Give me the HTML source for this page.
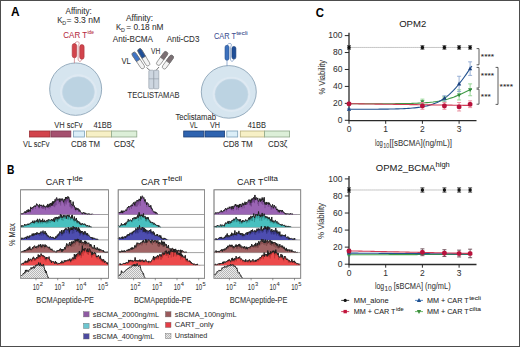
<!DOCTYPE html>
<html><head><meta charset="utf-8"><style>
html,body{margin:0;padding:0;background:#fff;}
svg{display:block;font-family:"Liberation Sans", sans-serif;}
text{stroke:currentColor;stroke-width:0.05px;}
</style></head><body>
<svg width="520" height="347" viewBox="0 0 520 347">
<rect x="0.5" y="0.5" width="519" height="346" fill="#fff" stroke="#4d4d4d" stroke-width="1"/>
<text x="11.0" y="16.3" font-size="11.87" fill="#000" color="#000" textLength="8.6" lengthAdjust="spacingAndGlyphs" font-weight="bold" >A</text>
<text x="7.1" y="173.5" font-size="11.87" fill="#000" color="#000" textLength="7.4" lengthAdjust="spacingAndGlyphs" font-weight="bold" >B</text>
<text x="315.8" y="16.7" font-size="11.87" fill="#000" color="#000" textLength="8.2" lengthAdjust="spacingAndGlyphs" font-weight="bold" >C</text>
<ellipse cx="75.65" cy="89.15" rx="26.0" ry="26.2" fill="#d6e5ef" stroke="#8da5b8" stroke-width="0.9"/>
<ellipse cx="78.4" cy="91.9" rx="18.4" ry="17.599999999999998" fill="#dee9f2"/>
<ellipse cx="78.4" cy="91.9" rx="16.0" ry="15.2" fill="#bcd3e2" stroke="#c6d9e6" stroke-width="0.6"/>
<ellipse cx="228.8" cy="91.9" rx="27.5" ry="26.3" fill="#d6e5ef" stroke="#8da5b8" stroke-width="0.9"/>
<ellipse cx="231.5" cy="94.3" rx="18.9" ry="17.599999999999998" fill="#dee9f2"/>
<ellipse cx="231.5" cy="94.3" rx="16.5" ry="15.2" fill="#bcd3e2" stroke="#c6d9e6" stroke-width="0.6"/>
<path d="M74.4,44.6 C74.4,40.6 81.9,40.6 78.15,45.6 L78.15,59.2 C78.15,62.2 81.9,62.2 81.9,58.2" fill="none" stroke="#c9767c" stroke-width="0.7"/>
<line x1="74.4" y1="56.8" x2="74.4" y2="63.2" stroke="#c9767c" stroke-width="0.7"/>
<rect x="72.2" y="43.6" width="4.4" height="14.199999999999996" rx="2.2" fill="#d2444c" stroke="#a8323a" stroke-width="0.6"/>
<rect x="79.7" y="44.6" width="4.4" height="14.600000000000001" rx="2.2" fill="#d2444c" stroke="#a8323a" stroke-width="0.6"/>
<path d="M227.0,46.3 C227.0,42.3 233.9,42.3 230.45,47.3 L230.45,59.1 C230.45,62.1 233.9,62.1 233.9,58.1" fill="none" stroke="#6f8fbf" stroke-width="0.7"/>
<line x1="227.0" y1="59.3" x2="227.0" y2="66" stroke="#6f8fbf" stroke-width="0.7"/>
<rect x="225.0" y="45.3" width="4.0" height="15.0" rx="2.0" fill="#3d71bd" stroke="#2a538f" stroke-width="0.6"/>
<rect x="231.9" y="46.4" width="4.0" height="12.700000000000003" rx="2.0" fill="#1f4e97" stroke="#173a73" stroke-width="0.6"/>
<text x="65.6" y="13.6" font-size="8.48" fill="#2e2e2e" color="#2e2e2e" textLength="26.2" lengthAdjust="spacingAndGlyphs" >Affinity:</text>
<text x="57.2" y="23.1" font-size="8.48" fill="#2e2e2e" color="#2e2e2e" textLength="5.2" lengthAdjust="spacingAndGlyphs" >K</text>
<text x="62.3" y="25.4" font-size="5.3" fill="#2e2e2e" color="#2e2e2e" >D</text>
<text x="66.5" y="23.1" font-size="8.48" fill="#2e2e2e" color="#2e2e2e" textLength="33.7" lengthAdjust="spacingAndGlyphs" >= 3.3 nM</text>
<text x="63.3" y="37.6" font-size="8.37" fill="#b52a40" color="#b52a40" textLength="23.8" lengthAdjust="spacingAndGlyphs" >CAR T</text>
<text x="87.4" y="34.4" font-size="5.3" fill="#b52a40" color="#b52a40" textLength="6.5" lengthAdjust="spacingAndGlyphs" >ide</text>
<text x="126" y="20.6" font-size="8.48" fill="#2e2e2e" color="#2e2e2e" textLength="27" lengthAdjust="spacingAndGlyphs" >Affinity:</text>
<text x="116" y="30.1" font-size="8.48" fill="#2e2e2e" color="#2e2e2e" textLength="5.2" lengthAdjust="spacingAndGlyphs" >K</text>
<text x="121.1" y="32.4" font-size="5.3" fill="#2e2e2e" color="#2e2e2e" >D</text>
<text x="126.3" y="30.1" font-size="8.48" fill="#2e2e2e" color="#2e2e2e" textLength="37.2" lengthAdjust="spacingAndGlyphs" >= 0.18 nM</text>
<text x="112.8" y="41.6" font-size="8.48" fill="#2e2e2e" color="#2e2e2e" textLength="40.2" lengthAdjust="spacingAndGlyphs" >Anti-BCMA</text>
<text x="166.7" y="41.8" font-size="8.48" fill="#2e2e2e" color="#2e2e2e" textLength="32.7" lengthAdjust="spacingAndGlyphs" >Anti-CD3</text>
<text x="214" y="38.6" font-size="8.37" fill="#3a4d8f" color="#3a4d8f" textLength="22" lengthAdjust="spacingAndGlyphs" >CAR T</text>
<text x="236.3" y="35.3" font-size="5.3" fill="#3a4d8f" color="#3a4d8f" textLength="11.5" lengthAdjust="spacingAndGlyphs" >tecli</text>
<path d="M146.5,67.5 L150.5,71 M159,67 L155.5,71" stroke="#555" stroke-width="0.8" fill="none"/>
<g transform="translate(133.0,52.6) rotate(56.14)">
<rect x="0" y="-2.1" width="19.02629759044045" height="4.2" rx="2.1" fill="#f4f4f4" stroke="#6a6a6a" stroke-width="0.6"/>
<path d="M9.513148795220225,-2.1 L2.1,-2.1 A2.1,2.1 0 0 0 2.1,2.1 L9.513148795220225,2.1 Z" fill="#3f74c6" stroke="#6a6a6a" stroke-width="0.6"/>
</g>
<g transform="translate(138.8,49.0) rotate(58.93)">
<rect x="0" y="-2.1" width="19.379370474811605" height="4.2" rx="2.1" fill="#f4f4f4" stroke="#6a6a6a" stroke-width="0.6"/>
<path d="M9.689685237405802,-2.1 L2.1,-2.1 A2.1,2.1 0 0 0 2.1,2.1 L9.689685237405802,2.1 Z" fill="#1f4f98" stroke="#6a6a6a" stroke-width="0.6"/>
</g>
<g transform="translate(172.6,55.6) rotate(125.87)">
<rect x="0" y="-2.1" width="16.04244370412438" height="4.2" rx="2.1" fill="#f4f4f4" stroke="#6a6a6a" stroke-width="0.6"/>
<path d="M8.02122185206219,-2.1 L2.1,-2.1 A2.1,2.1 0 0 0 2.1,2.1 L8.02122185206219,2.1 Z" fill="#7b7074" stroke="#6a6a6a" stroke-width="0.6"/>
</g>
<g transform="translate(166.8,52.0) rotate(125.87)">
<rect x="0" y="-2.1" width="16.042443704124384" height="4.2" rx="2.1" fill="#f4f4f4" stroke="#6a6a6a" stroke-width="0.6"/>
<path d="M8.021221852062192,-2.1 L2.1,-2.1 A2.1,2.1 0 0 0 2.1,2.1 L8.021221852062192,2.1 Z" fill="#7b7074" stroke="#6a6a6a" stroke-width="0.6"/>
</g>
<rect x="148.8" y="70.2" width="5" height="18.6" rx="1" fill="#cdd6e0" stroke="#8d97a3" stroke-width="0.6"/>
<rect x="153.8" y="70.2" width="5" height="18.6" rx="1" fill="#cdd6e0" stroke="#8d97a3" stroke-width="0.6"/>
<line x1="148.8" y1="78.8" x2="158.8" y2="78.8" stroke="#8d97a3" stroke-width="0.6"/>
<text x="121.5" y="64.2" font-size="8.48" fill="#2e2e2e" color="#2e2e2e" textLength="9.3" lengthAdjust="spacingAndGlyphs" >VL</text>
<text x="151" y="54.3" font-size="8.48" fill="#2e2e2e" color="#2e2e2e" textLength="9.3" lengthAdjust="spacingAndGlyphs" >VH</text>
<text x="127.6" y="98" font-size="8.48" fill="#2e2e2e" color="#2e2e2e" textLength="51.9" lengthAdjust="spacingAndGlyphs" >TECLISTAMAB</text>
<rect x="29.5" y="131.0" width="20.5" height="6.0" fill="#d2434b" stroke="#9c2f36" stroke-width="0.8"/>
<rect x="51.0" y="131.0" width="19.799999999999997" height="6.0" fill="#a5506f" stroke="#7d3b53" stroke-width="0.8"/>
<rect x="73.4" y="131.0" width="11.0" height="6.0" fill="#dbeef8" stroke="#7b9fb8" stroke-width="0.8"/>
<rect x="86.4" y="131.0" width="25.0" height="6.0" fill="#f7f0c6" stroke="#b7ae7d" stroke-width="0.8"/>
<rect x="111.4" y="131.0" width="25.400000000000006" height="6.0" fill="#dcefd8" stroke="#8ea889" stroke-width="0.8"/>
<text x="54.3" y="128.4" font-size="8.48" fill="#2e2e2e" color="#2e2e2e" textLength="28.3" lengthAdjust="spacingAndGlyphs" >VH scFv</text>
<text x="93.4" y="128.4" font-size="8.48" fill="#2e2e2e" color="#2e2e2e" textLength="18.5" lengthAdjust="spacingAndGlyphs" >41BB</text>
<text x="23.0" y="146.9" font-size="8.48" fill="#2e2e2e" color="#2e2e2e" textLength="26.5" lengthAdjust="spacingAndGlyphs" >VL scFv</text>
<text x="71.0" y="146.9" font-size="8.48" fill="#2e2e2e" color="#2e2e2e" textLength="29" lengthAdjust="spacingAndGlyphs" >CD8 TM</text>
<text x="113.8" y="146.9" font-size="8.48" fill="#2e2e2e" color="#2e2e2e" textLength="20.8" lengthAdjust="spacingAndGlyphs" >CD3ζ</text>
<rect x="183.7" y="131.0" width="20.100000000000023" height="6.0" fill="#2e63b0" stroke="#1d3f75" stroke-width="0.8"/>
<rect x="205.0" y="131.0" width="19.599999999999994" height="6.0" fill="#2e63b0" stroke="#1d3f75" stroke-width="0.8"/>
<rect x="226.8" y="131.0" width="10.899999999999977" height="6.0" fill="#dbeef8" stroke="#7b9fb8" stroke-width="0.8"/>
<rect x="240.3" y="131.0" width="24.30000000000001" height="6.0" fill="#f7f0c6" stroke="#b7ae7d" stroke-width="0.8"/>
<rect x="264.6" y="131.0" width="25.0" height="6.0" fill="#dcefd8" stroke="#8ea889" stroke-width="0.8"/>
<text x="175.4" y="120.2" font-size="8.48" fill="#2e2e2e" color="#2e2e2e" textLength="40.6" lengthAdjust="spacingAndGlyphs" >Teclistamab</text>
<text x="189.7" y="128.3" font-size="8.48" fill="#2e2e2e" color="#2e2e2e" textLength="8" lengthAdjust="spacingAndGlyphs" >VL</text>
<text x="210" y="128.3" font-size="8.48" fill="#2e2e2e" color="#2e2e2e" textLength="10" lengthAdjust="spacingAndGlyphs" >VH</text>
<text x="247.7" y="128.4" font-size="8.48" fill="#2e2e2e" color="#2e2e2e" textLength="18.3" lengthAdjust="spacingAndGlyphs" >41BB</text>
<text x="223.0" y="146.9" font-size="8.48" fill="#2e2e2e" color="#2e2e2e" textLength="29.8" lengthAdjust="spacingAndGlyphs" >CD8 TM</text>
<text x="268.0" y="146.9" font-size="8.48" fill="#2e2e2e" color="#2e2e2e" textLength="19.3" lengthAdjust="spacingAndGlyphs" >CD3ζ</text>
<defs><pattern id="hatch" width="2" height="2" patternUnits="userSpaceOnUse"><rect width="2" height="2" fill="#ececec"/><rect width="1" height="1" fill="#b6b6b6"/><rect x="1" y="1" width="1" height="1" fill="#b6b6b6"/></pattern></defs>
<rect x="20.6" y="189.8" width="87.80000000000001" height="88.5" fill="#fff" stroke="#8a8a8a" stroke-width="0.8"/>
<line x1="20.6" y1="214.5" x2="108.4" y2="214.5" stroke="#8a8a8a" stroke-width="0.8"/>
<path d="M20.6,214.5 L20.60,214.17 L21.00,213.53 L21.40,214.14 L21.80,213.55 L22.20,213.77 L22.60,213.52 L23.01,213.16 L23.41,213.08 L23.81,213.16 L24.21,212.71 L24.61,212.12 L25.01,211.38 L25.41,213.14 L25.81,211.65 L26.21,212.79 L26.61,211.91 L27.01,210.02 L27.42,211.84 L27.82,211.81 L28.22,209.38 L28.62,212.06 L29.02,209.96 L29.42,210.29 L29.82,209.91 L30.22,211.48 L30.62,207.05 L31.02,207.42 L31.42,208.93 L31.83,208.00 L32.23,207.51 L32.63,207.49 L33.03,208.10 L33.43,207.07 L33.83,206.20 L34.23,206.66 L34.63,206.53 L35.03,205.37 L35.43,206.95 L35.83,206.19 L36.24,205.27 L36.64,203.67 L37.04,204.01 L37.44,205.32 L37.84,205.34 L38.24,205.73 L38.64,205.38 L39.04,207.30 L39.44,204.32 L39.84,204.67 L40.24,205.59 L40.65,204.94 L41.05,206.00 L41.45,204.90 L41.85,205.84 L42.25,205.86 L42.65,206.48 L43.05,205.95 L43.45,204.79 L43.85,206.93 L44.25,206.86 L44.65,205.96 L45.06,206.35 L45.46,207.21 L45.86,207.17 L46.26,205.99 L46.66,205.63 L47.06,207.21 L47.46,205.33 L47.86,203.94 L48.26,207.26 L48.66,205.10 L49.06,205.21 L49.47,203.74 L49.87,206.68 L50.27,204.09 L50.67,203.13 L51.07,203.70 L51.47,205.55 L51.87,202.70 L52.27,205.45 L52.67,201.41 L53.07,204.05 L53.47,201.56 L53.88,203.08 L54.28,201.22 L54.68,201.80 L55.08,199.25 L55.48,201.36 L55.88,200.77 L56.28,198.16 L56.68,197.56 L57.08,198.71 L57.48,199.45 L57.88,200.36 L58.29,199.13 L58.69,199.05 L59.09,199.12 L59.49,198.76 L59.89,201.82 L60.29,198.78 L60.69,199.34 L61.09,198.62 L61.49,198.98 L61.89,200.56 L62.29,198.87 L62.70,198.68 L63.10,200.30 L63.50,202.28 L63.90,200.32 L64.30,199.05 L64.70,200.18 L65.10,200.08 L65.50,197.06 L65.90,199.03 L66.30,197.00 L66.71,198.22 L67.11,198.56 L67.51,198.79 L67.91,196.31 L68.31,198.15 L68.71,197.03 L69.11,198.62 L69.51,201.00 L69.91,202.41 L70.31,201.31 L70.71,200.12 L71.12,203.52 L71.52,204.52 L71.92,204.49 L72.32,205.32 L72.72,205.80 L73.12,201.68 L73.52,205.39 L73.92,206.32 L74.32,205.70 L74.72,207.48 L75.12,207.04 L75.53,210.01 L75.93,208.28 L76.33,207.82 L76.73,209.33 L77.13,209.80 L77.53,208.46 L77.93,209.67 L78.33,208.61 L78.73,209.66 L79.13,211.58 L79.53,209.67 L79.94,210.27 L80.34,211.27 L80.74,211.97 L81.14,212.64 L81.54,212.76 L81.94,213.68 L82.34,213.87 L82.74,212.76 L83.14,213.05 L83.54,212.17 L83.94,212.67 L84.35,213.58 L84.75,212.66 L85.15,214.09 L85.55,212.94 L85.95,213.66 L86.35,214.12 L86.75,213.57 L87.15,214.26 L87.55,214.03 L87.95,214.50 L88.35,214.12 L88.76,213.54 L89.16,214.38 L89.56,213.98 L89.96,213.98 L90.36,214.46 L90.76,214.17 L91.16,214.07 L91.56,214.23 L91.96,214.15 L92.36,213.79 L92.76,214.33 L93.17,214.32 L93.57,214.45 L93.97,214.26 L94.37,214.25 L94.77,214.26 L95.17,214.27 L95.57,214.28 L95.97,214.29 L96.37,214.29 L96.77,214.30 L97.17,214.31 L97.58,214.32 L97.98,214.33 L98.38,214.34 L98.78,214.35 L99.18,214.36 L99.58,214.37 L99.98,214.38 L100.38,214.39 L100.78,214.40 L101.18,214.40 L101.58,214.41 L101.99,214.42 L102.39,214.43 L102.79,214.44 L103.19,214.45 L103.59,214.45 L103.99,214.46 L104.39,214.47 L104.79,214.47 L105.19,214.48 L105.59,214.48 L105.99,214.49 L106.40,214.49 L106.80,214.49 L107.20,214.50 L107.60,214.50 L108.00,214.50 L108.40,214.50 L108.4,214.5 Z" fill="#9a64b4"/>
<path d="M24.2,212.7V213.4M24.6,212.1V213.0M25.0,211.4V212.1M28.2,209.4V211.2M29.4,210.3V211.3M30.2,211.5V212.8M31.0,207.4V208.6M31.8,208.0V208.8M32.6,207.5V210.1M33.0,208.1V209.6M33.8,206.2V207.4M35.4,207.0V209.0M37.0,204.0V204.9M37.4,205.3V206.1M39.0,207.3V208.4M39.4,204.3V208.3M40.6,204.9V205.8M41.4,204.9V208.3M41.8,205.8V208.0M42.7,206.5V208.9M43.1,205.9V208.8M43.9,206.9V208.8M44.7,206.0V207.2M45.1,206.4V208.5M45.5,207.2V210.2M47.5,205.3V208.0M49.1,205.2V209.1M50.7,203.1V207.8M52.7,201.4V205.8M53.1,204.1V206.1M53.5,201.6V202.2M53.9,203.1V206.6M54.7,201.8V207.2M55.5,201.4V205.5M56.7,197.6V205.2M58.7,199.0V203.6M59.5,198.8V202.0M59.9,201.8V203.4M60.3,198.8V200.0M60.7,199.3V205.6M63.9,200.3V204.4M64.7,200.2V206.2M65.1,200.1V203.5M65.5,197.1V201.3M66.3,197.0V204.5M66.7,198.2V202.4M67.5,198.8V201.2M68.7,197.0V202.8M69.1,198.6V199.3M69.5,201.0V201.8M69.9,202.4V206.7M70.3,201.3V206.7M71.1,203.5V208.4M71.9,204.5V208.6M72.3,205.3V207.6M73.1,201.7V205.0M74.3,205.7V209.6M75.5,210.0V211.5M75.9,208.3V209.3M76.3,207.8V209.7M76.7,209.3V210.7M77.5,208.5V209.6M78.3,208.6V210.8M80.3,211.3V212.0M82.7,212.8V213.4" stroke="#3a1a4a" stroke-width="0.6" opacity="0.55" fill="none"/>
<path d="M20.60,214.20 L21.00,213.53 L21.40,214.14 L21.80,213.55 L22.20,213.77 L22.60,213.52 L23.01,213.16 L23.41,213.08 L23.81,213.16 L24.21,212.71 L24.61,212.12 L25.01,211.38 L25.41,213.14 L25.81,211.65 L26.21,212.79 L26.61,211.91 L27.01,210.02 L27.42,211.84 L27.82,211.81 L28.22,209.38 L28.62,212.06 L29.02,209.96 L29.42,210.29 L29.82,209.91 L30.22,211.48 L30.62,207.05 L31.02,207.42 L31.42,208.93 L31.83,208.00 L32.23,207.51 L32.63,207.49 L33.03,208.10 L33.43,207.07 L33.83,206.20 L34.23,206.66 L34.63,206.53 L35.03,205.37 L35.43,206.95 L35.83,206.19 L36.24,205.27 L36.64,203.67 L37.04,204.01 L37.44,205.32 L37.84,205.34 L38.24,205.73 L38.64,205.38 L39.04,207.30 L39.44,204.32 L39.84,204.67 L40.24,205.59 L40.65,204.94 L41.05,206.00 L41.45,204.90 L41.85,205.84 L42.25,205.86 L42.65,206.48 L43.05,205.95 L43.45,204.79 L43.85,206.93 L44.25,206.86 L44.65,205.96 L45.06,206.35 L45.46,207.21 L45.86,207.17 L46.26,205.99 L46.66,205.63 L47.06,207.21 L47.46,205.33 L47.86,203.94 L48.26,207.26 L48.66,205.10 L49.06,205.21 L49.47,203.74 L49.87,206.68 L50.27,204.09 L50.67,203.13 L51.07,203.70 L51.47,205.55 L51.87,202.70 L52.27,205.45 L52.67,201.41 L53.07,204.05 L53.47,201.56 L53.88,203.08 L54.28,201.22 L54.68,201.80 L55.08,199.25 L55.48,201.36 L55.88,200.77 L56.28,198.16 L56.68,197.56 L57.08,198.71 L57.48,199.45 L57.88,200.36 L58.29,199.13 L58.69,199.05 L59.09,199.12 L59.49,198.76 L59.89,201.82 L60.29,198.78 L60.69,199.34 L61.09,198.62 L61.49,198.98 L61.89,200.56 L62.29,198.87 L62.70,198.68 L63.10,200.30 L63.50,202.28 L63.90,200.32 L64.30,199.05 L64.70,200.18 L65.10,200.08 L65.50,197.06 L65.90,199.03 L66.30,197.00 L66.71,198.22 L67.11,198.56 L67.51,198.79 L67.91,196.31 L68.31,198.15 L68.71,197.03 L69.11,198.62 L69.51,201.00 L69.91,202.41 L70.31,201.31 L70.71,200.12 L71.12,203.52 L71.52,204.52 L71.92,204.49 L72.32,205.32 L72.72,205.80 L73.12,201.68 L73.52,205.39 L73.92,206.32 L74.32,205.70 L74.72,207.48 L75.12,207.04 L75.53,210.01 L75.93,208.28 L76.33,207.82 L76.73,209.33 L77.13,209.80 L77.53,208.46 L77.93,209.67 L78.33,208.61 L78.73,209.66 L79.13,211.58 L79.53,209.67 L79.94,210.27 L80.34,211.27 L80.74,211.97 L81.14,212.64 L81.54,212.76 L81.94,213.68 L82.34,213.87 L82.74,212.76 L83.14,213.05 L83.54,212.17 L83.94,212.67 L84.35,213.58 L84.75,212.66 L85.15,214.09 L85.55,212.94 L85.95,213.66 L86.35,214.12 L86.75,213.57 L87.15,214.20 M87.15,214.20 L87.55,214.03 L87.95,214.20 M87.95,214.20 L88.35,214.12 L88.76,213.54 L89.16,214.20 M89.16,214.20 L89.56,213.98 L89.96,213.98 L90.36,214.20 M90.76,214.20 L91.16,214.07 L91.56,214.20 M91.96,214.20 L92.36,213.79 L92.76,214.20" fill="none" stroke="#1c1c1c" stroke-width="0.95" stroke-linejoin="round"/>
<line x1="20.6" y1="227.3" x2="108.4" y2="227.3" stroke="#8a8a8a" stroke-width="0.8"/>
<path d="M20.6,227.3 L20.60,226.49 L21.00,226.73 L21.40,225.45 L21.80,226.75 L22.20,226.53 L22.60,225.51 L23.01,226.17 L23.41,226.28 L23.81,225.91 L24.21,225.36 L24.61,224.11 L25.01,225.27 L25.41,224.91 L25.81,225.23 L26.21,224.56 L26.61,225.22 L27.01,225.03 L27.42,224.02 L27.82,223.96 L28.22,223.64 L28.62,224.93 L29.02,224.39 L29.42,223.87 L29.82,223.95 L30.22,222.98 L30.62,222.96 L31.02,223.10 L31.42,222.43 L31.83,222.85 L32.23,222.18 L32.63,220.79 L33.03,223.05 L33.43,221.91 L33.83,222.70 L34.23,220.62 L34.63,222.62 L35.03,222.34 L35.43,221.16 L35.83,221.18 L36.24,220.38 L36.64,220.61 L37.04,221.83 L37.44,218.86 L37.84,221.07 L38.24,222.46 L38.64,221.31 L39.04,219.44 L39.44,219.26 L39.84,218.95 L40.24,222.21 L40.65,220.49 L41.05,221.68 L41.45,220.42 L41.85,221.54 L42.25,221.71 L42.65,218.77 L43.05,221.92 L43.45,220.98 L43.85,222.00 L44.25,219.92 L44.65,220.23 L45.06,222.23 L45.46,221.42 L45.86,221.56 L46.26,221.55 L46.66,220.39 L47.06,219.99 L47.46,220.80 L47.86,221.33 L48.26,219.30 L48.66,219.78 L49.06,219.85 L49.47,219.76 L49.87,220.22 L50.27,220.14 L50.67,220.41 L51.07,220.35 L51.47,219.13 L51.87,220.16 L52.27,219.79 L52.67,220.80 L53.07,219.41 L53.47,220.39 L53.88,218.29 L54.28,221.84 L54.68,220.08 L55.08,217.00 L55.48,218.04 L55.88,219.48 L56.28,218.30 L56.68,216.93 L57.08,218.39 L57.48,217.34 L57.88,219.13 L58.29,217.06 L58.69,216.62 L59.09,218.49 L59.49,217.01 L59.89,217.19 L60.29,214.64 L60.69,214.16 L61.09,217.70 L61.49,215.14 L61.89,215.43 L62.29,217.82 L62.70,217.14 L63.10,216.15 L63.50,214.97 L63.90,217.30 L64.30,216.44 L64.70,215.34 L65.10,215.28 L65.50,216.31 L65.90,215.81 L66.30,218.69 L66.71,215.47 L67.11,215.11 L67.51,216.02 L67.91,214.95 L68.31,216.54 L68.71,215.74 L69.11,214.84 L69.51,217.15 L69.91,216.72 L70.31,217.11 L70.71,217.63 L71.12,218.36 L71.52,215.48 L71.92,217.86 L72.32,214.89 L72.72,218.54 L73.12,219.21 L73.52,219.22 L73.92,219.32 L74.32,216.57 L74.72,218.78 L75.12,220.75 L75.53,219.60 L75.93,220.16 L76.33,217.97 L76.73,220.68 L77.13,222.46 L77.53,220.62 L77.93,220.94 L78.33,221.43 L78.73,221.88 L79.13,221.63 L79.53,223.67 L79.94,222.55 L80.34,224.51 L80.74,223.69 L81.14,223.57 L81.54,224.76 L81.94,223.97 L82.34,223.07 L82.74,223.47 L83.14,224.86 L83.54,224.56 L83.94,224.70 L84.35,223.95 L84.75,223.83 L85.15,223.96 L85.55,225.48 L85.95,225.46 L86.35,225.26 L86.75,226.34 L87.15,226.18 L87.55,225.23 L87.95,226.15 L88.35,226.50 L88.76,225.98 L89.16,225.48 L89.56,226.72 L89.96,226.09 L90.36,227.23 L90.76,227.17 L91.16,226.81 L91.56,227.12 L91.96,227.23 L92.36,227.29 L92.76,227.30 L93.17,227.30 L93.57,227.30 L93.97,227.30 L94.37,227.30 L94.77,227.30 L95.17,227.30 L95.57,227.30 L95.97,227.30 L96.37,227.30 L96.77,227.30 L97.17,227.30 L97.58,227.30 L97.98,227.30 L98.38,227.30 L98.78,227.30 L99.18,227.30 L99.58,227.30 L99.98,227.30 L100.38,227.30 L100.78,227.30 L101.18,227.30 L101.58,227.30 L101.99,227.30 L102.39,227.30 L102.79,227.30 L103.19,227.30 L103.59,227.30 L103.99,227.30 L104.39,227.30 L104.79,227.30 L105.19,227.30 L105.59,227.30 L105.99,227.30 L106.40,227.30 L106.80,227.30 L107.20,227.30 L107.60,227.30 L108.00,227.30 L108.40,227.30 L108.4,227.3 Z" fill="#48c0bf"/>
<path d="M21.4,225.4V226.2M22.6,225.5V226.2M24.2,225.4V226.1M24.6,224.1V225.3M25.0,225.3V226.2M25.8,225.2V226.0M27.8,224.0V225.5M29.0,224.4V225.3M31.0,223.1V224.9M31.4,222.4V223.1M33.8,222.7V224.2M34.2,220.6V221.5M34.6,222.6V224.0M35.0,222.3V223.0M36.2,220.4V221.7M36.6,220.6V221.8M37.0,221.8V224.1M38.6,221.3V223.6M39.0,219.4V222.2M40.2,222.2V224.1M40.6,220.5V222.4M41.4,220.4V221.6M41.8,221.5V222.8M42.2,221.7V224.0M43.1,221.9V223.2M43.9,222.0V222.7M44.7,220.2V222.1M45.9,221.6V222.6M46.3,221.5V224.0M47.1,220.0V222.8M47.5,220.8V222.5M47.9,221.3V223.8M48.7,219.8V222.1M49.1,219.8V222.9M49.5,219.8V220.7M50.3,220.1V223.1M51.5,219.1V221.9M52.3,219.8V220.6M52.7,220.8V222.1M53.5,220.4V221.4M53.9,218.3V221.2M54.7,220.1V222.4M55.9,219.5V221.0M57.1,218.4V221.2M57.5,217.3V221.8M57.9,219.1V221.4M58.7,216.6V219.7M59.1,218.5V219.9M59.9,217.2V218.9M60.7,214.2V216.2M61.5,215.1V220.1M62.3,217.8V220.1M63.1,216.1V220.9M63.5,215.0V216.5M64.7,215.3V219.1M67.9,215.0V219.4M68.3,216.5V219.7M68.7,215.7V218.4M70.3,217.1V219.7M70.7,217.6V220.4M71.1,218.4V219.1M73.1,219.2V220.3M73.5,219.2V221.3M73.9,219.3V221.2M74.3,216.6V220.5M74.7,218.8V222.3M76.3,218.0V219.1M76.7,220.7V221.4M77.1,222.5V224.0M77.9,220.9V222.9M78.3,221.4V223.7M78.7,221.9V223.0M79.1,221.6V223.6M80.3,224.5V225.4M80.7,223.7V224.5M81.5,224.8V225.6M82.7,223.5V224.6M83.5,224.6V225.3M84.3,223.9V224.9M84.7,223.8V224.8M85.1,224.0V224.6M87.6,225.2V225.9" stroke="#0e4a48" stroke-width="0.6" opacity="0.55" fill="none"/>
<path d="M20.60,226.49 L21.00,226.73 L21.40,225.45 L21.80,226.75 L22.20,226.53 L22.60,225.51 L23.01,226.17 L23.41,226.28 L23.81,225.91 L24.21,225.36 L24.61,224.11 L25.01,225.27 L25.41,224.91 L25.81,225.23 L26.21,224.56 L26.61,225.22 L27.01,225.03 L27.42,224.02 L27.82,223.96 L28.22,223.64 L28.62,224.93 L29.02,224.39 L29.42,223.87 L29.82,223.95 L30.22,222.98 L30.62,222.96 L31.02,223.10 L31.42,222.43 L31.83,222.85 L32.23,222.18 L32.63,220.79 L33.03,223.05 L33.43,221.91 L33.83,222.70 L34.23,220.62 L34.63,222.62 L35.03,222.34 L35.43,221.16 L35.83,221.18 L36.24,220.38 L36.64,220.61 L37.04,221.83 L37.44,218.86 L37.84,221.07 L38.24,222.46 L38.64,221.31 L39.04,219.44 L39.44,219.26 L39.84,218.95 L40.24,222.21 L40.65,220.49 L41.05,221.68 L41.45,220.42 L41.85,221.54 L42.25,221.71 L42.65,218.77 L43.05,221.92 L43.45,220.98 L43.85,222.00 L44.25,219.92 L44.65,220.23 L45.06,222.23 L45.46,221.42 L45.86,221.56 L46.26,221.55 L46.66,220.39 L47.06,219.99 L47.46,220.80 L47.86,221.33 L48.26,219.30 L48.66,219.78 L49.06,219.85 L49.47,219.76 L49.87,220.22 L50.27,220.14 L50.67,220.41 L51.07,220.35 L51.47,219.13 L51.87,220.16 L52.27,219.79 L52.67,220.80 L53.07,219.41 L53.47,220.39 L53.88,218.29 L54.28,221.84 L54.68,220.08 L55.08,217.00 L55.48,218.04 L55.88,219.48 L56.28,218.30 L56.68,216.93 L57.08,218.39 L57.48,217.34 L57.88,219.13 L58.29,217.06 L58.69,216.62 L59.09,218.49 L59.49,217.01 L59.89,217.19 L60.29,214.64 L60.69,214.16 L61.09,217.70 L61.49,215.14 L61.89,215.43 L62.29,217.82 L62.70,217.14 L63.10,216.15 L63.50,214.97 L63.90,217.30 L64.30,216.44 L64.70,215.34 L65.10,215.28 L65.50,216.31 L65.90,215.81 L66.30,218.69 L66.71,215.47 L67.11,215.11 L67.51,216.02 L67.91,214.95 L68.31,216.54 L68.71,215.74 L69.11,214.84 L69.51,217.15 L69.91,216.72 L70.31,217.11 L70.71,217.63 L71.12,218.36 L71.52,215.48 L71.92,217.86 L72.32,214.89 L72.72,218.54 L73.12,219.21 L73.52,219.22 L73.92,219.32 L74.32,216.57 L74.72,218.78 L75.12,220.75 L75.53,219.60 L75.93,220.16 L76.33,217.97 L76.73,220.68 L77.13,222.46 L77.53,220.62 L77.93,220.94 L78.33,221.43 L78.73,221.88 L79.13,221.63 L79.53,223.67 L79.94,222.55 L80.34,224.51 L80.74,223.69 L81.14,223.57 L81.54,224.76 L81.94,223.97 L82.34,223.07 L82.74,223.47 L83.14,224.86 L83.54,224.56 L83.94,224.70 L84.35,223.95 L84.75,223.83 L85.15,223.96 L85.55,225.48 L85.95,225.46 L86.35,225.26 L86.75,226.34 L87.15,226.18 L87.55,225.23 L87.95,226.15 L88.35,226.50 L88.76,225.98 L89.16,225.48 L89.56,226.72 L89.96,226.09 L90.36,227.00 M90.76,227.00 L91.16,226.81 L91.56,227.00" fill="none" stroke="#1c1c1c" stroke-width="0.95" stroke-linejoin="round"/>
<line x1="20.6" y1="239.9" x2="108.4" y2="239.9" stroke="#8a8a8a" stroke-width="0.8"/>
<path d="M20.6,239.9 L20.60,238.69 L21.00,239.88 L21.40,238.70 L21.80,237.76 L22.20,238.80 L22.60,238.21 L23.01,238.29 L23.41,239.13 L23.81,238.68 L24.21,237.69 L24.61,238.24 L25.01,237.86 L25.41,237.25 L25.81,237.32 L26.21,236.98 L26.61,239.01 L27.01,236.71 L27.42,235.91 L27.82,236.63 L28.22,237.07 L28.62,236.78 L29.02,237.80 L29.42,235.62 L29.82,236.54 L30.22,235.78 L30.62,235.74 L31.02,235.83 L31.42,235.63 L31.83,235.02 L32.23,233.70 L32.63,235.78 L33.03,234.38 L33.43,233.51 L33.83,235.53 L34.23,234.23 L34.63,234.65 L35.03,233.21 L35.43,234.07 L35.83,233.42 L36.24,234.99 L36.64,232.48 L37.04,232.96 L37.44,232.55 L37.84,234.19 L38.24,233.20 L38.64,233.31 L39.04,233.95 L39.44,233.23 L39.84,233.99 L40.24,232.37 L40.65,232.45 L41.05,231.46 L41.45,232.05 L41.85,232.58 L42.25,232.12 L42.65,232.11 L43.05,230.62 L43.45,233.35 L43.85,232.76 L44.25,233.00 L44.65,233.49 L45.06,231.07 L45.46,233.15 L45.86,234.47 L46.26,232.85 L46.66,233.78 L47.06,235.54 L47.46,235.06 L47.86,235.09 L48.26,236.74 L48.66,235.91 L49.06,237.43 L49.47,237.67 L49.87,237.41 L50.27,236.24 L50.67,237.18 L51.07,237.43 L51.47,237.58 L51.87,236.96 L52.27,237.38 L52.67,237.22 L53.07,236.98 L53.47,237.71 L53.88,238.53 L54.28,237.76 L54.68,238.72 L55.08,238.09 L55.48,238.18 L55.88,236.27 L56.28,237.21 L56.68,237.41 L57.08,235.57 L57.48,234.79 L57.88,235.53 L58.29,234.21 L58.69,234.18 L59.09,233.23 L59.49,233.20 L59.89,231.54 L60.29,232.37 L60.69,232.41 L61.09,232.07 L61.49,230.32 L61.89,234.04 L62.29,232.26 L62.70,231.83 L63.10,229.97 L63.50,230.89 L63.90,232.41 L64.30,231.55 L64.70,229.19 L65.10,229.52 L65.50,230.02 L65.90,227.89 L66.30,228.87 L66.71,228.96 L67.11,229.55 L67.51,230.10 L67.91,230.12 L68.31,227.18 L68.71,228.83 L69.11,229.63 L69.51,232.36 L69.91,227.91 L70.31,228.88 L70.71,229.69 L71.12,227.29 L71.52,230.01 L71.92,227.98 L72.32,230.02 L72.72,227.77 L73.12,226.25 L73.52,228.19 L73.92,229.17 L74.32,227.09 L74.72,227.72 L75.12,227.48 L75.53,229.57 L75.93,227.84 L76.33,227.17 L76.73,229.43 L77.13,228.39 L77.53,229.29 L77.93,231.06 L78.33,227.40 L78.73,230.81 L79.13,231.48 L79.53,228.68 L79.94,233.22 L80.34,230.50 L80.74,231.41 L81.14,232.80 L81.54,230.99 L81.94,231.77 L82.34,231.09 L82.74,232.19 L83.14,234.26 L83.54,232.45 L83.94,234.48 L84.35,231.38 L84.75,231.91 L85.15,231.73 L85.55,231.65 L85.95,234.24 L86.35,233.43 L86.75,234.93 L87.15,233.72 L87.55,233.19 L87.95,235.56 L88.35,235.28 L88.76,234.83 L89.16,236.12 L89.56,236.32 L89.96,236.97 L90.36,237.16 L90.76,237.75 L91.16,237.08 L91.56,237.53 L91.96,237.43 L92.36,239.24 L92.76,237.56 L93.17,238.21 L93.57,238.47 L93.97,237.86 L94.37,238.50 L94.77,238.23 L95.17,238.64 L95.57,238.96 L95.97,239.15 L96.37,238.75 L96.77,239.64 L97.17,238.91 L97.58,239.14 L97.98,239.80 L98.38,239.75 L98.78,239.83 L99.18,239.88 L99.58,239.90 L99.98,239.90 L100.38,239.90 L100.78,239.90 L101.18,239.90 L101.58,239.90 L101.99,239.90 L102.39,239.90 L102.79,239.90 L103.19,239.90 L103.59,239.90 L103.99,239.90 L104.39,239.90 L104.79,239.90 L105.19,239.90 L105.59,239.90 L105.99,239.90 L106.40,239.90 L106.80,239.90 L107.20,239.90 L107.60,239.90 L108.00,239.90 L108.40,239.90 L108.4,239.9 Z" fill="#4d4db0"/>
<path d="M21.8,237.8V238.6M24.2,237.7V238.5M24.6,238.2V238.9M25.8,237.3V238.2M27.4,235.9V237.4M28.2,237.1V238.3M28.6,236.8V238.2M29.0,237.8V238.5M32.2,233.7V236.2M33.0,234.4V236.5M33.4,233.5V235.3M34.2,234.2V235.4M35.0,233.2V235.1M35.8,233.4V234.6M38.6,233.3V234.8M39.0,234.0V234.6M39.4,233.2V235.9M40.2,232.4V233.5M40.6,232.5V235.4M41.8,232.6V235.8M42.2,232.1V234.5M43.5,233.4V235.5M43.9,232.8V233.4M44.3,233.0V234.4M45.1,231.1V233.7M45.9,234.5V235.3M46.7,233.8V234.7M47.1,235.5V237.4M47.9,235.1V236.0M49.5,237.7V238.4M49.9,237.4V238.1M50.7,237.2V238.3M51.1,237.4V238.3M52.3,237.4V238.4M52.7,237.2V238.2M53.1,237.0V238.2M53.5,237.7V238.6M55.1,238.1V238.9M55.5,238.2V238.9M56.3,237.2V237.9M56.7,237.4V238.2M57.1,235.6V237.5M57.5,234.8V236.6M58.3,234.2V235.6M58.7,234.2V236.5M59.1,233.2V234.8M59.5,233.2V235.8M61.1,232.1V235.3M61.5,230.3V232.3M61.9,234.0V236.1M62.7,231.8V235.2M63.5,230.9V233.7M63.9,232.4V234.0M64.3,231.5V233.1M66.7,229.0V233.1M68.3,227.2V230.1M68.7,228.8V232.3M69.1,229.6V234.2M69.5,232.4V234.0M69.9,227.9V230.4M70.7,229.7V231.0M72.3,230.0V233.7M73.5,228.2V231.0M73.9,229.2V233.4M75.1,227.5V229.8M76.3,227.2V231.8M76.7,229.4V232.1M77.1,228.4V231.6M77.5,229.3V230.3M78.3,227.4V231.9M78.7,230.8V232.9M79.1,231.5V232.8M79.5,228.7V231.8M79.9,233.2V235.9M80.3,230.5V234.2M80.7,231.4V235.1M81.5,231.0V233.7M82.7,232.2V232.8M83.1,234.3V236.4M84.3,231.4V233.7M84.7,231.9V232.8M85.1,231.7V235.3M86.3,233.4V235.0M86.8,234.9V236.0M87.2,233.7V236.3M87.6,233.2V235.0M90.4,237.2V237.9M91.2,237.1V237.9M91.6,237.5V238.3M92.0,237.4V238.3M92.8,237.6V238.2M94.0,237.9V238.6" stroke="#141440" stroke-width="0.6" opacity="0.55" fill="none"/>
<path d="M20.60,238.69 L21.00,239.60 M21.00,239.60 L21.40,238.70 L21.80,237.76 L22.20,238.80 L22.60,238.21 L23.01,238.29 L23.41,239.13 L23.81,238.68 L24.21,237.69 L24.61,238.24 L25.01,237.86 L25.41,237.25 L25.81,237.32 L26.21,236.98 L26.61,239.01 L27.01,236.71 L27.42,235.91 L27.82,236.63 L28.22,237.07 L28.62,236.78 L29.02,237.80 L29.42,235.62 L29.82,236.54 L30.22,235.78 L30.62,235.74 L31.02,235.83 L31.42,235.63 L31.83,235.02 L32.23,233.70 L32.63,235.78 L33.03,234.38 L33.43,233.51 L33.83,235.53 L34.23,234.23 L34.63,234.65 L35.03,233.21 L35.43,234.07 L35.83,233.42 L36.24,234.99 L36.64,232.48 L37.04,232.96 L37.44,232.55 L37.84,234.19 L38.24,233.20 L38.64,233.31 L39.04,233.95 L39.44,233.23 L39.84,233.99 L40.24,232.37 L40.65,232.45 L41.05,231.46 L41.45,232.05 L41.85,232.58 L42.25,232.12 L42.65,232.11 L43.05,230.62 L43.45,233.35 L43.85,232.76 L44.25,233.00 L44.65,233.49 L45.06,231.07 L45.46,233.15 L45.86,234.47 L46.26,232.85 L46.66,233.78 L47.06,235.54 L47.46,235.06 L47.86,235.09 L48.26,236.74 L48.66,235.91 L49.06,237.43 L49.47,237.67 L49.87,237.41 L50.27,236.24 L50.67,237.18 L51.07,237.43 L51.47,237.58 L51.87,236.96 L52.27,237.38 L52.67,237.22 L53.07,236.98 L53.47,237.71 L53.88,238.53 L54.28,237.76 L54.68,238.72 L55.08,238.09 L55.48,238.18 L55.88,236.27 L56.28,237.21 L56.68,237.41 L57.08,235.57 L57.48,234.79 L57.88,235.53 L58.29,234.21 L58.69,234.18 L59.09,233.23 L59.49,233.20 L59.89,231.54 L60.29,232.37 L60.69,232.41 L61.09,232.07 L61.49,230.32 L61.89,234.04 L62.29,232.26 L62.70,231.83 L63.10,229.97 L63.50,230.89 L63.90,232.41 L64.30,231.55 L64.70,229.19 L65.10,229.52 L65.50,230.02 L65.90,227.89 L66.30,228.87 L66.71,228.96 L67.11,229.55 L67.51,230.10 L67.91,230.12 L68.31,227.18 L68.71,228.83 L69.11,229.63 L69.51,232.36 L69.91,227.91 L70.31,228.88 L70.71,229.69 L71.12,227.29 L71.52,230.01 L71.92,227.98 L72.32,230.02 L72.72,227.77 L73.12,226.25 L73.52,228.19 L73.92,229.17 L74.32,227.09 L74.72,227.72 L75.12,227.48 L75.53,229.57 L75.93,227.84 L76.33,227.17 L76.73,229.43 L77.13,228.39 L77.53,229.29 L77.93,231.06 L78.33,227.40 L78.73,230.81 L79.13,231.48 L79.53,228.68 L79.94,233.22 L80.34,230.50 L80.74,231.41 L81.14,232.80 L81.54,230.99 L81.94,231.77 L82.34,231.09 L82.74,232.19 L83.14,234.26 L83.54,232.45 L83.94,234.48 L84.35,231.38 L84.75,231.91 L85.15,231.73 L85.55,231.65 L85.95,234.24 L86.35,233.43 L86.75,234.93 L87.15,233.72 L87.55,233.19 L87.95,235.56 L88.35,235.28 L88.76,234.83 L89.16,236.12 L89.56,236.32 L89.96,236.97 L90.36,237.16 L90.76,237.75 L91.16,237.08 L91.56,237.53 L91.96,237.43 L92.36,239.24 L92.76,237.56 L93.17,238.21 L93.57,238.47 L93.97,237.86 L94.37,238.50 L94.77,238.23 L95.17,238.64 L95.57,238.96 L95.97,239.15 L96.37,238.75 L96.77,239.60 M96.77,239.60 L97.17,238.91 L97.58,239.14 L97.98,239.60" fill="none" stroke="#1c1c1c" stroke-width="0.95" stroke-linejoin="round"/>
<line x1="20.6" y1="252.6" x2="108.4" y2="252.6" stroke="#8a8a8a" stroke-width="0.8"/>
<path d="M20.6,252.6 L20.60,252.23 L21.00,251.86 L21.40,251.67 L21.80,252.05 L22.20,251.65 L22.60,251.14 L23.01,250.95 L23.41,250.88 L23.81,251.25 L24.21,251.19 L24.61,250.17 L25.01,251.27 L25.41,250.09 L25.81,250.34 L26.21,249.76 L26.61,249.70 L27.01,250.39 L27.42,248.41 L27.82,248.91 L28.22,250.17 L28.62,248.70 L29.02,247.19 L29.42,249.24 L29.82,246.61 L30.22,249.66 L30.62,249.10 L31.02,248.81 L31.42,249.32 L31.83,248.80 L32.23,249.00 L32.63,247.14 L33.03,247.64 L33.43,246.87 L33.83,246.43 L34.23,246.39 L34.63,245.66 L35.03,246.38 L35.43,247.90 L35.83,246.87 L36.24,247.67 L36.64,246.46 L37.04,246.23 L37.44,245.90 L37.84,246.69 L38.24,247.41 L38.64,244.91 L39.04,244.52 L39.44,245.84 L39.84,245.54 L40.24,245.83 L40.65,244.15 L41.05,246.51 L41.45,245.75 L41.85,247.42 L42.25,244.77 L42.65,245.10 L43.05,244.64 L43.45,245.48 L43.85,245.34 L44.25,246.03 L44.65,246.90 L45.06,244.51 L45.46,246.72 L45.86,245.40 L46.26,245.51 L46.66,245.78 L47.06,246.78 L47.46,247.31 L47.86,246.73 L48.26,247.06 L48.66,247.65 L49.06,247.25 L49.47,246.96 L49.87,248.02 L50.27,249.34 L50.67,249.04 L51.07,249.73 L51.47,249.85 L51.87,248.81 L52.27,250.26 L52.67,250.48 L53.07,250.96 L53.47,250.75 L53.88,251.32 L54.28,251.02 L54.68,251.22 L55.08,251.57 L55.48,251.79 L55.88,251.68 L56.28,251.82 L56.68,252.09 L57.08,250.14 L57.48,250.73 L57.88,250.97 L58.29,250.43 L58.69,250.35 L59.09,251.03 L59.49,249.59 L59.89,249.48 L60.29,248.57 L60.69,248.81 L61.09,250.32 L61.49,249.14 L61.89,251.89 L62.29,251.04 L62.70,249.02 L63.10,250.47 L63.50,249.93 L63.90,249.00 L64.30,248.60 L64.70,247.21 L65.10,249.22 L65.50,247.56 L65.90,246.54 L66.30,245.14 L66.71,243.38 L67.11,245.38 L67.51,244.62 L67.91,244.66 L68.31,244.98 L68.71,245.62 L69.11,243.51 L69.51,243.00 L69.91,242.03 L70.31,245.74 L70.71,244.31 L71.12,244.73 L71.52,241.59 L71.92,243.28 L72.32,242.52 L72.72,243.62 L73.12,240.86 L73.52,242.13 L73.92,242.95 L74.32,241.99 L74.72,241.44 L75.12,239.37 L75.53,241.33 L75.93,240.00 L76.33,240.97 L76.73,239.51 L77.13,241.07 L77.53,238.90 L77.93,241.34 L78.33,240.23 L78.73,239.03 L79.13,242.49 L79.53,241.14 L79.94,240.43 L80.34,242.96 L80.74,239.95 L81.14,240.65 L81.54,240.62 L81.94,241.82 L82.34,243.13 L82.74,242.37 L83.14,242.13 L83.54,242.78 L83.94,242.36 L84.35,242.13 L84.75,240.83 L85.15,244.00 L85.55,240.93 L85.95,242.22 L86.35,243.08 L86.75,241.83 L87.15,244.15 L87.55,243.63 L87.95,243.18 L88.35,243.24 L88.76,242.70 L89.16,244.16 L89.56,244.25 L89.96,246.33 L90.36,245.93 L90.76,244.07 L91.16,245.74 L91.56,245.53 L91.96,247.13 L92.36,247.61 L92.76,247.60 L93.17,248.60 L93.57,247.66 L93.97,247.54 L94.37,245.00 L94.77,248.71 L95.17,248.54 L95.57,247.89 L95.97,249.25 L96.37,249.76 L96.77,248.85 L97.17,247.36 L97.58,248.99 L97.98,249.66 L98.38,248.81 L98.78,250.28 L99.18,248.72 L99.58,250.51 L99.98,250.26 L100.38,250.18 L100.78,249.31 L101.18,250.42 L101.58,250.45 L101.99,250.78 L102.39,250.69 L102.79,250.91 L103.19,250.03 L103.59,252.02 L103.99,251.43 L104.39,252.11 L104.79,251.93 L105.19,252.37 L105.59,252.03 L105.99,252.50 L106.40,252.01 L106.80,252.26 L107.20,252.15 L107.60,251.99 L108.00,252.60 L108.40,252.60 L108.4,252.6 Z" fill="#a26465"/>
<path d="M23.4,250.9V251.6M24.6,250.2V251.2M25.8,250.3V251.0M26.2,249.8V250.9M29.8,246.6V248.9M30.2,249.7V250.4M31.0,248.8V250.0M31.4,249.3V250.6M33.4,246.9V248.8M33.8,246.4V249.2M34.6,245.7V246.7M36.6,246.5V248.6M37.0,246.2V248.8M39.8,245.5V247.1M40.2,245.8V246.5M40.6,244.1V247.3M41.0,246.5V248.5M42.7,245.1V246.5M43.1,244.6V247.2M44.3,246.0V248.8M45.1,244.5V248.0M46.7,245.8V247.1M47.5,247.3V248.0M48.7,247.6V249.5M49.1,247.3V248.2M49.9,248.0V249.1M50.3,249.3V250.0M50.7,249.0V250.2M51.9,248.8V249.9M52.3,250.3V251.1M53.1,251.0V251.6M58.7,250.3V251.2M59.9,249.5V250.7M60.3,248.6V249.4M61.1,250.3V251.2M62.3,251.0V251.7M63.5,249.9V250.8M63.9,249.0V250.1M65.1,249.2V249.9M65.5,247.6V249.3M65.9,246.5V247.4M66.3,245.1V247.3M67.1,245.4V247.7M68.3,245.0V247.6M68.7,245.6V246.4M69.1,243.5V244.2M69.5,243.0V245.1M69.9,242.0V243.1M71.1,244.7V247.1M71.5,241.6V246.5M71.9,243.3V245.0M72.3,242.5V246.5M73.1,240.9V243.3M73.9,242.9V246.5M74.7,241.4V243.7M75.1,239.4V242.4M75.5,241.3V244.7M75.9,240.0V242.1M76.7,239.5V242.6M77.5,238.9V241.6M79.1,242.5V245.7M79.9,240.4V244.6M81.5,240.6V244.3M81.9,241.8V245.7M83.1,242.1V245.7M83.5,242.8V245.0M84.3,242.1V245.3M84.7,240.8V243.3M85.5,240.9V245.8M85.9,242.2V245.2M87.2,244.1V246.6M89.2,244.2V247.0M90.8,244.1V247.2M91.2,245.7V248.1M92.0,247.1V248.8M92.8,247.6V248.5M94.4,245.0V247.9M94.8,248.7V249.5M95.6,247.9V249.3M97.2,247.4V249.3M97.6,249.0V249.9M99.2,248.7V249.6M99.6,250.5V251.3M100.0,250.3V251.0M100.8,249.3V250.2M102.0,250.8V251.4M102.4,250.7V251.3" stroke="#3a1a1a" stroke-width="0.6" opacity="0.55" fill="none"/>
<path d="M20.60,252.23 L21.00,251.86 L21.40,251.67 L21.80,252.05 L22.20,251.65 L22.60,251.14 L23.01,250.95 L23.41,250.88 L23.81,251.25 L24.21,251.19 L24.61,250.17 L25.01,251.27 L25.41,250.09 L25.81,250.34 L26.21,249.76 L26.61,249.70 L27.01,250.39 L27.42,248.41 L27.82,248.91 L28.22,250.17 L28.62,248.70 L29.02,247.19 L29.42,249.24 L29.82,246.61 L30.22,249.66 L30.62,249.10 L31.02,248.81 L31.42,249.32 L31.83,248.80 L32.23,249.00 L32.63,247.14 L33.03,247.64 L33.43,246.87 L33.83,246.43 L34.23,246.39 L34.63,245.66 L35.03,246.38 L35.43,247.90 L35.83,246.87 L36.24,247.67 L36.64,246.46 L37.04,246.23 L37.44,245.90 L37.84,246.69 L38.24,247.41 L38.64,244.91 L39.04,244.52 L39.44,245.84 L39.84,245.54 L40.24,245.83 L40.65,244.15 L41.05,246.51 L41.45,245.75 L41.85,247.42 L42.25,244.77 L42.65,245.10 L43.05,244.64 L43.45,245.48 L43.85,245.34 L44.25,246.03 L44.65,246.90 L45.06,244.51 L45.46,246.72 L45.86,245.40 L46.26,245.51 L46.66,245.78 L47.06,246.78 L47.46,247.31 L47.86,246.73 L48.26,247.06 L48.66,247.65 L49.06,247.25 L49.47,246.96 L49.87,248.02 L50.27,249.34 L50.67,249.04 L51.07,249.73 L51.47,249.85 L51.87,248.81 L52.27,250.26 L52.67,250.48 L53.07,250.96 L53.47,250.75 L53.88,251.32 L54.28,251.02 L54.68,251.22 L55.08,251.57 L55.48,251.79 L55.88,251.68 L56.28,251.82 L56.68,252.09 L57.08,250.14 L57.48,250.73 L57.88,250.97 L58.29,250.43 L58.69,250.35 L59.09,251.03 L59.49,249.59 L59.89,249.48 L60.29,248.57 L60.69,248.81 L61.09,250.32 L61.49,249.14 L61.89,251.89 L62.29,251.04 L62.70,249.02 L63.10,250.47 L63.50,249.93 L63.90,249.00 L64.30,248.60 L64.70,247.21 L65.10,249.22 L65.50,247.56 L65.90,246.54 L66.30,245.14 L66.71,243.38 L67.11,245.38 L67.51,244.62 L67.91,244.66 L68.31,244.98 L68.71,245.62 L69.11,243.51 L69.51,243.00 L69.91,242.03 L70.31,245.74 L70.71,244.31 L71.12,244.73 L71.52,241.59 L71.92,243.28 L72.32,242.52 L72.72,243.62 L73.12,240.86 L73.52,242.13 L73.92,242.95 L74.32,241.99 L74.72,241.44 L75.12,239.37 L75.53,241.33 L75.93,240.00 L76.33,240.97 L76.73,239.51 L77.13,241.07 L77.53,238.90 L77.93,241.34 L78.33,240.23 L78.73,239.03 L79.13,242.49 L79.53,241.14 L79.94,240.43 L80.34,242.96 L80.74,239.95 L81.14,240.65 L81.54,240.62 L81.94,241.82 L82.34,243.13 L82.74,242.37 L83.14,242.13 L83.54,242.78 L83.94,242.36 L84.35,242.13 L84.75,240.83 L85.15,244.00 L85.55,240.93 L85.95,242.22 L86.35,243.08 L86.75,241.83 L87.15,244.15 L87.55,243.63 L87.95,243.18 L88.35,243.24 L88.76,242.70 L89.16,244.16 L89.56,244.25 L89.96,246.33 L90.36,245.93 L90.76,244.07 L91.16,245.74 L91.56,245.53 L91.96,247.13 L92.36,247.61 L92.76,247.60 L93.17,248.60 L93.57,247.66 L93.97,247.54 L94.37,245.00 L94.77,248.71 L95.17,248.54 L95.57,247.89 L95.97,249.25 L96.37,249.76 L96.77,248.85 L97.17,247.36 L97.58,248.99 L97.98,249.66 L98.38,248.81 L98.78,250.28 L99.18,248.72 L99.58,250.51 L99.98,250.26 L100.38,250.18 L100.78,249.31 L101.18,250.42 L101.58,250.45 L101.99,250.78 L102.39,250.69 L102.79,250.91 L103.19,250.03 L103.59,252.02 L103.99,251.43 L104.39,252.11 L104.79,251.93 L105.19,252.30 M105.19,252.30 L105.59,252.03 L105.99,252.30 M105.99,252.30 L106.40,252.01 L106.80,252.30 M106.80,252.30 L107.20,252.15 L107.60,251.99 L108.00,252.30" fill="none" stroke="#1c1c1c" stroke-width="0.95" stroke-linejoin="round"/>
<line x1="20.6" y1="265.2" x2="108.4" y2="265.2" stroke="#8a8a8a" stroke-width="0.8"/>
<path d="M20.6,265.2 L20.60,264.31 L21.00,264.74 L21.40,264.14 L21.80,263.89 L22.20,263.20 L22.60,263.44 L23.01,263.69 L23.41,264.09 L23.81,262.61 L24.21,262.32 L24.61,262.51 L25.01,261.36 L25.41,260.79 L25.81,262.96 L26.21,261.29 L26.61,261.43 L27.01,261.17 L27.42,260.69 L27.82,262.43 L28.22,259.58 L28.62,258.22 L29.02,261.31 L29.42,261.01 L29.82,259.54 L30.22,259.57 L30.62,258.83 L31.02,259.55 L31.42,260.04 L31.83,260.27 L32.23,259.26 L32.63,257.83 L33.03,258.70 L33.43,256.85 L33.83,257.19 L34.23,258.92 L34.63,259.20 L35.03,258.41 L35.43,259.08 L35.83,258.87 L36.24,258.52 L36.64,257.11 L37.04,258.38 L37.44,257.26 L37.84,256.79 L38.24,254.51 L38.64,256.91 L39.04,256.68 L39.44,255.25 L39.84,257.08 L40.24,256.67 L40.65,255.43 L41.05,253.59 L41.45,254.89 L41.85,254.72 L42.25,256.24 L42.65,255.47 L43.05,255.04 L43.45,256.06 L43.85,256.73 L44.25,256.07 L44.65,256.39 L45.06,257.16 L45.46,258.52 L45.86,259.23 L46.26,257.00 L46.66,258.54 L47.06,257.32 L47.46,258.01 L47.86,258.29 L48.26,258.41 L48.66,258.52 L49.06,256.60 L49.47,259.82 L49.87,259.47 L50.27,260.74 L50.67,260.53 L51.07,260.48 L51.47,262.88 L51.87,261.17 L52.27,261.41 L52.67,262.05 L53.07,261.53 L53.47,261.83 L53.88,261.63 L54.28,262.40 L54.68,263.73 L55.08,262.27 L55.48,260.99 L55.88,263.13 L56.28,263.17 L56.68,262.11 L57.08,263.62 L57.48,264.02 L57.88,263.69 L58.29,263.58 L58.69,262.96 L59.09,263.57 L59.49,263.56 L59.89,263.01 L60.29,262.82 L60.69,262.32 L61.09,263.13 L61.49,262.81 L61.89,260.78 L62.29,262.04 L62.70,262.08 L63.10,263.12 L63.50,262.37 L63.90,262.39 L64.30,260.33 L64.70,261.73 L65.10,261.53 L65.50,261.41 L65.90,260.11 L66.30,261.24 L66.71,260.61 L67.11,260.49 L67.51,260.21 L67.91,259.73 L68.31,261.16 L68.71,260.65 L69.11,259.25 L69.51,259.95 L69.91,258.63 L70.31,259.94 L70.71,261.53 L71.12,259.99 L71.52,259.38 L71.92,259.58 L72.32,257.81 L72.72,257.94 L73.12,257.52 L73.52,258.87 L73.92,258.73 L74.32,254.06 L74.72,257.35 L75.12,258.82 L75.53,254.83 L75.93,256.78 L76.33,253.96 L76.73,255.26 L77.13,254.09 L77.53,253.39 L77.93,253.67 L78.33,253.74 L78.73,253.75 L79.13,251.71 L79.53,251.01 L79.94,255.27 L80.34,252.83 L80.74,252.96 L81.14,252.30 L81.54,250.83 L81.94,251.79 L82.34,245.70 L82.74,250.45 L83.14,249.03 L83.54,249.06 L83.94,250.58 L84.35,250.84 L84.75,248.37 L85.15,249.00 L85.55,248.57 L85.95,249.53 L86.35,250.80 L86.75,250.59 L87.15,251.95 L87.55,248.69 L87.95,250.37 L88.35,251.17 L88.76,251.92 L89.16,248.44 L89.56,248.87 L89.96,249.73 L90.36,250.76 L90.76,251.16 L91.16,252.87 L91.56,252.63 L91.96,254.87 L92.36,251.93 L92.76,254.42 L93.17,253.18 L93.57,253.59 L93.97,253.65 L94.37,252.28 L94.77,253.41 L95.17,254.05 L95.57,252.85 L95.97,255.12 L96.37,257.17 L96.77,255.89 L97.17,257.12 L97.58,256.39 L97.98,256.41 L98.38,255.11 L98.78,256.54 L99.18,256.60 L99.58,257.22 L99.98,258.62 L100.38,255.67 L100.78,258.97 L101.18,258.81 L101.58,259.26 L101.99,258.96 L102.39,259.90 L102.79,260.76 L103.19,260.83 L103.59,259.32 L103.99,259.95 L104.39,262.57 L104.79,261.22 L105.19,261.06 L105.59,262.06 L105.99,262.38 L106.40,262.30 L106.80,262.81 L107.20,263.95 L107.60,262.61 L108.00,264.44 L108.40,265.16 L108.4,265.2 Z" fill="#ec4a4b"/>
<path d="M22.2,263.2V264.0M22.6,263.4V264.1M24.2,262.3V263.2M25.4,260.8V261.6M25.8,263.0V263.6M26.6,261.4V262.7M27.0,261.2V262.2M27.4,260.7V262.7M28.2,259.6V261.5M31.0,259.5V261.4M31.4,260.0V261.3M31.8,260.3V261.9M32.2,259.3V260.6M34.2,258.9V261.0M34.6,259.2V260.5M35.0,258.4V261.0M35.8,258.9V260.3M36.2,258.5V259.5M37.4,257.3V258.6M38.2,254.5V258.8M38.6,256.9V259.0M39.0,256.7V258.2M39.4,255.3V256.9M40.2,256.7V259.3M41.0,253.6V255.1M41.4,254.9V255.8M42.7,255.5V257.8M43.5,256.1V256.8M43.9,256.7V258.5M44.7,256.4V260.1M45.9,259.2V261.5M46.3,257.0V259.3M46.7,258.5V259.4M47.1,257.3V258.4M49.9,259.5V261.6M50.7,260.5V261.9M51.1,260.5V261.9M53.5,261.8V262.6M53.9,261.6V262.4M55.1,262.3V263.2M55.5,261.0V262.3M55.9,263.1V264.0M56.3,263.2V264.0M57.1,263.6V264.3M57.9,263.7V264.4M58.3,263.6V264.2M59.9,263.0V263.8M60.3,262.8V263.6M60.7,262.3V263.4M61.1,263.1V263.8M61.5,262.8V263.7M62.3,262.0V263.5M63.1,263.1V263.8M64.3,260.3V262.1M65.5,261.4V262.1M65.9,260.1V261.1M67.1,260.5V261.3M67.5,260.2V261.2M69.1,259.3V260.8M69.5,260.0V261.2M69.9,258.6V260.8M70.7,261.5V262.7M71.1,260.0V260.7M71.5,259.4V260.7M71.9,259.6V260.3M72.3,257.8V261.0M73.1,257.5V259.0M73.5,258.9V260.2M73.9,258.7V260.7M74.7,257.3V258.5M75.1,258.8V259.5M75.9,256.8V259.7M76.7,255.3V256.6M77.1,254.1V258.1M77.9,253.7V256.3M78.3,253.7V256.5M79.1,251.7V256.7M81.1,252.3V258.1M81.5,250.8V256.2M81.9,251.8V254.0M82.3,245.7V253.2M83.1,249.0V255.6M84.3,250.8V253.1M84.7,248.4V251.9M86.3,250.8V252.8M87.2,251.9V253.8M87.6,248.7V249.6M88.0,250.4V254.3M88.4,251.2V255.0M88.8,251.9V252.6M89.6,248.9V252.8M90.0,249.7V252.0M90.4,250.8V253.1M90.8,251.2V252.4M91.2,252.9V255.8M91.6,252.6V257.7M92.0,254.9V257.3M92.8,254.4V255.5M94.0,253.6V255.8M97.2,257.1V259.3M99.2,256.6V259.7M100.8,259.0V260.6M101.2,258.8V261.6M101.6,259.3V261.0M102.0,259.0V261.2M102.4,259.9V261.8M102.8,260.8V262.6M103.2,260.8V261.7M104.8,261.2V261.9M106.0,262.4V263.6M106.8,262.8V263.6M107.6,262.6V263.3" stroke="#6a1010" stroke-width="0.6" opacity="0.55" fill="none"/>
<path d="M20.60,264.31 L21.00,264.74 L21.40,264.14 L21.80,263.89 L22.20,263.20 L22.60,263.44 L23.01,263.69 L23.41,264.09 L23.81,262.61 L24.21,262.32 L24.61,262.51 L25.01,261.36 L25.41,260.79 L25.81,262.96 L26.21,261.29 L26.61,261.43 L27.01,261.17 L27.42,260.69 L27.82,262.43 L28.22,259.58 L28.62,258.22 L29.02,261.31 L29.42,261.01 L29.82,259.54 L30.22,259.57 L30.62,258.83 L31.02,259.55 L31.42,260.04 L31.83,260.27 L32.23,259.26 L32.63,257.83 L33.03,258.70 L33.43,256.85 L33.83,257.19 L34.23,258.92 L34.63,259.20 L35.03,258.41 L35.43,259.08 L35.83,258.87 L36.24,258.52 L36.64,257.11 L37.04,258.38 L37.44,257.26 L37.84,256.79 L38.24,254.51 L38.64,256.91 L39.04,256.68 L39.44,255.25 L39.84,257.08 L40.24,256.67 L40.65,255.43 L41.05,253.59 L41.45,254.89 L41.85,254.72 L42.25,256.24 L42.65,255.47 L43.05,255.04 L43.45,256.06 L43.85,256.73 L44.25,256.07 L44.65,256.39 L45.06,257.16 L45.46,258.52 L45.86,259.23 L46.26,257.00 L46.66,258.54 L47.06,257.32 L47.46,258.01 L47.86,258.29 L48.26,258.41 L48.66,258.52 L49.06,256.60 L49.47,259.82 L49.87,259.47 L50.27,260.74 L50.67,260.53 L51.07,260.48 L51.47,262.88 L51.87,261.17 L52.27,261.41 L52.67,262.05 L53.07,261.53 L53.47,261.83 L53.88,261.63 L54.28,262.40 L54.68,263.73 L55.08,262.27 L55.48,260.99 L55.88,263.13 L56.28,263.17 L56.68,262.11 L57.08,263.62 L57.48,264.02 L57.88,263.69 L58.29,263.58 L58.69,262.96 L59.09,263.57 L59.49,263.56 L59.89,263.01 L60.29,262.82 L60.69,262.32 L61.09,263.13 L61.49,262.81 L61.89,260.78 L62.29,262.04 L62.70,262.08 L63.10,263.12 L63.50,262.37 L63.90,262.39 L64.30,260.33 L64.70,261.73 L65.10,261.53 L65.50,261.41 L65.90,260.11 L66.30,261.24 L66.71,260.61 L67.11,260.49 L67.51,260.21 L67.91,259.73 L68.31,261.16 L68.71,260.65 L69.11,259.25 L69.51,259.95 L69.91,258.63 L70.31,259.94 L70.71,261.53 L71.12,259.99 L71.52,259.38 L71.92,259.58 L72.32,257.81 L72.72,257.94 L73.12,257.52 L73.52,258.87 L73.92,258.73 L74.32,254.06 L74.72,257.35 L75.12,258.82 L75.53,254.83 L75.93,256.78 L76.33,253.96 L76.73,255.26 L77.13,254.09 L77.53,253.39 L77.93,253.67 L78.33,253.74 L78.73,253.75 L79.13,251.71 L79.53,251.01 L79.94,255.27 L80.34,252.83 L80.74,252.96 L81.14,252.30 L81.54,250.83 L81.94,251.79 L82.34,245.70 L82.74,250.45 L83.14,249.03 L83.54,249.06 L83.94,250.58 L84.35,250.84 L84.75,248.37 L85.15,249.00 L85.55,248.57 L85.95,249.53 L86.35,250.80 L86.75,250.59 L87.15,251.95 L87.55,248.69 L87.95,250.37 L88.35,251.17 L88.76,251.92 L89.16,248.44 L89.56,248.87 L89.96,249.73 L90.36,250.76 L90.76,251.16 L91.16,252.87 L91.56,252.63 L91.96,254.87 L92.36,251.93 L92.76,254.42 L93.17,253.18 L93.57,253.59 L93.97,253.65 L94.37,252.28 L94.77,253.41 L95.17,254.05 L95.57,252.85 L95.97,255.12 L96.37,257.17 L96.77,255.89 L97.17,257.12 L97.58,256.39 L97.98,256.41 L98.38,255.11 L98.78,256.54 L99.18,256.60 L99.58,257.22 L99.98,258.62 L100.38,255.67 L100.78,258.97 L101.18,258.81 L101.58,259.26 L101.99,258.96 L102.39,259.90 L102.79,260.76 L103.19,260.83 L103.59,259.32 L103.99,259.95 L104.39,262.57 L104.79,261.22 L105.19,261.06 L105.59,262.06 L105.99,262.38 L106.40,262.30 L106.80,262.81 L107.20,263.95 L107.60,262.61 L108.00,264.44 L108.40,264.90" fill="none" stroke="#1c1c1c" stroke-width="0.95" stroke-linejoin="round"/>
<path d="M20.6,278.3 L20.60,275.92 L21.00,275.50 L21.40,275.57 L21.80,275.36 L22.20,275.15 L22.60,275.04 L23.01,274.23 L23.41,273.14 L23.81,273.85 L24.21,273.07 L24.61,272.23 L25.01,273.11 L25.41,270.15 L25.81,271.56 L26.21,269.85 L26.61,271.39 L27.01,270.59 L27.42,270.37 L27.82,270.46 L28.22,271.75 L28.62,270.59 L29.02,270.51 L29.42,269.51 L29.82,269.94 L30.22,269.64 L30.62,268.89 L31.02,267.45 L31.42,267.92 L31.83,269.11 L32.23,267.27 L32.63,267.54 L33.03,267.71 L33.43,267.78 L33.83,266.33 L34.23,268.43 L34.63,267.50 L35.03,267.46 L35.43,265.22 L35.83,265.48 L36.24,266.09 L36.64,265.37 L37.04,264.37 L37.44,265.39 L37.84,265.24 L38.24,264.88 L38.64,262.54 L39.04,265.77 L39.44,265.39 L39.84,266.12 L40.24,262.81 L40.65,264.92 L41.05,265.70 L41.45,266.01 L41.85,264.60 L42.25,265.39 L42.65,266.07 L43.05,266.21 L43.45,264.18 L43.85,265.82 L44.25,267.96 L44.65,269.14 L45.06,271.15 L45.46,270.07 L45.86,272.95 L46.26,271.29 L46.66,273.26 L47.06,274.60 L47.46,275.53 L47.86,276.83 L48.26,278.11 L48.66,277.65 L49.06,278.16 L49.47,278.29 L49.87,278.30 L50.27,278.30 L50.67,278.30 L51.07,278.30 L51.47,278.30 L51.87,278.30 L52.27,278.30 L52.67,278.30 L53.07,278.30 L53.47,278.30 L53.88,278.30 L54.28,278.30 L54.68,278.30 L55.08,278.30 L55.48,278.30 L55.88,278.30 L56.28,278.30 L56.68,278.30 L57.08,278.30 L57.48,278.30 L57.88,278.30 L58.29,278.30 L58.69,278.30 L59.09,278.30 L59.49,278.30 L59.89,278.30 L60.29,278.30 L60.69,278.30 L61.09,278.30 L61.49,278.30 L61.89,278.30 L62.29,278.30 L62.70,278.30 L63.10,278.30 L63.50,278.30 L63.90,278.30 L64.30,278.30 L64.70,278.30 L65.10,278.30 L65.50,278.30 L65.90,278.30 L66.30,278.30 L66.71,278.30 L67.11,278.30 L67.51,278.30 L67.91,278.30 L68.31,278.30 L68.71,278.30 L69.11,278.30 L69.51,278.30 L69.91,278.30 L70.31,278.30 L70.71,278.30 L71.12,278.30 L71.52,278.30 L71.92,278.30 L72.32,278.30 L72.72,278.30 L73.12,278.30 L73.52,278.30 L73.92,278.30 L74.32,278.30 L74.72,278.30 L75.12,278.30 L75.53,278.30 L75.93,278.30 L76.33,278.30 L76.73,278.30 L77.13,278.30 L77.53,278.30 L77.93,278.30 L78.33,278.30 L78.73,278.30 L79.13,278.30 L79.53,278.30 L79.94,278.30 L80.34,278.30 L80.74,278.30 L81.14,278.30 L81.54,278.30 L81.94,278.30 L82.34,278.30 L82.74,278.30 L83.14,278.30 L83.54,278.30 L83.94,278.30 L84.35,278.30 L84.75,278.30 L85.15,278.30 L85.55,278.30 L85.95,278.30 L86.35,278.30 L86.75,278.30 L87.15,278.30 L87.55,278.30 L87.95,278.30 L88.35,278.30 L88.76,278.30 L89.16,278.30 L89.56,278.30 L89.96,278.30 L90.36,278.30 L90.76,278.30 L91.16,278.30 L91.56,278.30 L91.96,278.30 L92.36,278.30 L92.76,278.30 L93.17,278.30 L93.57,278.30 L93.97,278.30 L94.37,278.30 L94.77,278.30 L95.17,278.30 L95.57,278.30 L95.97,278.30 L96.37,278.30 L96.77,278.30 L97.17,278.30 L97.58,278.30 L97.98,278.30 L98.38,278.30 L98.78,278.30 L99.18,278.30 L99.58,278.30 L99.98,278.30 L100.38,278.30 L100.78,278.30 L101.18,278.30 L101.58,278.30 L101.99,278.30 L102.39,278.30 L102.79,278.30 L103.19,278.30 L103.59,278.30 L103.99,278.30 L104.39,278.30 L104.79,278.30 L105.19,278.30 L105.59,278.30 L105.99,278.30 L106.40,278.30 L106.80,278.30 L107.20,278.30 L107.60,278.30 L108.00,278.30 L108.40,278.30 L108.4,278.3 Z" fill="url(#hatch)"/>
<path d="M20.60,275.92 L21.00,275.50 L21.40,275.57 L21.80,275.36 L22.20,275.15 L22.60,275.04 L23.01,274.23 L23.41,273.14 L23.81,273.85 L24.21,273.07 L24.61,272.23 L25.01,273.11 L25.41,270.15 L25.81,271.56 L26.21,269.85 L26.61,271.39 L27.01,270.59 L27.42,270.37 L27.82,270.46 L28.22,271.75 L28.62,270.59 L29.02,270.51 L29.42,269.51 L29.82,269.94 L30.22,269.64 L30.62,268.89 L31.02,267.45 L31.42,267.92 L31.83,269.11 L32.23,267.27 L32.63,267.54 L33.03,267.71 L33.43,267.78 L33.83,266.33 L34.23,268.43 L34.63,267.50 L35.03,267.46 L35.43,265.22 L35.83,265.48 L36.24,266.09 L36.64,265.37 L37.04,264.37 L37.44,265.39 L37.84,265.24 L38.24,264.88 L38.64,262.54 L39.04,265.77 L39.44,265.39 L39.84,266.12 L40.24,262.81 L40.65,264.92 L41.05,265.70 L41.45,266.01 L41.85,264.60 L42.25,265.39 L42.65,266.07 L43.05,266.21 L43.45,264.18 L43.85,265.82 L44.25,267.96 L44.65,269.14 L45.06,271.15 L45.46,270.07 L45.86,272.95 L46.26,271.29 L46.66,273.26 L47.06,274.60 L47.46,275.53 L47.86,276.83 L48.26,278.00 M48.26,278.00 L48.66,277.65 L49.06,278.00" fill="none" stroke="#1c1c1c" stroke-width="0.95" stroke-linejoin="round"/>
<rect x="20.6" y="189.8" width="87.80000000000001" height="88.5" fill="none" stroke="#8a8a8a" stroke-width="0.8"/>
<line x1="36.0" y1="278.3" x2="36.0" y2="280.3" stroke="#555" stroke-width="0.6"/>
<text x="32.7" y="290.0" font-size="8.9" fill="#333" color="#333" textLength="6.7" lengthAdjust="spacingAndGlyphs" >10</text>
<text x="39.8" y="286.0" font-size="5.72" fill="#333" color="#333" >2</text>
<line x1="57.7" y1="278.3" x2="57.7" y2="280.3" stroke="#555" stroke-width="0.6"/>
<text x="54.400000000000006" y="290.0" font-size="8.9" fill="#333" color="#333" textLength="6.7" lengthAdjust="spacingAndGlyphs" >10</text>
<text x="61.5" y="286.0" font-size="5.72" fill="#333" color="#333" >3</text>
<line x1="79.4" y1="278.3" x2="79.4" y2="280.3" stroke="#555" stroke-width="0.6"/>
<text x="76.10000000000001" y="290.0" font-size="8.9" fill="#333" color="#333" textLength="6.7" lengthAdjust="spacingAndGlyphs" >10</text>
<text x="83.2" y="286.0" font-size="5.72" fill="#333" color="#333" >4</text>
<line x1="101.1" y1="278.3" x2="101.1" y2="280.3" stroke="#555" stroke-width="0.6"/>
<text x="97.8" y="290.0" font-size="8.9" fill="#333" color="#333" textLength="6.7" lengthAdjust="spacingAndGlyphs" >10</text>
<text x="104.89999999999999" y="286.0" font-size="5.72" fill="#333" color="#333" >5</text>
<text x="36.3" y="302.7" font-size="8.48" fill="#333" color="#333" textLength="57.7" lengthAdjust="spacingAndGlyphs" >BCMApeptide-PE</text>
<rect x="118.2" y="189.8" width="86.39999999999999" height="88.5" fill="#fff" stroke="#8a8a8a" stroke-width="0.8"/>
<line x1="118.2" y1="214.5" x2="204.6" y2="214.5" stroke="#8a8a8a" stroke-width="0.8"/>
<path d="M118.2,214.5 L118.20,212.79 L118.60,212.70 L119.00,212.87 L119.41,212.07 L119.81,212.71 L120.21,212.44 L120.61,211.89 L121.01,212.98 L121.41,210.71 L121.82,212.53 L122.22,210.75 L122.62,213.09 L123.02,212.26 L123.42,211.77 L123.83,210.69 L124.23,211.50 L124.63,211.37 L125.03,210.78 L125.43,210.49 L125.84,209.64 L126.24,210.58 L126.64,210.73 L127.04,208.40 L127.44,207.27 L127.84,207.83 L128.25,207.70 L128.65,206.02 L129.05,206.58 L129.45,207.13 L129.85,206.53 L130.26,206.04 L130.66,206.41 L131.06,205.16 L131.46,204.76 L131.86,205.08 L132.27,206.01 L132.67,204.44 L133.07,203.10 L133.47,203.47 L133.87,202.20 L134.27,203.27 L134.68,205.28 L135.08,201.73 L135.48,202.39 L135.88,202.72 L136.28,201.41 L136.69,200.55 L137.09,201.21 L137.49,200.22 L137.89,201.18 L138.29,200.52 L138.69,200.53 L139.10,198.90 L139.50,199.73 L139.90,198.97 L140.30,201.07 L140.70,196.46 L141.11,199.15 L141.51,197.21 L141.91,196.68 L142.31,195.75 L142.71,196.58 L143.12,198.47 L143.52,198.19 L143.92,197.51 L144.32,199.77 L144.72,201.21 L145.12,199.36 L145.53,201.48 L145.93,201.73 L146.33,202.56 L146.73,204.99 L147.13,202.75 L147.54,202.72 L147.94,203.26 L148.34,203.63 L148.74,204.17 L149.14,206.98 L149.55,206.07 L149.95,206.75 L150.35,206.84 L150.75,205.27 L151.15,206.88 L151.55,208.97 L151.96,208.46 L152.36,209.15 L152.76,210.37 L153.16,211.44 L153.56,211.73 L153.97,211.85 L154.37,211.67 L154.77,212.62 L155.17,211.74 L155.57,213.31 L155.97,212.01 L156.38,212.85 L156.78,213.56 L157.18,213.38 L157.58,213.99 L157.98,214.50 L158.39,214.30 L158.79,214.32 L159.19,214.37 L159.59,214.44 L159.99,214.49 L160.40,214.50 L160.80,214.50 L161.20,214.50 L161.60,214.50 L162.00,214.50 L162.40,214.50 L162.81,214.50 L163.21,214.50 L163.61,214.50 L164.01,214.50 L164.41,214.50 L164.82,214.50 L165.22,214.50 L165.62,214.50 L166.02,214.50 L166.42,214.50 L166.83,214.50 L167.23,214.50 L167.63,214.50 L168.03,214.50 L168.43,214.50 L168.83,214.50 L169.24,214.50 L169.64,214.50 L170.04,214.50 L170.44,214.50 L170.84,214.50 L171.25,214.50 L171.65,214.50 L172.05,214.50 L172.45,214.50 L172.85,214.50 L173.25,214.50 L173.66,214.50 L174.06,214.50 L174.46,214.50 L174.86,214.50 L175.26,214.50 L175.67,214.50 L176.07,214.50 L176.47,214.50 L176.87,214.50 L177.27,214.50 L177.68,214.50 L178.08,214.50 L178.48,214.50 L178.88,214.50 L179.28,214.50 L179.68,214.50 L180.09,214.50 L180.49,214.50 L180.89,214.50 L181.29,214.50 L181.69,214.50 L182.10,214.50 L182.50,214.50 L182.90,214.50 L183.30,214.50 L183.70,214.50 L184.11,214.50 L184.51,214.50 L184.91,214.50 L185.31,214.50 L185.71,214.50 L186.11,214.50 L186.52,214.50 L186.92,214.50 L187.32,214.50 L187.72,214.50 L188.12,214.50 L188.53,214.50 L188.93,214.50 L189.33,214.50 L189.73,214.50 L190.13,214.50 L190.53,214.50 L190.94,214.50 L191.34,214.50 L191.74,214.50 L192.14,214.50 L192.54,214.50 L192.95,214.50 L193.35,214.50 L193.75,214.50 L194.15,214.50 L194.55,214.50 L194.96,214.50 L195.36,214.50 L195.76,214.50 L196.16,214.50 L196.56,214.50 L196.96,214.50 L197.37,214.50 L197.77,214.50 L198.17,214.50 L198.57,214.50 L198.97,214.50 L199.38,214.50 L199.78,214.50 L200.18,214.50 L200.58,214.50 L200.98,214.50 L201.39,214.50 L201.79,214.50 L202.19,214.50 L202.59,214.50 L202.99,214.50 L203.39,214.50 L203.80,214.50 L204.20,214.50 L204.60,214.50 L204.6,214.5 Z" fill="#9a64b4"/>
<path d="M118.6,212.7V213.4M119.8,212.7V213.4M120.2,212.4V213.2M120.6,211.9V212.7M122.2,210.7V211.8M123.0,212.3V213.2M123.8,210.7V211.5M124.2,211.5V212.1M124.6,211.4V212.0M125.0,210.8V211.5M127.0,208.4V209.6M129.1,206.6V207.8M129.5,207.1V210.0M130.7,206.4V207.2M131.5,204.8V208.9M131.9,205.1V206.4M132.3,206.0V206.7M133.5,203.5V204.1M134.3,203.3V206.6M135.5,202.4V205.9M135.9,202.7V206.9M136.3,201.4V206.6M137.5,200.2V206.4M138.3,200.5V204.8M138.7,200.5V201.8M139.1,198.9V203.4M139.5,199.7V200.9M140.3,201.1V205.8M140.7,196.5V199.8M144.3,199.8V202.7M145.1,199.4V203.9M146.3,202.6V203.3M146.7,205.0V207.2M150.3,206.8V207.8M150.8,205.3V209.0M151.6,209.0V210.7M152.4,209.1V210.1M153.2,211.4V212.2M153.6,211.7V212.5M154.0,211.8V212.5M154.8,212.6V213.4M156.4,212.9V213.5" stroke="#3a1a4a" stroke-width="0.6" opacity="0.55" fill="none"/>
<path d="M118.20,212.79 L118.60,212.70 L119.00,212.87 L119.41,212.07 L119.81,212.71 L120.21,212.44 L120.61,211.89 L121.01,212.98 L121.41,210.71 L121.82,212.53 L122.22,210.75 L122.62,213.09 L123.02,212.26 L123.42,211.77 L123.83,210.69 L124.23,211.50 L124.63,211.37 L125.03,210.78 L125.43,210.49 L125.84,209.64 L126.24,210.58 L126.64,210.73 L127.04,208.40 L127.44,207.27 L127.84,207.83 L128.25,207.70 L128.65,206.02 L129.05,206.58 L129.45,207.13 L129.85,206.53 L130.26,206.04 L130.66,206.41 L131.06,205.16 L131.46,204.76 L131.86,205.08 L132.27,206.01 L132.67,204.44 L133.07,203.10 L133.47,203.47 L133.87,202.20 L134.27,203.27 L134.68,205.28 L135.08,201.73 L135.48,202.39 L135.88,202.72 L136.28,201.41 L136.69,200.55 L137.09,201.21 L137.49,200.22 L137.89,201.18 L138.29,200.52 L138.69,200.53 L139.10,198.90 L139.50,199.73 L139.90,198.97 L140.30,201.07 L140.70,196.46 L141.11,199.15 L141.51,197.21 L141.91,196.68 L142.31,195.75 L142.71,196.58 L143.12,198.47 L143.52,198.19 L143.92,197.51 L144.32,199.77 L144.72,201.21 L145.12,199.36 L145.53,201.48 L145.93,201.73 L146.33,202.56 L146.73,204.99 L147.13,202.75 L147.54,202.72 L147.94,203.26 L148.34,203.63 L148.74,204.17 L149.14,206.98 L149.55,206.07 L149.95,206.75 L150.35,206.84 L150.75,205.27 L151.15,206.88 L151.55,208.97 L151.96,208.46 L152.36,209.15 L152.76,210.37 L153.16,211.44 L153.56,211.73 L153.97,211.85 L154.37,211.67 L154.77,212.62 L155.17,211.74 L155.57,213.31 L155.97,212.01 L156.38,212.85 L156.78,213.56 L157.18,213.38 L157.58,213.99 L157.98,214.20" fill="none" stroke="#1c1c1c" stroke-width="0.95" stroke-linejoin="round"/>
<line x1="118.2" y1="227.3" x2="204.6" y2="227.3" stroke="#8a8a8a" stroke-width="0.8"/>
<path d="M118.2,227.3 L118.20,226.04 L118.60,225.38 L119.00,225.87 L119.41,226.34 L119.81,226.37 L120.21,225.68 L120.61,226.02 L121.01,224.71 L121.41,223.38 L121.82,225.17 L122.22,224.60 L122.62,224.82 L123.02,224.47 L123.42,225.05 L123.83,224.24 L124.23,225.00 L124.63,223.26 L125.03,224.58 L125.43,225.19 L125.84,222.60 L126.24,223.70 L126.64,222.76 L127.04,221.86 L127.44,220.97 L127.84,221.37 L128.25,219.24 L128.65,220.41 L129.05,221.41 L129.45,220.39 L129.85,220.05 L130.26,219.91 L130.66,219.91 L131.06,220.12 L131.46,221.29 L131.86,220.47 L132.27,220.02 L132.67,218.06 L133.07,218.57 L133.47,218.24 L133.87,217.71 L134.27,218.58 L134.68,218.17 L135.08,217.02 L135.48,219.05 L135.88,218.14 L136.28,217.54 L136.69,218.58 L137.09,216.52 L137.49,217.12 L137.89,214.76 L138.29,217.64 L138.69,216.93 L139.10,212.37 L139.50,215.79 L139.90,214.55 L140.30,216.40 L140.70,215.43 L141.11,214.99 L141.51,216.01 L141.91,214.52 L142.31,214.96 L142.71,217.09 L143.12,216.19 L143.52,213.46 L143.92,217.41 L144.32,216.90 L144.72,216.35 L145.12,215.98 L145.53,218.78 L145.93,217.42 L146.33,218.93 L146.73,218.65 L147.13,217.17 L147.54,218.65 L147.94,217.33 L148.34,217.48 L148.74,219.87 L149.14,219.98 L149.55,220.33 L149.95,220.54 L150.35,222.73 L150.75,221.82 L151.15,222.20 L151.55,222.13 L151.96,222.90 L152.36,222.57 L152.76,222.03 L153.16,223.23 L153.56,224.36 L153.97,223.24 L154.37,223.25 L154.77,223.63 L155.17,224.88 L155.57,224.31 L155.97,225.21 L156.38,225.53 L156.78,225.21 L157.18,225.23 L157.58,225.89 L157.98,225.31 L158.39,226.72 L158.79,225.35 L159.19,226.40 L159.59,226.29 L159.99,226.82 L160.40,227.10 L160.80,227.07 L161.20,227.10 L161.60,227.19 L162.00,227.28 L162.40,227.30 L162.81,227.30 L163.21,227.30 L163.61,227.30 L164.01,227.30 L164.41,227.30 L164.82,227.30 L165.22,227.30 L165.62,227.30 L166.02,227.30 L166.42,227.30 L166.83,227.30 L167.23,227.30 L167.63,227.30 L168.03,227.30 L168.43,227.30 L168.83,227.30 L169.24,227.30 L169.64,227.30 L170.04,227.30 L170.44,227.30 L170.84,227.30 L171.25,227.30 L171.65,227.30 L172.05,227.30 L172.45,227.30 L172.85,227.30 L173.25,227.30 L173.66,227.30 L174.06,227.30 L174.46,227.30 L174.86,227.30 L175.26,227.30 L175.67,227.30 L176.07,227.30 L176.47,227.30 L176.87,227.30 L177.27,227.30 L177.68,227.30 L178.08,227.30 L178.48,227.30 L178.88,227.30 L179.28,227.30 L179.68,227.30 L180.09,227.30 L180.49,227.30 L180.89,227.30 L181.29,227.30 L181.69,227.30 L182.10,227.30 L182.50,227.30 L182.90,227.30 L183.30,227.30 L183.70,227.30 L184.11,227.30 L184.51,227.30 L184.91,227.30 L185.31,227.30 L185.71,227.30 L186.11,227.30 L186.52,227.30 L186.92,227.30 L187.32,227.30 L187.72,227.30 L188.12,227.30 L188.53,227.30 L188.93,227.30 L189.33,227.30 L189.73,227.30 L190.13,227.30 L190.53,227.30 L190.94,227.30 L191.34,227.30 L191.74,227.30 L192.14,227.30 L192.54,227.30 L192.95,227.30 L193.35,227.30 L193.75,227.30 L194.15,227.30 L194.55,227.30 L194.96,227.30 L195.36,227.30 L195.76,227.30 L196.16,227.30 L196.56,227.30 L196.96,227.30 L197.37,227.30 L197.77,227.30 L198.17,227.30 L198.57,227.30 L198.97,227.30 L199.38,227.30 L199.78,227.30 L200.18,227.30 L200.58,227.30 L200.98,227.30 L201.39,227.30 L201.79,227.30 L202.19,227.30 L202.59,227.30 L202.99,227.30 L203.39,227.30 L203.80,227.30 L204.20,227.30 L204.60,227.30 L204.6,227.3 Z" fill="#48c0bf"/>
<path d="M118.6,225.4V226.0M121.4,223.4V224.0M122.6,224.8V225.8M123.0,224.5V225.2M124.2,225.0V225.8M125.8,222.6V223.3M126.2,223.7V224.8M127.0,221.9V223.6M128.2,219.2V222.4M131.5,221.3V222.1M132.3,220.0V222.3M133.5,218.2V219.7M133.9,217.7V220.9M134.7,218.2V219.9M135.1,217.0V219.4M137.9,214.8V217.6M138.7,216.9V220.9M139.1,212.4V216.4M139.9,214.6V215.2M140.3,216.4V219.0M141.1,215.0V220.0M142.3,215.0V215.7M143.1,216.2V218.1M145.1,216.0V218.8M145.5,218.8V220.6M145.9,217.4V221.2M146.3,218.9V221.6M146.7,218.7V220.1M147.1,217.2V220.1M148.3,217.5V221.7M149.9,220.5V221.9M152.0,222.9V224.8M152.4,222.6V223.5M154.4,223.3V224.4M154.8,223.6V224.6M155.6,224.3V225.1M156.0,225.2V225.8M157.2,225.2V226.1" stroke="#0e4a48" stroke-width="0.6" opacity="0.55" fill="none"/>
<path d="M118.20,226.04 L118.60,225.38 L119.00,225.87 L119.41,226.34 L119.81,226.37 L120.21,225.68 L120.61,226.02 L121.01,224.71 L121.41,223.38 L121.82,225.17 L122.22,224.60 L122.62,224.82 L123.02,224.47 L123.42,225.05 L123.83,224.24 L124.23,225.00 L124.63,223.26 L125.03,224.58 L125.43,225.19 L125.84,222.60 L126.24,223.70 L126.64,222.76 L127.04,221.86 L127.44,220.97 L127.84,221.37 L128.25,219.24 L128.65,220.41 L129.05,221.41 L129.45,220.39 L129.85,220.05 L130.26,219.91 L130.66,219.91 L131.06,220.12 L131.46,221.29 L131.86,220.47 L132.27,220.02 L132.67,218.06 L133.07,218.57 L133.47,218.24 L133.87,217.71 L134.27,218.58 L134.68,218.17 L135.08,217.02 L135.48,219.05 L135.88,218.14 L136.28,217.54 L136.69,218.58 L137.09,216.52 L137.49,217.12 L137.89,214.76 L138.29,217.64 L138.69,216.93 L139.10,212.37 L139.50,215.79 L139.90,214.55 L140.30,216.40 L140.70,215.43 L141.11,214.99 L141.51,216.01 L141.91,214.52 L142.31,214.96 L142.71,217.09 L143.12,216.19 L143.52,213.46 L143.92,217.41 L144.32,216.90 L144.72,216.35 L145.12,215.98 L145.53,218.78 L145.93,217.42 L146.33,218.93 L146.73,218.65 L147.13,217.17 L147.54,218.65 L147.94,217.33 L148.34,217.48 L148.74,219.87 L149.14,219.98 L149.55,220.33 L149.95,220.54 L150.35,222.73 L150.75,221.82 L151.15,222.20 L151.55,222.13 L151.96,222.90 L152.36,222.57 L152.76,222.03 L153.16,223.23 L153.56,224.36 L153.97,223.24 L154.37,223.25 L154.77,223.63 L155.17,224.88 L155.57,224.31 L155.97,225.21 L156.38,225.53 L156.78,225.21 L157.18,225.23 L157.58,225.89 L157.98,225.31 L158.39,226.72 L158.79,225.35 L159.19,226.40 L159.59,226.29 L159.99,226.82 L160.40,227.00" fill="none" stroke="#1c1c1c" stroke-width="0.95" stroke-linejoin="round"/>
<line x1="118.2" y1="239.9" x2="204.6" y2="239.9" stroke="#8a8a8a" stroke-width="0.8"/>
<path d="M118.2,239.9 L118.20,238.91 L118.60,237.77 L119.00,238.58 L119.41,237.42 L119.81,238.46 L120.21,238.58 L120.61,238.40 L121.01,237.60 L121.41,237.09 L121.82,237.20 L122.22,238.92 L122.62,236.82 L123.02,236.72 L123.42,238.38 L123.83,237.48 L124.23,237.39 L124.63,237.23 L125.03,236.18 L125.43,237.98 L125.84,236.46 L126.24,236.52 L126.64,236.40 L127.04,234.93 L127.44,235.53 L127.84,234.35 L128.25,234.86 L128.65,234.12 L129.05,235.72 L129.45,235.09 L129.85,232.98 L130.26,233.27 L130.66,232.89 L131.06,233.34 L131.46,233.26 L131.86,233.00 L132.27,231.82 L132.67,233.37 L133.07,232.27 L133.47,230.87 L133.87,231.67 L134.27,230.92 L134.68,231.11 L135.08,230.10 L135.48,229.62 L135.88,228.35 L136.28,229.28 L136.69,229.64 L137.09,228.75 L137.49,228.86 L137.89,227.15 L138.29,229.52 L138.69,228.56 L139.10,228.20 L139.50,225.47 L139.90,227.63 L140.30,229.40 L140.70,228.67 L141.11,228.86 L141.51,229.64 L141.91,227.53 L142.31,228.01 L142.71,227.14 L143.12,227.58 L143.52,228.09 L143.92,231.73 L144.32,228.10 L144.72,228.42 L145.12,231.61 L145.53,229.21 L145.93,229.69 L146.33,231.21 L146.73,230.53 L147.13,230.38 L147.54,230.84 L147.94,231.53 L148.34,231.62 L148.74,230.81 L149.14,230.65 L149.55,230.05 L149.95,231.00 L150.35,230.40 L150.75,229.46 L151.15,232.20 L151.55,231.79 L151.96,232.09 L152.36,232.33 L152.76,232.92 L153.16,231.26 L153.56,232.61 L153.97,234.52 L154.37,232.64 L154.77,235.34 L155.17,235.29 L155.57,235.45 L155.97,235.14 L156.38,235.46 L156.78,234.37 L157.18,235.96 L157.58,234.18 L157.98,236.20 L158.39,236.15 L158.79,235.93 L159.19,236.54 L159.59,235.32 L159.99,235.49 L160.40,237.70 L160.80,235.59 L161.20,238.14 L161.60,237.59 L162.00,238.94 L162.40,238.91 L162.81,238.44 L163.21,239.55 L163.61,239.24 L164.01,237.85 L164.41,239.03 L164.82,238.33 L165.22,239.08 L165.62,238.79 L166.02,238.73 L166.42,239.39 L166.83,239.18 L167.23,239.65 L167.63,239.72 L168.03,239.81 L168.43,239.87 L168.83,239.90 L169.24,239.90 L169.64,239.90 L170.04,239.90 L170.44,239.90 L170.84,239.90 L171.25,239.90 L171.65,239.90 L172.05,239.90 L172.45,239.90 L172.85,239.90 L173.25,239.90 L173.66,239.90 L174.06,239.90 L174.46,239.90 L174.86,239.90 L175.26,239.90 L175.67,239.90 L176.07,239.90 L176.47,239.90 L176.87,239.90 L177.27,239.90 L177.68,239.90 L178.08,239.90 L178.48,239.90 L178.88,239.90 L179.28,239.90 L179.68,239.90 L180.09,239.90 L180.49,239.90 L180.89,239.90 L181.29,239.90 L181.69,239.90 L182.10,239.90 L182.50,239.90 L182.90,239.90 L183.30,239.90 L183.70,239.90 L184.11,239.90 L184.51,239.90 L184.91,239.90 L185.31,239.90 L185.71,239.90 L186.11,239.90 L186.52,239.90 L186.92,239.90 L187.32,239.90 L187.72,239.90 L188.12,239.90 L188.53,239.90 L188.93,239.90 L189.33,239.90 L189.73,239.90 L190.13,239.90 L190.53,239.90 L190.94,239.90 L191.34,239.90 L191.74,239.90 L192.14,239.90 L192.54,239.90 L192.95,239.90 L193.35,239.90 L193.75,239.90 L194.15,239.90 L194.55,239.90 L194.96,239.90 L195.36,239.90 L195.76,239.90 L196.16,239.90 L196.56,239.90 L196.96,239.90 L197.37,239.90 L197.77,239.90 L198.17,239.90 L198.57,239.90 L198.97,239.90 L199.38,239.90 L199.78,239.90 L200.18,239.90 L200.58,239.90 L200.98,239.90 L201.39,239.90 L201.79,239.90 L202.19,239.90 L202.59,239.90 L202.99,239.90 L203.39,239.90 L203.80,239.90 L204.20,239.90 L204.60,239.90 L204.6,239.9 Z" fill="#4d4db0"/>
<path d="M121.0,237.6V238.3M121.4,237.1V237.9M122.6,236.8V237.4M123.0,236.7V237.4M123.4,238.4V239.0M124.6,237.2V238.2M125.4,238.0V238.6M125.8,236.5V237.5M126.2,236.5V237.7M127.0,234.9V236.5M127.4,235.5V237.2M127.8,234.3V236.1M130.7,232.9V234.2M131.5,233.3V234.3M131.9,233.0V235.2M132.3,231.8V235.2M133.5,230.9V232.6M133.9,231.7V232.6M134.7,231.1V231.7M135.5,229.6V233.3M135.9,228.3V233.4M136.3,229.3V231.9M137.1,228.8V233.4M137.5,228.9V232.4M137.9,227.1V228.2M138.3,229.5V233.3M139.9,227.6V232.1M141.9,227.5V228.8M142.3,228.0V230.7M142.7,227.1V232.6M143.1,227.6V231.9M143.5,228.1V229.2M144.3,228.1V231.5M145.1,231.6V233.3M145.5,229.2V232.7M145.9,229.7V232.7M146.7,230.5V232.7M147.1,230.4V234.4M147.9,231.5V233.6M148.3,231.6V233.8M148.7,230.8V231.9M149.9,231.0V233.6M150.3,230.4V233.6M150.8,229.5V233.5M151.2,232.2V233.3M151.6,231.8V234.3M152.0,232.1V235.4M152.4,232.3V234.1M152.8,232.9V234.7M153.6,232.6V233.7M154.8,235.3V236.3M155.6,235.4V236.1M157.6,234.2V235.4M159.6,235.3V236.3M160.0,235.5V236.2M160.8,235.6V237.4M161.6,237.6V238.6M164.8,238.3V239.0" stroke="#141440" stroke-width="0.6" opacity="0.55" fill="none"/>
<path d="M118.20,238.91 L118.60,237.77 L119.00,238.58 L119.41,237.42 L119.81,238.46 L120.21,238.58 L120.61,238.40 L121.01,237.60 L121.41,237.09 L121.82,237.20 L122.22,238.92 L122.62,236.82 L123.02,236.72 L123.42,238.38 L123.83,237.48 L124.23,237.39 L124.63,237.23 L125.03,236.18 L125.43,237.98 L125.84,236.46 L126.24,236.52 L126.64,236.40 L127.04,234.93 L127.44,235.53 L127.84,234.35 L128.25,234.86 L128.65,234.12 L129.05,235.72 L129.45,235.09 L129.85,232.98 L130.26,233.27 L130.66,232.89 L131.06,233.34 L131.46,233.26 L131.86,233.00 L132.27,231.82 L132.67,233.37 L133.07,232.27 L133.47,230.87 L133.87,231.67 L134.27,230.92 L134.68,231.11 L135.08,230.10 L135.48,229.62 L135.88,228.35 L136.28,229.28 L136.69,229.64 L137.09,228.75 L137.49,228.86 L137.89,227.15 L138.29,229.52 L138.69,228.56 L139.10,228.20 L139.50,225.47 L139.90,227.63 L140.30,229.40 L140.70,228.67 L141.11,228.86 L141.51,229.64 L141.91,227.53 L142.31,228.01 L142.71,227.14 L143.12,227.58 L143.52,228.09 L143.92,231.73 L144.32,228.10 L144.72,228.42 L145.12,231.61 L145.53,229.21 L145.93,229.69 L146.33,231.21 L146.73,230.53 L147.13,230.38 L147.54,230.84 L147.94,231.53 L148.34,231.62 L148.74,230.81 L149.14,230.65 L149.55,230.05 L149.95,231.00 L150.35,230.40 L150.75,229.46 L151.15,232.20 L151.55,231.79 L151.96,232.09 L152.36,232.33 L152.76,232.92 L153.16,231.26 L153.56,232.61 L153.97,234.52 L154.37,232.64 L154.77,235.34 L155.17,235.29 L155.57,235.45 L155.97,235.14 L156.38,235.46 L156.78,234.37 L157.18,235.96 L157.58,234.18 L157.98,236.20 L158.39,236.15 L158.79,235.93 L159.19,236.54 L159.59,235.32 L159.99,235.49 L160.40,237.70 L160.80,235.59 L161.20,238.14 L161.60,237.59 L162.00,238.94 L162.40,238.91 L162.81,238.44 L163.21,239.55 L163.61,239.24 L164.01,237.85 L164.41,239.03 L164.82,238.33 L165.22,239.08 L165.62,238.79 L166.02,238.73 L166.42,239.39 L166.83,239.18 L167.23,239.60" fill="none" stroke="#1c1c1c" stroke-width="0.95" stroke-linejoin="round"/>
<line x1="118.2" y1="252.6" x2="204.6" y2="252.6" stroke="#8a8a8a" stroke-width="0.8"/>
<path d="M118.2,252.6 L118.20,251.58 L118.60,251.75 L119.00,251.18 L119.41,251.93 L119.81,251.56 L120.21,252.29 L120.61,251.48 L121.01,251.34 L121.41,251.75 L121.82,250.38 L122.22,250.78 L122.62,251.98 L123.02,251.05 L123.42,251.11 L123.83,251.68 L124.23,250.32 L124.63,251.17 L125.03,251.98 L125.43,251.05 L125.84,251.23 L126.24,250.76 L126.64,250.32 L127.04,250.54 L127.44,249.81 L127.84,250.77 L128.25,249.34 L128.65,249.34 L129.05,250.27 L129.45,249.35 L129.85,250.18 L130.26,248.42 L130.66,248.45 L131.06,248.53 L131.46,247.74 L131.86,249.71 L132.27,247.36 L132.67,248.91 L133.07,247.83 L133.47,248.02 L133.87,248.48 L134.27,247.98 L134.68,245.54 L135.08,245.40 L135.48,245.84 L135.88,247.36 L136.28,244.35 L136.69,244.08 L137.09,242.65 L137.49,243.48 L137.89,243.11 L138.29,243.09 L138.69,243.43 L139.10,244.02 L139.50,243.58 L139.90,244.18 L140.30,242.76 L140.70,242.76 L141.11,242.31 L141.51,241.95 L141.91,242.65 L142.31,242.59 L142.71,240.79 L143.12,242.08 L143.52,240.18 L143.92,240.85 L144.32,242.85 L144.72,243.01 L145.12,242.61 L145.53,239.81 L145.93,239.10 L146.33,242.61 L146.73,240.17 L147.13,240.63 L147.54,241.38 L147.94,241.20 L148.34,239.61 L148.74,240.07 L149.14,240.24 L149.55,240.34 L149.95,240.61 L150.35,240.84 L150.75,242.63 L151.15,243.23 L151.55,240.88 L151.96,239.68 L152.36,240.92 L152.76,240.30 L153.16,240.85 L153.56,242.37 L153.97,241.36 L154.37,240.41 L154.77,241.54 L155.17,240.40 L155.57,240.59 L155.97,241.19 L156.38,240.67 L156.78,242.89 L157.18,241.35 L157.58,241.02 L157.98,240.34 L158.39,243.84 L158.79,242.42 L159.19,242.46 L159.59,242.22 L159.99,243.34 L160.40,242.77 L160.80,243.59 L161.20,243.30 L161.60,240.50 L162.00,245.21 L162.40,241.73 L162.81,243.78 L163.21,243.59 L163.61,241.76 L164.01,246.42 L164.41,241.88 L164.82,244.38 L165.22,244.13 L165.62,244.16 L166.02,245.70 L166.42,244.32 L166.83,247.93 L167.23,246.88 L167.63,246.75 L168.03,247.84 L168.43,245.04 L168.83,248.05 L169.24,248.81 L169.64,248.79 L170.04,249.08 L170.44,248.82 L170.84,248.67 L171.25,248.69 L171.65,250.79 L172.05,248.16 L172.45,248.08 L172.85,248.73 L173.25,248.98 L173.66,250.73 L174.06,249.15 L174.46,249.95 L174.86,250.44 L175.26,250.27 L175.67,248.86 L176.07,251.56 L176.47,250.35 L176.87,250.37 L177.27,250.67 L177.68,251.09 L178.08,250.03 L178.48,250.31 L178.88,250.11 L179.28,251.01 L179.68,251.16 L180.09,250.61 L180.49,249.81 L180.89,251.00 L181.29,250.63 L181.69,251.86 L182.10,250.42 L182.50,250.71 L182.90,250.94 L183.30,251.26 L183.70,251.92 L184.11,251.82 L184.51,252.18 L184.91,252.23 L185.31,251.96 L185.71,252.20 L186.11,252.33 L186.52,252.05 L186.92,252.33 L187.32,252.38 L187.72,252.40 L188.12,252.42 L188.53,252.49 L188.93,252.58 L189.33,252.60 L189.73,252.60 L190.13,252.60 L190.53,252.60 L190.94,252.60 L191.34,252.60 L191.74,252.60 L192.14,252.60 L192.54,252.60 L192.95,252.60 L193.35,252.60 L193.75,252.60 L194.15,252.60 L194.55,252.60 L194.96,252.60 L195.36,252.60 L195.76,252.60 L196.16,252.60 L196.56,252.60 L196.96,252.60 L197.37,252.60 L197.77,252.60 L198.17,252.60 L198.57,252.60 L198.97,252.60 L199.38,252.60 L199.78,252.60 L200.18,252.60 L200.58,252.60 L200.98,252.60 L201.39,252.60 L201.79,252.60 L202.19,252.60 L202.59,252.60 L202.99,252.60 L203.39,252.60 L203.80,252.60 L204.20,252.60 L204.60,252.60 L204.6,252.6 Z" fill="#a26465"/>
<path d="M122.2,250.8V251.5M123.0,251.0V251.7M124.2,250.3V251.1M126.6,250.3V250.9M127.8,250.8V251.4M128.6,249.3V250.0M129.1,250.3V251.2M131.5,247.7V248.9M133.5,248.0V248.8M133.9,248.5V249.4M135.9,247.4V248.3M136.3,244.3V246.1M137.1,242.7V246.3M137.5,243.5V245.3M138.3,243.1V246.4M139.5,243.6V245.4M140.3,242.8V244.4M141.9,242.6V245.7M142.3,242.6V244.3M142.7,240.8V242.5M143.5,240.2V241.4M145.9,239.1V242.5M146.3,242.6V245.2M146.7,240.2V241.3M147.1,240.6V242.9M147.5,241.4V242.9M147.9,241.2V242.3M149.5,240.3V241.9M150.3,240.8V242.1M152.4,240.9V244.9M155.2,240.4V243.8M156.4,240.7V243.4M157.6,241.0V245.9M158.4,243.8V246.8M159.2,242.5V246.8M159.6,242.2V246.3M160.0,243.3V245.1M160.4,242.8V244.2M162.4,241.7V243.6M162.8,243.8V247.1M167.2,246.9V247.5M168.4,245.0V248.0M169.2,248.8V249.6M170.4,248.8V250.4M170.8,248.7V250.2M171.6,250.8V251.5M172.9,248.7V249.8M173.3,249.0V250.4M173.7,250.7V251.5M174.1,249.2V250.6M174.5,249.9V251.0M175.3,250.3V251.1M175.7,248.9V249.5M176.9,250.4V251.3M177.3,250.7V251.3M177.7,251.1V251.8M178.1,250.0V250.6M178.5,250.3V251.1M180.1,250.6V251.4M180.5,249.8V250.9M181.3,250.6V251.4M182.1,250.4V251.2" stroke="#3a1a1a" stroke-width="0.6" opacity="0.55" fill="none"/>
<path d="M118.20,251.58 L118.60,251.75 L119.00,251.18 L119.41,251.93 L119.81,251.56 L120.21,252.30 M120.21,252.30 L120.61,251.48 L121.01,251.34 L121.41,251.75 L121.82,250.38 L122.22,250.78 L122.62,251.98 L123.02,251.05 L123.42,251.11 L123.83,251.68 L124.23,250.32 L124.63,251.17 L125.03,251.98 L125.43,251.05 L125.84,251.23 L126.24,250.76 L126.64,250.32 L127.04,250.54 L127.44,249.81 L127.84,250.77 L128.25,249.34 L128.65,249.34 L129.05,250.27 L129.45,249.35 L129.85,250.18 L130.26,248.42 L130.66,248.45 L131.06,248.53 L131.46,247.74 L131.86,249.71 L132.27,247.36 L132.67,248.91 L133.07,247.83 L133.47,248.02 L133.87,248.48 L134.27,247.98 L134.68,245.54 L135.08,245.40 L135.48,245.84 L135.88,247.36 L136.28,244.35 L136.69,244.08 L137.09,242.65 L137.49,243.48 L137.89,243.11 L138.29,243.09 L138.69,243.43 L139.10,244.02 L139.50,243.58 L139.90,244.18 L140.30,242.76 L140.70,242.76 L141.11,242.31 L141.51,241.95 L141.91,242.65 L142.31,242.59 L142.71,240.79 L143.12,242.08 L143.52,240.18 L143.92,240.85 L144.32,242.85 L144.72,243.01 L145.12,242.61 L145.53,239.81 L145.93,239.10 L146.33,242.61 L146.73,240.17 L147.13,240.63 L147.54,241.38 L147.94,241.20 L148.34,239.61 L148.74,240.07 L149.14,240.24 L149.55,240.34 L149.95,240.61 L150.35,240.84 L150.75,242.63 L151.15,243.23 L151.55,240.88 L151.96,239.68 L152.36,240.92 L152.76,240.30 L153.16,240.85 L153.56,242.37 L153.97,241.36 L154.37,240.41 L154.77,241.54 L155.17,240.40 L155.57,240.59 L155.97,241.19 L156.38,240.67 L156.78,242.89 L157.18,241.35 L157.58,241.02 L157.98,240.34 L158.39,243.84 L158.79,242.42 L159.19,242.46 L159.59,242.22 L159.99,243.34 L160.40,242.77 L160.80,243.59 L161.20,243.30 L161.60,240.50 L162.00,245.21 L162.40,241.73 L162.81,243.78 L163.21,243.59 L163.61,241.76 L164.01,246.42 L164.41,241.88 L164.82,244.38 L165.22,244.13 L165.62,244.16 L166.02,245.70 L166.42,244.32 L166.83,247.93 L167.23,246.88 L167.63,246.75 L168.03,247.84 L168.43,245.04 L168.83,248.05 L169.24,248.81 L169.64,248.79 L170.04,249.08 L170.44,248.82 L170.84,248.67 L171.25,248.69 L171.65,250.79 L172.05,248.16 L172.45,248.08 L172.85,248.73 L173.25,248.98 L173.66,250.73 L174.06,249.15 L174.46,249.95 L174.86,250.44 L175.26,250.27 L175.67,248.86 L176.07,251.56 L176.47,250.35 L176.87,250.37 L177.27,250.67 L177.68,251.09 L178.08,250.03 L178.48,250.31 L178.88,250.11 L179.28,251.01 L179.68,251.16 L180.09,250.61 L180.49,249.81 L180.89,251.00 L181.29,250.63 L181.69,251.86 L182.10,250.42 L182.50,250.71 L182.90,250.94 L183.30,251.26 L183.70,251.92 L184.11,251.82 L184.51,252.18 L184.91,252.23 L185.31,251.96 L185.71,252.20 L186.11,252.30 M186.11,252.30 L186.52,252.05 L186.92,252.30" fill="none" stroke="#1c1c1c" stroke-width="0.95" stroke-linejoin="round"/>
<line x1="118.2" y1="265.2" x2="204.6" y2="265.2" stroke="#8a8a8a" stroke-width="0.8"/>
<path d="M118.2,265.2 L118.20,264.66 L118.60,265.17 L119.00,264.53 L119.41,264.19 L119.81,264.07 L120.21,263.45 L120.61,264.86 L121.01,264.03 L121.41,264.43 L121.82,264.26 L122.22,264.25 L122.62,264.09 L123.02,263.78 L123.42,263.39 L123.83,263.05 L124.23,264.02 L124.63,263.41 L125.03,262.98 L125.43,263.72 L125.84,262.66 L126.24,262.69 L126.64,262.12 L127.04,262.70 L127.44,262.71 L127.84,262.86 L128.25,262.78 L128.65,259.92 L129.05,261.59 L129.45,260.53 L129.85,260.13 L130.26,261.28 L130.66,260.03 L131.06,260.01 L131.46,261.12 L131.86,260.84 L132.27,260.36 L132.67,260.53 L133.07,261.42 L133.47,260.97 L133.87,261.14 L134.27,260.25 L134.68,260.69 L135.08,257.44 L135.48,259.31 L135.88,261.25 L136.28,261.09 L136.69,260.54 L137.09,260.05 L137.49,261.29 L137.89,261.42 L138.29,260.76 L138.69,260.28 L139.10,260.89 L139.50,261.25 L139.90,259.59 L140.30,261.51 L140.70,260.53 L141.11,261.20 L141.51,260.42 L141.91,259.81 L142.31,260.06 L142.71,260.28 L143.12,260.10 L143.52,261.94 L143.92,261.27 L144.32,260.71 L144.72,261.51 L145.12,260.57 L145.53,259.84 L145.93,259.62 L146.33,260.47 L146.73,261.59 L147.13,261.60 L147.54,262.04 L147.94,261.47 L148.34,261.14 L148.74,262.39 L149.14,261.78 L149.55,261.22 L149.95,261.60 L150.35,261.80 L150.75,262.01 L151.15,261.06 L151.55,260.91 L151.96,259.65 L152.36,259.28 L152.76,258.84 L153.16,257.95 L153.56,256.10 L153.97,259.90 L154.37,256.87 L154.77,257.69 L155.17,257.82 L155.57,256.94 L155.97,257.12 L156.38,257.56 L156.78,256.22 L157.18,256.08 L157.58,255.35 L157.98,256.32 L158.39,257.22 L158.79,255.60 L159.19,255.57 L159.59,255.51 L159.99,253.95 L160.40,255.94 L160.80,255.62 L161.20,256.54 L161.60,255.14 L162.00,253.57 L162.40,253.37 L162.81,252.68 L163.21,252.73 L163.61,253.94 L164.01,254.97 L164.41,252.83 L164.82,253.87 L165.22,250.97 L165.62,251.20 L166.02,251.09 L166.42,250.75 L166.83,253.57 L167.23,252.45 L167.63,252.20 L168.03,253.75 L168.43,251.94 L168.83,250.90 L169.24,251.43 L169.64,254.72 L170.04,251.58 L170.44,249.79 L170.84,252.16 L171.25,251.70 L171.65,250.52 L172.05,250.95 L172.45,251.07 L172.85,252.08 L173.25,250.90 L173.66,249.75 L174.06,252.21 L174.46,249.27 L174.86,252.38 L175.26,252.25 L175.67,251.16 L176.07,252.28 L176.47,252.40 L176.87,254.38 L177.27,251.26 L177.68,253.60 L178.08,254.73 L178.48,254.15 L178.88,252.79 L179.28,254.85 L179.68,252.99 L180.09,255.54 L180.49,255.33 L180.89,250.42 L181.29,255.74 L181.69,254.08 L182.10,256.74 L182.50,255.03 L182.90,256.76 L183.30,256.39 L183.70,257.59 L184.11,257.47 L184.51,257.69 L184.91,256.00 L185.31,255.36 L185.71,258.87 L186.11,259.63 L186.52,258.93 L186.92,260.03 L187.32,258.85 L187.72,260.70 L188.12,261.03 L188.53,261.16 L188.93,260.76 L189.33,260.63 L189.73,261.60 L190.13,260.94 L190.53,262.29 L190.94,262.62 L191.34,262.12 L191.74,263.73 L192.14,263.30 L192.54,263.66 L192.95,263.53 L193.35,263.68 L193.75,264.81 L194.15,264.11 L194.55,263.80 L194.96,264.44 L195.36,264.71 L195.76,264.58 L196.16,264.63 L196.56,264.06 L196.96,264.87 L197.37,263.83 L197.77,265.10 L198.17,265.13 L198.57,265.20 L198.97,264.96 L199.38,265.00 L199.78,265.05 L200.18,265.10 L200.58,265.14 L200.98,265.17 L201.39,265.19 L201.79,265.20 L202.19,265.20 L202.59,265.20 L202.99,265.20 L203.39,265.20 L203.80,265.20 L204.20,265.20 L204.60,265.20 L204.6,265.2 Z" fill="#ec4a4b"/>
<path d="M123.4,263.4V264.0M124.6,263.4V264.2M125.0,263.0V263.9M126.2,262.7V263.6M126.6,262.1V262.8M127.4,262.7V263.6M127.8,262.9V263.9M129.1,261.6V262.9M129.5,260.5V261.8M129.9,260.1V261.0M131.9,260.8V262.2M132.3,260.4V262.0M132.7,260.5V262.3M133.1,261.4V262.4M133.5,261.0V261.6M133.9,261.1V261.8M134.3,260.3V261.5M135.1,257.4V260.9M135.5,259.3V261.6M135.9,261.2V262.1M136.7,260.5V261.2M137.1,260.0V261.8M138.3,260.8V262.4M138.7,260.3V261.7M139.1,260.9V262.0M139.9,259.6V261.0M140.7,260.5V262.4M141.5,260.4V262.1M142.3,260.1V262.4M142.7,260.3V262.2M143.9,261.3V262.7M144.3,260.7V262.3M145.1,260.6V262.3M146.7,261.6V262.3M147.9,261.5V262.6M148.7,262.4V263.6M149.1,261.8V262.7M150.3,261.8V262.5M150.8,262.0V263.4M153.2,258.0V258.9M154.0,259.9V261.4M154.4,256.9V260.4M155.2,257.8V258.6M155.6,256.9V259.3M156.0,257.1V259.5M156.4,257.6V259.2M157.2,256.1V257.3M157.6,255.3V259.5M158.4,257.2V258.8M158.8,255.6V259.5M160.8,255.6V259.7M161.2,256.5V259.6M161.6,255.1V255.9M162.4,253.4V258.2M162.8,252.7V256.6M163.2,252.7V253.6M163.6,253.9V255.9M165.2,251.0V252.8M165.6,251.2V253.6M166.0,251.1V256.0M166.4,250.8V254.5M166.8,253.6V255.6M167.2,252.4V255.4M168.4,251.9V257.9M168.8,250.9V252.6M171.2,251.7V257.5M173.3,250.9V257.0M173.7,249.8V256.4M174.1,252.2V255.5M176.1,252.3V256.6M176.9,254.4V255.5M178.9,252.8V255.0M179.3,254.9V255.8M179.7,253.0V255.4M180.1,255.5V256.4M180.5,255.3V259.6M181.3,255.7V258.0M181.7,254.1V256.8M182.1,256.7V259.7M185.3,255.4V256.3M185.7,258.9V261.3M186.5,258.9V261.4M186.9,260.0V261.5M187.3,258.8V260.1M187.7,260.7V262.2M189.3,260.6V261.3M189.7,261.6V262.3M190.1,260.9V261.9M190.5,262.3V263.5M190.9,262.6V263.5M192.1,263.3V264.0M192.5,263.7V264.3" stroke="#6a1010" stroke-width="0.6" opacity="0.55" fill="none"/>
<path d="M118.20,264.66 L118.60,264.90 M118.60,264.90 L119.00,264.53 L119.41,264.19 L119.81,264.07 L120.21,263.45 L120.61,264.90 M120.61,264.90 L121.01,264.03 L121.41,264.43 L121.82,264.26 L122.22,264.25 L122.62,264.09 L123.02,263.78 L123.42,263.39 L123.83,263.05 L124.23,264.02 L124.63,263.41 L125.03,262.98 L125.43,263.72 L125.84,262.66 L126.24,262.69 L126.64,262.12 L127.04,262.70 L127.44,262.71 L127.84,262.86 L128.25,262.78 L128.65,259.92 L129.05,261.59 L129.45,260.53 L129.85,260.13 L130.26,261.28 L130.66,260.03 L131.06,260.01 L131.46,261.12 L131.86,260.84 L132.27,260.36 L132.67,260.53 L133.07,261.42 L133.47,260.97 L133.87,261.14 L134.27,260.25 L134.68,260.69 L135.08,257.44 L135.48,259.31 L135.88,261.25 L136.28,261.09 L136.69,260.54 L137.09,260.05 L137.49,261.29 L137.89,261.42 L138.29,260.76 L138.69,260.28 L139.10,260.89 L139.50,261.25 L139.90,259.59 L140.30,261.51 L140.70,260.53 L141.11,261.20 L141.51,260.42 L141.91,259.81 L142.31,260.06 L142.71,260.28 L143.12,260.10 L143.52,261.94 L143.92,261.27 L144.32,260.71 L144.72,261.51 L145.12,260.57 L145.53,259.84 L145.93,259.62 L146.33,260.47 L146.73,261.59 L147.13,261.60 L147.54,262.04 L147.94,261.47 L148.34,261.14 L148.74,262.39 L149.14,261.78 L149.55,261.22 L149.95,261.60 L150.35,261.80 L150.75,262.01 L151.15,261.06 L151.55,260.91 L151.96,259.65 L152.36,259.28 L152.76,258.84 L153.16,257.95 L153.56,256.10 L153.97,259.90 L154.37,256.87 L154.77,257.69 L155.17,257.82 L155.57,256.94 L155.97,257.12 L156.38,257.56 L156.78,256.22 L157.18,256.08 L157.58,255.35 L157.98,256.32 L158.39,257.22 L158.79,255.60 L159.19,255.57 L159.59,255.51 L159.99,253.95 L160.40,255.94 L160.80,255.62 L161.20,256.54 L161.60,255.14 L162.00,253.57 L162.40,253.37 L162.81,252.68 L163.21,252.73 L163.61,253.94 L164.01,254.97 L164.41,252.83 L164.82,253.87 L165.22,250.97 L165.62,251.20 L166.02,251.09 L166.42,250.75 L166.83,253.57 L167.23,252.45 L167.63,252.20 L168.03,253.75 L168.43,251.94 L168.83,250.90 L169.24,251.43 L169.64,254.72 L170.04,251.58 L170.44,249.79 L170.84,252.16 L171.25,251.70 L171.65,250.52 L172.05,250.95 L172.45,251.07 L172.85,252.08 L173.25,250.90 L173.66,249.75 L174.06,252.21 L174.46,249.27 L174.86,252.38 L175.26,252.25 L175.67,251.16 L176.07,252.28 L176.47,252.40 L176.87,254.38 L177.27,251.26 L177.68,253.60 L178.08,254.73 L178.48,254.15 L178.88,252.79 L179.28,254.85 L179.68,252.99 L180.09,255.54 L180.49,255.33 L180.89,250.42 L181.29,255.74 L181.69,254.08 L182.10,256.74 L182.50,255.03 L182.90,256.76 L183.30,256.39 L183.70,257.59 L184.11,257.47 L184.51,257.69 L184.91,256.00 L185.31,255.36 L185.71,258.87 L186.11,259.63 L186.52,258.93 L186.92,260.03 L187.32,258.85 L187.72,260.70 L188.12,261.03 L188.53,261.16 L188.93,260.76 L189.33,260.63 L189.73,261.60 L190.13,260.94 L190.53,262.29 L190.94,262.62 L191.34,262.12 L191.74,263.73 L192.14,263.30 L192.54,263.66 L192.95,263.53 L193.35,263.68 L193.75,264.81 L194.15,264.11 L194.55,263.80 L194.96,264.44 L195.36,264.71 L195.76,264.58 L196.16,264.63 L196.56,264.06 L196.96,264.90 M196.96,264.90 L197.37,263.83 L197.77,264.90" fill="none" stroke="#1c1c1c" stroke-width="0.95" stroke-linejoin="round"/>
<path d="M118.2,278.3 L118.20,275.66 L118.60,275.70 L119.00,275.58 L119.41,275.23 L119.81,275.48 L120.21,274.21 L120.61,274.57 L121.01,273.39 L121.41,270.71 L121.82,272.63 L122.22,272.24 L122.62,272.03 L123.02,272.25 L123.42,272.40 L123.83,271.96 L124.23,271.78 L124.63,271.73 L125.03,270.94 L125.43,270.46 L125.84,270.24 L126.24,269.58 L126.64,269.67 L127.04,269.09 L127.44,268.88 L127.84,268.50 L128.25,268.03 L128.65,268.58 L129.05,267.81 L129.45,267.00 L129.85,267.16 L130.26,266.85 L130.66,267.22 L131.06,266.93 L131.46,267.08 L131.86,266.80 L132.27,264.93 L132.67,265.33 L133.07,265.60 L133.47,264.53 L133.87,266.03 L134.27,266.14 L134.68,264.15 L135.08,266.07 L135.48,266.10 L135.88,264.55 L136.28,265.76 L136.69,265.85 L137.09,263.41 L137.49,264.99 L137.89,265.84 L138.29,266.07 L138.69,266.54 L139.10,265.48 L139.50,265.01 L139.90,264.98 L140.30,266.35 L140.70,268.43 L141.11,270.32 L141.51,270.64 L141.91,271.26 L142.31,272.10 L142.71,272.40 L143.12,274.08 L143.52,273.55 L143.92,275.52 L144.32,276.70 L144.72,277.55 L145.12,277.89 L145.53,277.95 L145.93,278.09 L146.33,278.23 L146.73,278.30 L147.13,278.30 L147.54,278.30 L147.94,278.30 L148.34,278.30 L148.74,278.30 L149.14,278.30 L149.55,278.30 L149.95,278.30 L150.35,278.30 L150.75,278.30 L151.15,278.30 L151.55,278.30 L151.96,278.30 L152.36,278.30 L152.76,278.30 L153.16,278.30 L153.56,278.30 L153.97,278.30 L154.37,278.30 L154.77,278.30 L155.17,278.30 L155.57,278.30 L155.97,278.30 L156.38,278.30 L156.78,278.30 L157.18,278.30 L157.58,278.30 L157.98,278.30 L158.39,278.30 L158.79,278.30 L159.19,278.30 L159.59,278.30 L159.99,278.30 L160.40,278.30 L160.80,278.30 L161.20,278.30 L161.60,278.30 L162.00,278.30 L162.40,278.30 L162.81,278.30 L163.21,278.30 L163.61,278.30 L164.01,278.30 L164.41,278.30 L164.82,278.30 L165.22,278.30 L165.62,278.30 L166.02,278.30 L166.42,278.30 L166.83,278.30 L167.23,278.30 L167.63,278.30 L168.03,278.30 L168.43,278.30 L168.83,278.30 L169.24,278.30 L169.64,278.30 L170.04,278.30 L170.44,278.30 L170.84,278.30 L171.25,278.30 L171.65,278.30 L172.05,278.30 L172.45,278.30 L172.85,278.30 L173.25,278.30 L173.66,278.30 L174.06,278.30 L174.46,278.30 L174.86,278.30 L175.26,278.30 L175.67,278.30 L176.07,278.30 L176.47,278.30 L176.87,278.30 L177.27,278.30 L177.68,278.30 L178.08,278.30 L178.48,278.30 L178.88,278.30 L179.28,278.30 L179.68,278.30 L180.09,278.30 L180.49,278.30 L180.89,278.30 L181.29,278.30 L181.69,278.30 L182.10,278.30 L182.50,278.30 L182.90,278.30 L183.30,278.30 L183.70,278.30 L184.11,278.30 L184.51,278.30 L184.91,278.30 L185.31,278.30 L185.71,278.30 L186.11,278.30 L186.52,278.30 L186.92,278.30 L187.32,278.30 L187.72,278.30 L188.12,278.30 L188.53,278.30 L188.93,278.30 L189.33,278.30 L189.73,278.30 L190.13,278.30 L190.53,278.30 L190.94,278.30 L191.34,278.30 L191.74,278.30 L192.14,278.30 L192.54,278.30 L192.95,278.30 L193.35,278.30 L193.75,278.30 L194.15,278.30 L194.55,278.30 L194.96,278.30 L195.36,278.30 L195.76,278.30 L196.16,278.30 L196.56,278.30 L196.96,278.30 L197.37,278.30 L197.77,278.30 L198.17,278.30 L198.57,278.30 L198.97,278.30 L199.38,278.30 L199.78,278.30 L200.18,278.30 L200.58,278.30 L200.98,278.30 L201.39,278.30 L201.79,278.30 L202.19,278.30 L202.59,278.30 L202.99,278.30 L203.39,278.30 L203.80,278.30 L204.20,278.30 L204.60,278.30 L204.6,278.3 Z" fill="url(#hatch)"/>
<path d="M118.20,275.66 L118.60,275.70 L119.00,275.58 L119.41,275.23 L119.81,275.48 L120.21,274.21 L120.61,274.57 L121.01,273.39 L121.41,270.71 L121.82,272.63 L122.22,272.24 L122.62,272.03 L123.02,272.25 L123.42,272.40 L123.83,271.96 L124.23,271.78 L124.63,271.73 L125.03,270.94 L125.43,270.46 L125.84,270.24 L126.24,269.58 L126.64,269.67 L127.04,269.09 L127.44,268.88 L127.84,268.50 L128.25,268.03 L128.65,268.58 L129.05,267.81 L129.45,267.00 L129.85,267.16 L130.26,266.85 L130.66,267.22 L131.06,266.93 L131.46,267.08 L131.86,266.80 L132.27,264.93 L132.67,265.33 L133.07,265.60 L133.47,264.53 L133.87,266.03 L134.27,266.14 L134.68,264.15 L135.08,266.07 L135.48,266.10 L135.88,264.55 L136.28,265.76 L136.69,265.85 L137.09,263.41 L137.49,264.99 L137.89,265.84 L138.29,266.07 L138.69,266.54 L139.10,265.48 L139.50,265.01 L139.90,264.98 L140.30,266.35 L140.70,268.43 L141.11,270.32 L141.51,270.64 L141.91,271.26 L142.31,272.10 L142.71,272.40 L143.12,274.08 L143.52,273.55 L143.92,275.52 L144.32,276.70 L144.72,277.55 L145.12,277.89 L145.53,278.00" fill="none" stroke="#1c1c1c" stroke-width="0.95" stroke-linejoin="round"/>
<rect x="118.2" y="189.8" width="86.39999999999999" height="88.5" fill="none" stroke="#8a8a8a" stroke-width="0.8"/>
<line x1="133.6" y1="278.3" x2="133.6" y2="280.3" stroke="#555" stroke-width="0.6"/>
<text x="130.29999999999998" y="290.0" font-size="8.9" fill="#333" color="#333" textLength="6.7" lengthAdjust="spacingAndGlyphs" >10</text>
<text x="137.4" y="286.0" font-size="5.72" fill="#333" color="#333" >2</text>
<line x1="155.29999999999998" y1="278.3" x2="155.29999999999998" y2="280.3" stroke="#555" stroke-width="0.6"/>
<text x="151.99999999999997" y="290.0" font-size="8.9" fill="#333" color="#333" textLength="6.7" lengthAdjust="spacingAndGlyphs" >10</text>
<text x="159.1" y="286.0" font-size="5.72" fill="#333" color="#333" >3</text>
<line x1="177.0" y1="278.3" x2="177.0" y2="280.3" stroke="#555" stroke-width="0.6"/>
<text x="173.7" y="290.0" font-size="8.9" fill="#333" color="#333" textLength="6.7" lengthAdjust="spacingAndGlyphs" >10</text>
<text x="180.8" y="286.0" font-size="5.72" fill="#333" color="#333" >4</text>
<line x1="198.7" y1="278.3" x2="198.7" y2="280.3" stroke="#555" stroke-width="0.6"/>
<text x="195.39999999999998" y="290.0" font-size="8.9" fill="#333" color="#333" textLength="6.7" lengthAdjust="spacingAndGlyphs" >10</text>
<text x="202.5" y="286.0" font-size="5.72" fill="#333" color="#333" >5</text>
<text x="133.9" y="302.7" font-size="8.48" fill="#333" color="#333" textLength="57.7" lengthAdjust="spacingAndGlyphs" >BCMApeptide-PE</text>
<rect x="214.0" y="189.8" width="86.69999999999999" height="88.5" fill="#fff" stroke="#8a8a8a" stroke-width="0.8"/>
<line x1="214.0" y1="214.5" x2="300.7" y2="214.5" stroke="#8a8a8a" stroke-width="0.8"/>
<path d="M214.0,214.5 L214.00,213.77 L214.40,213.85 L214.80,213.89 L215.20,213.61 L215.61,212.51 L216.01,213.33 L216.41,212.83 L216.81,212.79 L217.21,213.07 L217.61,212.54 L218.01,212.86 L218.42,212.96 L218.82,212.72 L219.22,211.85 L219.62,212.17 L220.02,212.38 L220.42,211.70 L220.82,212.03 L221.22,210.31 L221.63,211.69 L222.03,211.26 L222.43,211.81 L222.83,211.76 L223.23,211.13 L223.63,210.13 L224.03,210.63 L224.44,210.88 L224.84,209.13 L225.24,208.94 L225.64,208.21 L226.04,209.13 L226.44,210.02 L226.84,208.94 L227.25,208.37 L227.65,207.77 L228.05,208.71 L228.45,208.13 L228.85,208.59 L229.25,206.76 L229.65,208.02 L230.06,207.94 L230.46,207.42 L230.86,206.94 L231.26,206.39 L231.66,208.83 L232.06,209.04 L232.46,207.05 L232.87,205.97 L233.27,208.82 L233.67,207.92 L234.07,205.66 L234.47,205.99 L234.87,206.18 L235.27,204.05 L235.68,205.43 L236.08,204.55 L236.48,206.65 L236.88,205.81 L237.28,205.24 L237.68,206.38 L238.08,204.81 L238.48,207.74 L238.89,205.37 L239.29,207.27 L239.69,203.98 L240.09,204.68 L240.49,204.48 L240.89,203.95 L241.29,207.03 L241.70,206.28 L242.10,204.44 L242.50,202.87 L242.90,204.43 L243.30,205.27 L243.70,203.56 L244.10,204.62 L244.51,204.45 L244.91,201.76 L245.31,202.79 L245.71,204.83 L246.11,202.01 L246.51,202.83 L246.91,202.66 L247.32,203.24 L247.72,202.64 L248.12,200.64 L248.52,200.46 L248.92,199.68 L249.32,200.89 L249.72,201.00 L250.12,199.69 L250.53,201.25 L250.93,202.73 L251.33,201.05 L251.73,198.73 L252.13,199.82 L252.53,199.14 L252.93,198.08 L253.34,197.87 L253.74,197.35 L254.14,199.37 L254.54,197.60 L254.94,194.96 L255.34,198.00 L255.74,200.04 L256.15,197.83 L256.55,197.55 L256.95,198.19 L257.35,199.22 L257.75,197.91 L258.15,200.84 L258.55,201.57 L258.96,200.35 L259.36,200.31 L259.76,198.65 L260.16,198.67 L260.56,201.57 L260.96,199.54 L261.36,200.64 L261.77,198.75 L262.17,197.47 L262.57,199.96 L262.97,198.43 L263.37,201.84 L263.77,200.32 L264.17,197.29 L264.57,201.60 L264.98,204.26 L265.38,202.47 L265.78,203.48 L266.18,204.87 L266.58,201.97 L266.98,203.52 L267.38,202.82 L267.79,203.54 L268.19,202.38 L268.59,203.97 L268.99,204.77 L269.39,202.77 L269.79,204.23 L270.19,204.36 L270.60,205.63 L271.00,206.62 L271.40,206.87 L271.80,205.77 L272.20,205.17 L272.60,204.29 L273.00,207.29 L273.41,208.21 L273.81,206.71 L274.21,205.05 L274.61,206.79 L275.01,207.25 L275.41,207.56 L275.81,206.52 L276.22,208.29 L276.62,210.06 L277.02,209.01 L277.42,209.17 L277.82,209.22 L278.22,211.63 L278.62,210.01 L279.02,210.67 L279.43,212.34 L279.83,209.95 L280.23,210.97 L280.63,210.98 L281.03,210.02 L281.43,211.80 L281.83,212.19 L282.24,210.02 L282.64,211.07 L283.04,211.67 L283.44,211.88 L283.84,212.20 L284.24,213.15 L284.64,212.95 L285.05,213.10 L285.45,214.41 L285.85,213.15 L286.25,214.03 L286.65,213.90 L287.05,214.50 L287.45,213.69 L287.86,213.38 L288.26,213.77 L288.66,213.95 L289.06,214.05 L289.46,214.33 L289.86,214.07 L290.26,213.29 L290.67,214.01 L291.07,213.64 L291.47,213.76 L291.87,214.22 L292.27,213.81 L292.67,214.10 L293.07,214.50 L293.48,214.28 L293.88,214.29 L294.28,214.30 L294.68,214.30 L295.08,214.31 L295.48,214.32 L295.88,214.33 L296.28,214.35 L296.69,214.36 L297.09,214.38 L297.49,214.40 L297.89,214.42 L298.29,214.44 L298.69,214.45 L299.09,214.47 L299.50,214.48 L299.90,214.49 L300.30,214.50 L300.70,214.50 L300.7,214.5 Z" fill="#9a64b4"/>
<path d="M216.4,212.8V213.5M218.0,212.9V213.5M218.4,213.0V213.6M221.6,211.7V212.6M222.4,211.8V212.7M223.2,211.1V212.4M225.6,208.2V209.8M226.4,210.0V211.7M227.2,208.4V210.1M229.3,206.8V207.4M229.7,208.0V208.8M230.5,207.4V209.2M231.3,206.4V209.7M231.7,208.8V210.4M232.1,209.0V209.9M232.9,206.0V207.1M233.3,208.8V210.8M234.1,205.7V207.1M236.5,206.6V210.1M237.3,205.2V209.3M238.1,204.8V207.2M238.5,207.7V210.2M238.9,205.4V206.3M239.7,204.0V205.3M240.5,204.5V207.4M240.9,203.9V205.1M242.1,204.4V208.6M243.7,203.6V205.5M244.1,204.6V208.3M246.5,202.8V204.7M247.3,203.2V204.7M248.1,200.6V202.4M248.9,199.7V202.6M249.3,200.9V205.2M249.7,201.0V203.2M250.1,199.7V204.5M250.5,201.2V204.8M250.9,202.7V206.0M251.3,201.1V206.6M251.7,198.7V201.3M252.5,199.1V202.8M252.9,198.1V200.7M253.3,197.9V201.9M253.7,197.4V198.0M254.1,199.4V202.3M254.5,197.6V203.2M254.9,195.0V200.5M257.8,197.9V204.2M258.6,201.6V206.0M259.8,198.6V202.3M261.4,200.6V203.7M262.6,200.0V204.7M263.8,200.3V202.5M264.2,197.3V204.9M264.6,201.6V203.3M265.0,204.3V208.1M265.8,203.5V204.5M268.2,202.4V206.8M269.0,204.8V206.8M271.0,206.6V209.8M271.8,205.8V209.4M273.4,208.2V209.2M274.2,205.1V206.9M275.4,207.6V209.2M277.0,209.0V210.1M277.4,209.2V210.9M278.2,211.6V212.7M279.8,209.9V210.6M282.2,210.0V211.8M282.6,211.1V212.6M283.4,211.9V212.5M283.8,212.2V213.1M284.6,213.0V213.6" stroke="#3a1a4a" stroke-width="0.6" opacity="0.55" fill="none"/>
<path d="M214.00,213.77 L214.40,213.85 L214.80,213.89 L215.20,213.61 L215.61,212.51 L216.01,213.33 L216.41,212.83 L216.81,212.79 L217.21,213.07 L217.61,212.54 L218.01,212.86 L218.42,212.96 L218.82,212.72 L219.22,211.85 L219.62,212.17 L220.02,212.38 L220.42,211.70 L220.82,212.03 L221.22,210.31 L221.63,211.69 L222.03,211.26 L222.43,211.81 L222.83,211.76 L223.23,211.13 L223.63,210.13 L224.03,210.63 L224.44,210.88 L224.84,209.13 L225.24,208.94 L225.64,208.21 L226.04,209.13 L226.44,210.02 L226.84,208.94 L227.25,208.37 L227.65,207.77 L228.05,208.71 L228.45,208.13 L228.85,208.59 L229.25,206.76 L229.65,208.02 L230.06,207.94 L230.46,207.42 L230.86,206.94 L231.26,206.39 L231.66,208.83 L232.06,209.04 L232.46,207.05 L232.87,205.97 L233.27,208.82 L233.67,207.92 L234.07,205.66 L234.47,205.99 L234.87,206.18 L235.27,204.05 L235.68,205.43 L236.08,204.55 L236.48,206.65 L236.88,205.81 L237.28,205.24 L237.68,206.38 L238.08,204.81 L238.48,207.74 L238.89,205.37 L239.29,207.27 L239.69,203.98 L240.09,204.68 L240.49,204.48 L240.89,203.95 L241.29,207.03 L241.70,206.28 L242.10,204.44 L242.50,202.87 L242.90,204.43 L243.30,205.27 L243.70,203.56 L244.10,204.62 L244.51,204.45 L244.91,201.76 L245.31,202.79 L245.71,204.83 L246.11,202.01 L246.51,202.83 L246.91,202.66 L247.32,203.24 L247.72,202.64 L248.12,200.64 L248.52,200.46 L248.92,199.68 L249.32,200.89 L249.72,201.00 L250.12,199.69 L250.53,201.25 L250.93,202.73 L251.33,201.05 L251.73,198.73 L252.13,199.82 L252.53,199.14 L252.93,198.08 L253.34,197.87 L253.74,197.35 L254.14,199.37 L254.54,197.60 L254.94,194.96 L255.34,198.00 L255.74,200.04 L256.15,197.83 L256.55,197.55 L256.95,198.19 L257.35,199.22 L257.75,197.91 L258.15,200.84 L258.55,201.57 L258.96,200.35 L259.36,200.31 L259.76,198.65 L260.16,198.67 L260.56,201.57 L260.96,199.54 L261.36,200.64 L261.77,198.75 L262.17,197.47 L262.57,199.96 L262.97,198.43 L263.37,201.84 L263.77,200.32 L264.17,197.29 L264.57,201.60 L264.98,204.26 L265.38,202.47 L265.78,203.48 L266.18,204.87 L266.58,201.97 L266.98,203.52 L267.38,202.82 L267.79,203.54 L268.19,202.38 L268.59,203.97 L268.99,204.77 L269.39,202.77 L269.79,204.23 L270.19,204.36 L270.60,205.63 L271.00,206.62 L271.40,206.87 L271.80,205.77 L272.20,205.17 L272.60,204.29 L273.00,207.29 L273.41,208.21 L273.81,206.71 L274.21,205.05 L274.61,206.79 L275.01,207.25 L275.41,207.56 L275.81,206.52 L276.22,208.29 L276.62,210.06 L277.02,209.01 L277.42,209.17 L277.82,209.22 L278.22,211.63 L278.62,210.01 L279.02,210.67 L279.43,212.34 L279.83,209.95 L280.23,210.97 L280.63,210.98 L281.03,210.02 L281.43,211.80 L281.83,212.19 L282.24,210.02 L282.64,211.07 L283.04,211.67 L283.44,211.88 L283.84,212.20 L284.24,213.15 L284.64,212.95 L285.05,213.10 L285.45,214.20 M285.45,214.20 L285.85,213.15 L286.25,214.03 L286.65,213.90 L287.05,214.20 M287.05,214.20 L287.45,213.69 L287.86,213.38 L288.26,213.77 L288.66,213.95 L289.06,214.05 L289.46,214.20 M289.46,214.20 L289.86,214.07 L290.26,213.29 L290.67,214.01 L291.07,213.64 L291.47,213.76 L291.87,214.20 M291.87,214.20 L292.27,213.81 L292.67,214.10 L293.07,214.20" fill="none" stroke="#1c1c1c" stroke-width="0.95" stroke-linejoin="round"/>
<line x1="214.0" y1="227.3" x2="300.7" y2="227.3" stroke="#8a8a8a" stroke-width="0.8"/>
<path d="M214.0,227.3 L214.00,226.93 L214.40,226.39 L214.80,226.74 L215.20,226.55 L215.61,225.99 L216.01,226.81 L216.41,226.93 L216.81,226.43 L217.21,225.20 L217.61,225.95 L218.01,225.40 L218.42,226.14 L218.82,226.34 L219.22,226.33 L219.62,226.24 L220.02,225.59 L220.42,224.60 L220.82,225.29 L221.22,226.47 L221.63,225.58 L222.03,224.59 L222.43,225.44 L222.83,225.79 L223.23,225.53 L223.63,225.44 L224.03,225.93 L224.44,226.17 L224.84,223.77 L225.24,223.90 L225.64,222.60 L226.04,223.71 L226.44,223.49 L226.84,223.58 L227.25,222.20 L227.65,222.81 L228.05,220.96 L228.45,222.14 L228.85,223.87 L229.25,221.06 L229.65,221.37 L230.06,221.87 L230.46,221.72 L230.86,222.84 L231.26,221.22 L231.66,221.10 L232.06,220.16 L232.46,220.88 L232.87,220.36 L233.27,219.51 L233.67,220.19 L234.07,218.70 L234.47,219.44 L234.87,219.69 L235.27,218.98 L235.68,218.40 L236.08,217.06 L236.48,217.80 L236.88,218.97 L237.28,219.23 L237.68,219.77 L238.08,219.37 L238.48,220.31 L238.89,220.69 L239.29,219.35 L239.69,221.27 L240.09,220.13 L240.49,219.33 L240.89,221.06 L241.29,222.33 L241.70,221.21 L242.10,222.18 L242.50,220.25 L242.90,221.38 L243.30,221.19 L243.70,220.45 L244.10,221.36 L244.51,221.91 L244.91,220.76 L245.31,220.84 L245.71,219.49 L246.11,220.23 L246.51,220.46 L246.91,220.90 L247.32,221.10 L247.72,220.20 L248.12,219.85 L248.52,218.22 L248.92,218.94 L249.32,217.11 L249.72,219.66 L250.12,218.52 L250.53,218.45 L250.93,215.83 L251.33,218.08 L251.73,217.97 L252.13,217.16 L252.53,216.02 L252.93,216.96 L253.34,215.39 L253.74,213.56 L254.14,215.63 L254.54,218.00 L254.94,216.84 L255.34,216.53 L255.74,214.30 L256.15,215.02 L256.55,214.63 L256.95,215.27 L257.35,214.23 L257.75,215.99 L258.15,214.69 L258.55,211.47 L258.96,214.43 L259.36,214.72 L259.76,215.99 L260.16,215.18 L260.56,216.77 L260.96,214.59 L261.36,215.49 L261.77,216.30 L262.17,212.95 L262.57,216.08 L262.97,216.22 L263.37,215.20 L263.77,215.16 L264.17,213.74 L264.57,215.33 L264.98,215.93 L265.38,217.33 L265.78,216.15 L266.18,216.77 L266.58,217.62 L266.98,216.51 L267.38,217.06 L267.79,218.21 L268.19,218.00 L268.59,218.70 L268.99,217.13 L269.39,217.86 L269.79,219.23 L270.19,219.49 L270.60,219.42 L271.00,221.12 L271.40,218.97 L271.80,216.98 L272.20,221.87 L272.60,221.25 L273.00,220.41 L273.41,222.17 L273.81,221.62 L274.21,222.26 L274.61,221.49 L275.01,220.45 L275.41,220.34 L275.81,221.16 L276.22,222.00 L276.62,222.41 L277.02,221.28 L277.42,223.12 L277.82,223.63 L278.22,223.32 L278.62,222.76 L279.02,223.63 L279.43,224.19 L279.83,224.57 L280.23,224.07 L280.63,224.75 L281.03,224.81 L281.43,225.47 L281.83,224.26 L282.24,224.33 L282.64,224.90 L283.04,225.64 L283.44,225.43 L283.84,225.36 L284.24,225.00 L284.64,225.71 L285.05,225.43 L285.45,227.06 L285.85,226.22 L286.25,225.88 L286.65,226.39 L287.05,226.17 L287.45,226.72 L287.86,226.14 L288.26,226.05 L288.66,226.67 L289.06,226.14 L289.46,226.53 L289.86,227.30 L290.26,226.98 L290.67,226.59 L291.07,227.11 L291.47,227.19 L291.87,227.25 L292.27,227.29 L292.67,227.30 L293.07,227.30 L293.48,227.30 L293.88,227.30 L294.28,227.30 L294.68,227.30 L295.08,227.30 L295.48,227.30 L295.88,227.30 L296.28,227.30 L296.69,227.30 L297.09,227.30 L297.49,227.30 L297.89,227.30 L298.29,227.30 L298.69,227.30 L299.09,227.30 L299.50,227.30 L299.90,227.30 L300.30,227.30 L300.70,227.30 L300.7,227.3 Z" fill="#48c0bf"/>
<path d="M217.2,225.2V225.8M218.0,225.4V226.0M220.4,224.6V225.2M221.6,225.6V226.2M222.8,225.8V226.5M223.2,225.5V226.3M223.6,225.4V226.2M225.2,223.9V225.0M226.8,223.6V224.3M227.6,222.8V223.9M228.4,222.1V223.1M230.1,221.9V223.9M230.5,221.7V224.2M231.3,221.2V222.6M231.7,221.1V222.7M232.9,220.4V222.6M233.7,220.2V221.5M234.1,218.7V221.3M234.5,219.4V220.7M234.9,219.7V222.2M236.1,217.1V219.1M236.5,217.8V222.1M236.9,219.0V222.2M237.3,219.2V220.7M237.7,219.8V221.5M238.9,220.7V221.6M239.3,219.3V222.2M239.7,221.3V224.0M240.5,219.3V219.9M241.3,222.3V224.0M242.1,222.2V223.8M242.5,220.2V222.8M243.3,221.2V222.4M244.1,221.4V222.3M245.7,219.5V220.5M246.1,220.2V221.1M246.5,220.5V223.4M247.3,221.1V222.6M248.1,219.9V220.6M248.5,218.2V219.9M248.9,218.9V222.6M249.7,219.7V221.5M250.9,215.8V220.6M251.7,218.0V220.7M252.5,216.0V221.1M253.7,213.6V216.4M254.5,218.0V222.1M254.9,216.8V219.8M255.7,214.3V218.6M256.9,215.3V217.5M257.8,216.0V218.7M259.0,214.4V216.1M259.4,214.7V217.9M259.8,216.0V220.8M260.2,215.2V218.0M261.0,214.6V215.6M261.4,215.5V219.4M261.8,216.3V221.0M262.2,212.9V215.3M262.6,216.1V218.2M263.0,216.2V217.3M264.2,213.7V219.8M265.0,215.9V218.2M265.4,217.3V218.3M265.8,216.2V219.1M266.6,217.6V218.3M267.4,217.1V220.6M268.2,218.0V219.2M269.0,217.1V219.7M269.4,217.9V220.6M269.8,219.2V220.5M270.2,219.5V222.8M271.0,221.1V222.4M271.4,219.0V220.7M271.8,217.0V221.5M272.2,221.9V223.1M273.4,222.2V224.0M273.8,221.6V222.5M274.6,221.5V223.5M275.4,220.3V222.9M276.2,222.0V224.2M276.6,222.4V223.8M278.2,223.3V224.7M278.6,222.8V224.4M280.2,224.1V225.2M281.4,225.5V226.2M281.8,224.3V225.6M282.6,224.9V225.8M283.0,225.6V226.3" stroke="#0e4a48" stroke-width="0.6" opacity="0.55" fill="none"/>
<path d="M214.00,226.93 L214.40,226.39 L214.80,226.74 L215.20,226.55 L215.61,225.99 L216.01,226.81 L216.41,226.93 L216.81,226.43 L217.21,225.20 L217.61,225.95 L218.01,225.40 L218.42,226.14 L218.82,226.34 L219.22,226.33 L219.62,226.24 L220.02,225.59 L220.42,224.60 L220.82,225.29 L221.22,226.47 L221.63,225.58 L222.03,224.59 L222.43,225.44 L222.83,225.79 L223.23,225.53 L223.63,225.44 L224.03,225.93 L224.44,226.17 L224.84,223.77 L225.24,223.90 L225.64,222.60 L226.04,223.71 L226.44,223.49 L226.84,223.58 L227.25,222.20 L227.65,222.81 L228.05,220.96 L228.45,222.14 L228.85,223.87 L229.25,221.06 L229.65,221.37 L230.06,221.87 L230.46,221.72 L230.86,222.84 L231.26,221.22 L231.66,221.10 L232.06,220.16 L232.46,220.88 L232.87,220.36 L233.27,219.51 L233.67,220.19 L234.07,218.70 L234.47,219.44 L234.87,219.69 L235.27,218.98 L235.68,218.40 L236.08,217.06 L236.48,217.80 L236.88,218.97 L237.28,219.23 L237.68,219.77 L238.08,219.37 L238.48,220.31 L238.89,220.69 L239.29,219.35 L239.69,221.27 L240.09,220.13 L240.49,219.33 L240.89,221.06 L241.29,222.33 L241.70,221.21 L242.10,222.18 L242.50,220.25 L242.90,221.38 L243.30,221.19 L243.70,220.45 L244.10,221.36 L244.51,221.91 L244.91,220.76 L245.31,220.84 L245.71,219.49 L246.11,220.23 L246.51,220.46 L246.91,220.90 L247.32,221.10 L247.72,220.20 L248.12,219.85 L248.52,218.22 L248.92,218.94 L249.32,217.11 L249.72,219.66 L250.12,218.52 L250.53,218.45 L250.93,215.83 L251.33,218.08 L251.73,217.97 L252.13,217.16 L252.53,216.02 L252.93,216.96 L253.34,215.39 L253.74,213.56 L254.14,215.63 L254.54,218.00 L254.94,216.84 L255.34,216.53 L255.74,214.30 L256.15,215.02 L256.55,214.63 L256.95,215.27 L257.35,214.23 L257.75,215.99 L258.15,214.69 L258.55,211.47 L258.96,214.43 L259.36,214.72 L259.76,215.99 L260.16,215.18 L260.56,216.77 L260.96,214.59 L261.36,215.49 L261.77,216.30 L262.17,212.95 L262.57,216.08 L262.97,216.22 L263.37,215.20 L263.77,215.16 L264.17,213.74 L264.57,215.33 L264.98,215.93 L265.38,217.33 L265.78,216.15 L266.18,216.77 L266.58,217.62 L266.98,216.51 L267.38,217.06 L267.79,218.21 L268.19,218.00 L268.59,218.70 L268.99,217.13 L269.39,217.86 L269.79,219.23 L270.19,219.49 L270.60,219.42 L271.00,221.12 L271.40,218.97 L271.80,216.98 L272.20,221.87 L272.60,221.25 L273.00,220.41 L273.41,222.17 L273.81,221.62 L274.21,222.26 L274.61,221.49 L275.01,220.45 L275.41,220.34 L275.81,221.16 L276.22,222.00 L276.62,222.41 L277.02,221.28 L277.42,223.12 L277.82,223.63 L278.22,223.32 L278.62,222.76 L279.02,223.63 L279.43,224.19 L279.83,224.57 L280.23,224.07 L280.63,224.75 L281.03,224.81 L281.43,225.47 L281.83,224.26 L282.24,224.33 L282.64,224.90 L283.04,225.64 L283.44,225.43 L283.84,225.36 L284.24,225.00 L284.64,225.71 L285.05,225.43 L285.45,227.00 M285.45,227.00 L285.85,226.22 L286.25,225.88 L286.65,226.39 L287.05,226.17 L287.45,226.72 L287.86,226.14 L288.26,226.05 L288.66,226.67 L289.06,226.14 L289.46,226.53 L289.86,227.00 M290.26,227.00 L290.67,226.59 L291.07,227.00" fill="none" stroke="#1c1c1c" stroke-width="0.95" stroke-linejoin="round"/>
<line x1="214.0" y1="239.9" x2="300.7" y2="239.9" stroke="#8a8a8a" stroke-width="0.8"/>
<path d="M214.0,239.9 L214.00,239.70 L214.40,239.61 L214.80,239.46 L215.20,239.69 L215.61,239.70 L216.01,238.33 L216.41,239.41 L216.81,239.73 L217.21,239.08 L217.61,239.24 L218.01,238.70 L218.42,238.45 L218.82,238.28 L219.22,238.26 L219.62,237.80 L220.02,237.07 L220.42,237.92 L220.82,237.87 L221.22,236.91 L221.63,238.33 L222.03,238.03 L222.43,238.28 L222.83,237.79 L223.23,238.42 L223.63,238.16 L224.03,238.16 L224.44,237.07 L224.84,237.94 L225.24,236.03 L225.64,235.56 L226.04,236.90 L226.44,236.65 L226.84,234.41 L227.25,233.46 L227.65,236.49 L228.05,237.16 L228.45,236.38 L228.85,235.13 L229.25,236.40 L229.65,235.89 L230.06,235.59 L230.46,235.49 L230.86,234.41 L231.26,236.04 L231.66,232.76 L232.06,235.42 L232.46,233.73 L232.87,233.68 L233.27,235.09 L233.67,234.48 L234.07,233.30 L234.47,234.53 L234.87,230.49 L235.27,234.60 L235.68,234.02 L236.08,234.88 L236.48,232.25 L236.88,234.11 L237.28,233.28 L237.68,232.97 L238.08,232.42 L238.48,233.52 L238.89,230.89 L239.29,233.58 L239.69,233.25 L240.09,233.11 L240.49,234.89 L240.89,233.04 L241.29,234.51 L241.70,234.17 L242.10,233.11 L242.50,234.19 L242.90,235.93 L243.30,233.80 L243.70,234.22 L244.10,234.98 L244.51,234.88 L244.91,234.86 L245.31,233.74 L245.71,233.12 L246.11,233.13 L246.51,232.89 L246.91,232.56 L247.32,234.98 L247.72,232.04 L248.12,233.22 L248.52,232.95 L248.92,231.66 L249.32,232.05 L249.72,231.69 L250.12,231.47 L250.53,233.20 L250.93,230.80 L251.33,230.14 L251.73,231.21 L252.13,231.62 L252.53,229.57 L252.93,231.43 L253.34,232.14 L253.74,231.58 L254.14,230.74 L254.54,231.01 L254.94,230.40 L255.34,230.85 L255.74,232.23 L256.15,230.92 L256.55,231.19 L256.95,228.74 L257.35,230.43 L257.75,230.49 L258.15,228.50 L258.55,228.86 L258.96,229.78 L259.36,228.78 L259.76,229.78 L260.16,230.45 L260.56,229.46 L260.96,227.75 L261.36,226.27 L261.77,230.48 L262.17,229.68 L262.57,230.48 L262.97,229.20 L263.37,228.28 L263.77,229.83 L264.17,229.02 L264.57,227.40 L264.98,226.11 L265.38,229.02 L265.78,226.94 L266.18,228.00 L266.58,229.04 L266.98,228.69 L267.38,226.69 L267.79,230.18 L268.19,226.68 L268.59,227.38 L268.99,228.53 L269.39,227.84 L269.79,227.53 L270.19,230.14 L270.60,230.58 L271.00,231.35 L271.40,230.76 L271.80,229.09 L272.20,230.86 L272.60,231.74 L273.00,230.77 L273.41,230.86 L273.81,230.29 L274.21,230.89 L274.61,230.79 L275.01,231.64 L275.41,229.38 L275.81,228.08 L276.22,230.83 L276.62,232.37 L277.02,230.42 L277.42,233.36 L277.82,233.13 L278.22,231.63 L278.62,232.88 L279.02,233.23 L279.43,234.48 L279.83,231.60 L280.23,235.19 L280.63,235.85 L281.03,234.73 L281.43,234.88 L281.83,236.08 L282.24,234.92 L282.64,234.86 L283.04,235.30 L283.44,235.38 L283.84,235.93 L284.24,235.43 L284.64,235.47 L285.05,236.01 L285.45,234.62 L285.85,236.84 L286.25,237.28 L286.65,237.64 L287.05,238.07 L287.45,237.20 L287.86,236.57 L288.26,237.33 L288.66,237.71 L289.06,239.39 L289.46,237.75 L289.86,239.00 L290.26,238.49 L290.67,238.69 L291.07,238.53 L291.47,239.05 L291.87,238.33 L292.27,238.68 L292.67,239.42 L293.07,239.90 L293.48,238.62 L293.88,239.43 L294.28,239.37 L294.68,238.14 L295.08,239.82 L295.48,239.90 L295.88,239.67 L296.28,239.75 L296.69,239.82 L297.09,239.86 L297.49,239.89 L297.89,239.90 L298.29,239.90 L298.69,239.90 L299.09,239.90 L299.50,239.90 L299.90,239.90 L300.30,239.90 L300.70,239.90 L300.7,239.9 Z" fill="#4d4db0"/>
<path d="M216.0,238.3V239.0M218.8,238.3V238.9M219.2,238.3V238.9M219.6,237.8V238.6M220.0,237.1V238.1M220.4,237.9V238.7M220.8,237.9V238.7M222.0,238.0V238.7M222.8,237.8V238.5M223.6,238.2V238.8M224.0,238.2V238.8M224.4,237.1V238.1M224.8,237.9V238.6M225.6,235.6V236.9M226.0,236.9V238.0M226.8,234.4V235.6M227.6,236.5V237.8M229.3,236.4V237.5M229.7,235.9V236.8M230.1,235.6V237.3M231.7,232.8V235.0M232.1,235.4V236.0M233.3,235.1V237.1M233.7,234.5V235.5M234.1,233.3V234.9M234.5,234.5V235.3M234.9,230.5V234.6M235.7,234.0V235.1M236.1,234.9V236.0M236.9,234.1V236.0M237.7,233.0V234.1M239.7,233.3V235.0M240.9,233.0V234.6M241.3,234.5V236.3M242.5,234.2V235.6M242.9,235.9V237.3M243.7,234.2V236.2M244.1,235.0V235.8M244.9,234.9V236.5M246.1,233.1V234.8M246.5,232.9V233.9M248.1,233.2V234.4M248.5,233.0V233.9M249.7,231.7V235.3M250.1,231.5V233.2M250.5,233.2V234.5M250.9,230.8V233.2M251.3,230.1V232.5M252.1,231.6V234.1M254.1,230.7V232.0M254.5,231.0V234.4M254.9,230.4V232.1M255.7,232.2V234.8M256.1,230.9V232.3M257.4,230.4V231.5M258.2,228.5V233.4M258.6,228.9V230.8M259.0,229.8V232.3M259.8,229.8V233.2M261.8,230.5V232.3M262.6,230.5V232.7M263.0,229.2V230.4M263.4,228.3V231.8M264.6,227.4V229.0M265.0,226.1V227.3M265.8,226.9V229.5M266.2,228.0V231.9M266.6,229.0V233.7M267.0,228.7V233.4M267.4,226.7V229.7M268.2,226.7V232.2M270.6,230.6V232.3M271.0,231.3V233.6M271.4,230.8V234.5M271.8,229.1V231.3M272.2,230.9V232.6M273.0,230.8V234.2M273.4,230.9V234.4M274.2,230.9V234.7M275.0,231.6V234.0M275.8,228.1V232.8M276.2,230.8V234.3M276.6,232.4V235.6M277.4,233.4V234.0M278.6,232.9V235.8M279.0,233.2V235.1M279.4,234.5V236.4M280.2,235.2V237.2M280.6,235.9V236.6M281.4,234.9V236.8M281.8,236.1V237.3M283.0,235.3V236.1M283.4,235.4V236.2M284.2,235.4V236.5M284.6,235.5V236.5M285.0,236.0V236.9M285.4,234.6V235.7M286.2,237.3V238.2M287.1,238.1V238.9M287.9,236.6V237.2M288.3,237.3V238.4M288.7,237.7V238.5M294.7,238.1V238.8" stroke="#141440" stroke-width="0.6" opacity="0.55" fill="none"/>
<path d="M214.40,239.60 L214.80,239.46 L215.20,239.60 M215.61,239.60 L216.01,238.33 L216.41,239.41 L216.81,239.60 M216.81,239.60 L217.21,239.08 L217.61,239.24 L218.01,238.70 L218.42,238.45 L218.82,238.28 L219.22,238.26 L219.62,237.80 L220.02,237.07 L220.42,237.92 L220.82,237.87 L221.22,236.91 L221.63,238.33 L222.03,238.03 L222.43,238.28 L222.83,237.79 L223.23,238.42 L223.63,238.16 L224.03,238.16 L224.44,237.07 L224.84,237.94 L225.24,236.03 L225.64,235.56 L226.04,236.90 L226.44,236.65 L226.84,234.41 L227.25,233.46 L227.65,236.49 L228.05,237.16 L228.45,236.38 L228.85,235.13 L229.25,236.40 L229.65,235.89 L230.06,235.59 L230.46,235.49 L230.86,234.41 L231.26,236.04 L231.66,232.76 L232.06,235.42 L232.46,233.73 L232.87,233.68 L233.27,235.09 L233.67,234.48 L234.07,233.30 L234.47,234.53 L234.87,230.49 L235.27,234.60 L235.68,234.02 L236.08,234.88 L236.48,232.25 L236.88,234.11 L237.28,233.28 L237.68,232.97 L238.08,232.42 L238.48,233.52 L238.89,230.89 L239.29,233.58 L239.69,233.25 L240.09,233.11 L240.49,234.89 L240.89,233.04 L241.29,234.51 L241.70,234.17 L242.10,233.11 L242.50,234.19 L242.90,235.93 L243.30,233.80 L243.70,234.22 L244.10,234.98 L244.51,234.88 L244.91,234.86 L245.31,233.74 L245.71,233.12 L246.11,233.13 L246.51,232.89 L246.91,232.56 L247.32,234.98 L247.72,232.04 L248.12,233.22 L248.52,232.95 L248.92,231.66 L249.32,232.05 L249.72,231.69 L250.12,231.47 L250.53,233.20 L250.93,230.80 L251.33,230.14 L251.73,231.21 L252.13,231.62 L252.53,229.57 L252.93,231.43 L253.34,232.14 L253.74,231.58 L254.14,230.74 L254.54,231.01 L254.94,230.40 L255.34,230.85 L255.74,232.23 L256.15,230.92 L256.55,231.19 L256.95,228.74 L257.35,230.43 L257.75,230.49 L258.15,228.50 L258.55,228.86 L258.96,229.78 L259.36,228.78 L259.76,229.78 L260.16,230.45 L260.56,229.46 L260.96,227.75 L261.36,226.27 L261.77,230.48 L262.17,229.68 L262.57,230.48 L262.97,229.20 L263.37,228.28 L263.77,229.83 L264.17,229.02 L264.57,227.40 L264.98,226.11 L265.38,229.02 L265.78,226.94 L266.18,228.00 L266.58,229.04 L266.98,228.69 L267.38,226.69 L267.79,230.18 L268.19,226.68 L268.59,227.38 L268.99,228.53 L269.39,227.84 L269.79,227.53 L270.19,230.14 L270.60,230.58 L271.00,231.35 L271.40,230.76 L271.80,229.09 L272.20,230.86 L272.60,231.74 L273.00,230.77 L273.41,230.86 L273.81,230.29 L274.21,230.89 L274.61,230.79 L275.01,231.64 L275.41,229.38 L275.81,228.08 L276.22,230.83 L276.62,232.37 L277.02,230.42 L277.42,233.36 L277.82,233.13 L278.22,231.63 L278.62,232.88 L279.02,233.23 L279.43,234.48 L279.83,231.60 L280.23,235.19 L280.63,235.85 L281.03,234.73 L281.43,234.88 L281.83,236.08 L282.24,234.92 L282.64,234.86 L283.04,235.30 L283.44,235.38 L283.84,235.93 L284.24,235.43 L284.64,235.47 L285.05,236.01 L285.45,234.62 L285.85,236.84 L286.25,237.28 L286.65,237.64 L287.05,238.07 L287.45,237.20 L287.86,236.57 L288.26,237.33 L288.66,237.71 L289.06,239.39 L289.46,237.75 L289.86,239.00 L290.26,238.49 L290.67,238.69 L291.07,238.53 L291.47,239.05 L291.87,238.33 L292.27,238.68 L292.67,239.42 L293.07,239.60 M293.07,239.60 L293.48,238.62 L293.88,239.43 L294.28,239.37 L294.68,238.14 L295.08,239.60" fill="none" stroke="#1c1c1c" stroke-width="0.95" stroke-linejoin="round"/>
<line x1="214.0" y1="252.6" x2="300.7" y2="252.6" stroke="#8a8a8a" stroke-width="0.8"/>
<path d="M214.0,252.6 L214.00,252.60 L214.40,251.96 L214.80,252.46 L215.20,251.74 L215.61,251.31 L216.01,250.55 L216.41,252.48 L216.81,251.17 L217.21,251.33 L217.61,251.82 L218.01,251.08 L218.42,251.40 L218.82,250.93 L219.22,252.21 L219.62,251.32 L220.02,251.13 L220.42,250.35 L220.82,250.13 L221.22,250.80 L221.63,249.50 L222.03,249.26 L222.43,251.50 L222.83,249.69 L223.23,249.13 L223.63,249.46 L224.03,250.26 L224.44,248.67 L224.84,249.69 L225.24,249.32 L225.64,248.64 L226.04,249.29 L226.44,247.17 L226.84,248.42 L227.25,247.94 L227.65,245.82 L228.05,246.40 L228.45,246.81 L228.85,245.70 L229.25,245.73 L229.65,244.73 L230.06,246.34 L230.46,245.24 L230.86,245.34 L231.26,246.65 L231.66,244.96 L232.06,244.77 L232.46,246.06 L232.87,246.30 L233.27,247.54 L233.67,246.19 L234.07,246.64 L234.47,247.46 L234.87,247.06 L235.27,245.46 L235.68,246.85 L236.08,244.46 L236.48,246.36 L236.88,245.99 L237.28,245.10 L237.68,246.29 L238.08,245.09 L238.48,244.39 L238.89,245.97 L239.29,246.59 L239.69,243.91 L240.09,245.99 L240.49,246.00 L240.89,245.41 L241.29,247.25 L241.70,247.38 L242.10,246.58 L242.50,247.10 L242.90,246.89 L243.30,246.79 L243.70,248.37 L244.10,247.02 L244.51,246.25 L244.91,247.47 L245.31,248.32 L245.71,248.18 L246.11,246.74 L246.51,248.72 L246.91,246.95 L247.32,248.92 L247.72,247.91 L248.12,247.82 L248.52,247.12 L248.92,247.74 L249.32,247.16 L249.72,247.27 L250.12,247.01 L250.53,245.97 L250.93,246.38 L251.33,246.24 L251.73,244.12 L252.13,245.42 L252.53,246.47 L252.93,245.36 L253.34,246.33 L253.74,246.09 L254.14,245.18 L254.54,244.81 L254.94,244.16 L255.34,245.73 L255.74,242.89 L256.15,244.75 L256.55,244.88 L256.95,245.63 L257.35,243.11 L257.75,245.14 L258.15,243.39 L258.55,241.53 L258.96,241.28 L259.36,244.41 L259.76,242.54 L260.16,241.43 L260.56,241.86 L260.96,241.46 L261.36,239.25 L261.77,239.50 L262.17,241.32 L262.57,241.87 L262.97,239.18 L263.37,241.46 L263.77,242.69 L264.17,240.45 L264.57,243.00 L264.98,242.52 L265.38,239.67 L265.78,242.55 L266.18,241.49 L266.58,241.40 L266.98,240.23 L267.38,240.12 L267.79,240.60 L268.19,241.76 L268.59,242.44 L268.99,241.10 L269.39,240.80 L269.79,240.77 L270.19,239.99 L270.60,242.48 L271.00,242.90 L271.40,243.11 L271.80,240.92 L272.20,243.78 L272.60,241.96 L273.00,242.70 L273.41,242.27 L273.81,242.89 L274.21,242.34 L274.61,242.96 L275.01,242.32 L275.41,243.07 L275.81,244.53 L276.22,243.04 L276.62,245.00 L277.02,245.85 L277.42,245.77 L277.82,243.74 L278.22,246.23 L278.62,246.20 L279.02,245.61 L279.43,245.73 L279.83,244.14 L280.23,246.52 L280.63,245.88 L281.03,246.39 L281.43,245.77 L281.83,245.81 L282.24,247.22 L282.64,245.68 L283.04,247.07 L283.44,248.45 L283.84,247.22 L284.24,246.90 L284.64,249.14 L285.05,249.06 L285.45,250.29 L285.85,248.96 L286.25,247.94 L286.65,250.52 L287.05,249.65 L287.45,251.22 L287.86,249.42 L288.26,249.94 L288.66,249.89 L289.06,250.14 L289.46,251.33 L289.86,249.44 L290.26,250.71 L290.67,250.88 L291.07,250.69 L291.47,251.64 L291.87,249.74 L292.27,251.38 L292.67,251.54 L293.07,251.06 L293.48,251.65 L293.88,251.92 L294.28,251.72 L294.68,252.60 L295.08,251.57 L295.48,251.98 L295.88,251.98 L296.28,252.46 L296.69,252.41 L297.09,252.17 L297.49,252.28 L297.89,252.60 L298.29,252.60 L298.69,252.55 L299.09,252.46 L299.50,252.35 L299.90,252.38 L300.30,252.39 L300.70,252.40 L300.7,252.6 Z" fill="#a26465"/>
<path d="M216.0,250.5V251.2M218.0,251.1V251.7M220.8,250.1V250.9M221.6,249.5V250.7M222.8,249.7V250.3M223.2,249.1V250.0M224.0,250.3V250.9M224.8,249.7V250.7M225.2,249.3V250.2M225.6,248.6V249.6M228.0,246.4V248.0M228.4,246.8V248.9M229.3,245.7V247.4M230.5,245.2V246.9M230.9,245.3V247.5M231.7,245.0V247.1M232.1,244.8V246.5M232.5,246.1V247.7M232.9,246.3V248.4M233.3,247.5V249.6M233.7,246.2V247.3M234.1,246.6V248.8M236.1,244.5V246.7M236.5,246.4V248.9M236.9,246.0V247.7M237.3,245.1V247.1M237.7,246.3V249.1M238.1,245.1V246.7M238.5,244.4V245.6M239.3,246.6V248.5M240.5,246.0V248.1M240.9,245.4V247.8M241.7,247.4V249.2M242.5,247.1V247.8M244.5,246.3V248.7M245.3,248.3V249.2M245.7,248.2V250.0M247.3,248.9V250.3M247.7,247.9V249.6M249.3,247.2V248.7M250.1,247.0V248.8M250.5,246.0V248.4M251.3,246.2V247.2M251.7,244.1V246.1M253.3,246.3V247.9M254.1,245.2V247.0M254.5,244.8V247.3M254.9,244.2V244.9M255.3,245.7V247.6M255.7,242.9V246.7M256.1,244.7V247.3M256.9,245.6V247.5M257.4,243.1V245.1M257.8,245.1V247.8M258.2,243.4V247.5M258.6,241.5V243.4M259.4,244.4V245.5M259.8,242.5V245.7M261.0,241.5V244.5M261.8,239.5V240.7M262.2,241.3V243.9M263.8,242.7V244.7M264.2,240.4V243.2M265.0,242.5V245.2M265.4,239.7V243.5M266.6,241.4V246.0M267.0,240.2V242.3M267.4,240.1V244.2M267.8,240.6V244.1M268.2,241.8V242.8M269.8,240.8V244.2M270.2,240.0V245.0M270.6,242.5V245.0M271.4,243.1V245.3M271.8,240.9V246.0M272.6,242.0V243.3M273.0,242.7V244.7M273.4,242.3V244.3M273.8,242.9V245.9M274.2,242.3V246.9M275.0,242.3V244.8M275.8,244.5V247.8M276.6,245.0V246.5M277.4,245.8V248.2M278.2,246.2V247.9M278.6,246.2V248.7M279.0,245.6V247.9M279.4,245.7V247.8M279.8,244.1V247.7M281.4,245.8V247.8M281.8,245.8V248.2M283.0,247.1V248.7M284.2,246.9V248.3M285.4,250.3V251.2M285.8,249.0V249.7M286.2,247.9V249.3M287.1,249.6V250.5M288.7,249.9V251.0M289.1,250.1V250.8M291.1,250.7V251.3M291.9,249.7V250.8M293.1,251.1V251.7" stroke="#3a1a1a" stroke-width="0.6" opacity="0.55" fill="none"/>
<path d="M214.00,252.30 L214.40,251.96 L214.80,252.30 M214.80,252.30 L215.20,251.74 L215.61,251.31 L216.01,250.55 L216.41,252.30 M216.41,252.30 L216.81,251.17 L217.21,251.33 L217.61,251.82 L218.01,251.08 L218.42,251.40 L218.82,250.93 L219.22,252.21 L219.62,251.32 L220.02,251.13 L220.42,250.35 L220.82,250.13 L221.22,250.80 L221.63,249.50 L222.03,249.26 L222.43,251.50 L222.83,249.69 L223.23,249.13 L223.63,249.46 L224.03,250.26 L224.44,248.67 L224.84,249.69 L225.24,249.32 L225.64,248.64 L226.04,249.29 L226.44,247.17 L226.84,248.42 L227.25,247.94 L227.65,245.82 L228.05,246.40 L228.45,246.81 L228.85,245.70 L229.25,245.73 L229.65,244.73 L230.06,246.34 L230.46,245.24 L230.86,245.34 L231.26,246.65 L231.66,244.96 L232.06,244.77 L232.46,246.06 L232.87,246.30 L233.27,247.54 L233.67,246.19 L234.07,246.64 L234.47,247.46 L234.87,247.06 L235.27,245.46 L235.68,246.85 L236.08,244.46 L236.48,246.36 L236.88,245.99 L237.28,245.10 L237.68,246.29 L238.08,245.09 L238.48,244.39 L238.89,245.97 L239.29,246.59 L239.69,243.91 L240.09,245.99 L240.49,246.00 L240.89,245.41 L241.29,247.25 L241.70,247.38 L242.10,246.58 L242.50,247.10 L242.90,246.89 L243.30,246.79 L243.70,248.37 L244.10,247.02 L244.51,246.25 L244.91,247.47 L245.31,248.32 L245.71,248.18 L246.11,246.74 L246.51,248.72 L246.91,246.95 L247.32,248.92 L247.72,247.91 L248.12,247.82 L248.52,247.12 L248.92,247.74 L249.32,247.16 L249.72,247.27 L250.12,247.01 L250.53,245.97 L250.93,246.38 L251.33,246.24 L251.73,244.12 L252.13,245.42 L252.53,246.47 L252.93,245.36 L253.34,246.33 L253.74,246.09 L254.14,245.18 L254.54,244.81 L254.94,244.16 L255.34,245.73 L255.74,242.89 L256.15,244.75 L256.55,244.88 L256.95,245.63 L257.35,243.11 L257.75,245.14 L258.15,243.39 L258.55,241.53 L258.96,241.28 L259.36,244.41 L259.76,242.54 L260.16,241.43 L260.56,241.86 L260.96,241.46 L261.36,239.25 L261.77,239.50 L262.17,241.32 L262.57,241.87 L262.97,239.18 L263.37,241.46 L263.77,242.69 L264.17,240.45 L264.57,243.00 L264.98,242.52 L265.38,239.67 L265.78,242.55 L266.18,241.49 L266.58,241.40 L266.98,240.23 L267.38,240.12 L267.79,240.60 L268.19,241.76 L268.59,242.44 L268.99,241.10 L269.39,240.80 L269.79,240.77 L270.19,239.99 L270.60,242.48 L271.00,242.90 L271.40,243.11 L271.80,240.92 L272.20,243.78 L272.60,241.96 L273.00,242.70 L273.41,242.27 L273.81,242.89 L274.21,242.34 L274.61,242.96 L275.01,242.32 L275.41,243.07 L275.81,244.53 L276.22,243.04 L276.62,245.00 L277.02,245.85 L277.42,245.77 L277.82,243.74 L278.22,246.23 L278.62,246.20 L279.02,245.61 L279.43,245.73 L279.83,244.14 L280.23,246.52 L280.63,245.88 L281.03,246.39 L281.43,245.77 L281.83,245.81 L282.24,247.22 L282.64,245.68 L283.04,247.07 L283.44,248.45 L283.84,247.22 L284.24,246.90 L284.64,249.14 L285.05,249.06 L285.45,250.29 L285.85,248.96 L286.25,247.94 L286.65,250.52 L287.05,249.65 L287.45,251.22 L287.86,249.42 L288.26,249.94 L288.66,249.89 L289.06,250.14 L289.46,251.33 L289.86,249.44 L290.26,250.71 L290.67,250.88 L291.07,250.69 L291.47,251.64 L291.87,249.74 L292.27,251.38 L292.67,251.54 L293.07,251.06 L293.48,251.65 L293.88,251.92 L294.28,251.72 L294.68,252.30 M294.68,252.30 L295.08,251.57 L295.48,251.98 L295.88,251.98 L296.28,252.30 M296.69,252.30 L297.09,252.17 L297.49,252.30" fill="none" stroke="#1c1c1c" stroke-width="0.95" stroke-linejoin="round"/>
<line x1="214.0" y1="265.2" x2="300.7" y2="265.2" stroke="#8a8a8a" stroke-width="0.8"/>
<path d="M214.0,265.2 L214.00,264.81 L214.40,264.72 L214.80,264.71 L215.20,265.20 L215.61,263.95 L216.01,264.32 L216.41,264.88 L216.81,264.78 L217.21,264.83 L217.61,264.07 L218.01,264.07 L218.42,263.82 L218.82,264.24 L219.22,263.19 L219.62,264.28 L220.02,264.12 L220.42,263.07 L220.82,263.78 L221.22,263.53 L221.63,263.98 L222.03,263.10 L222.43,263.21 L222.83,261.86 L223.23,263.82 L223.63,261.74 L224.03,262.62 L224.44,262.47 L224.84,261.46 L225.24,262.41 L225.64,262.46 L226.04,261.79 L226.44,260.98 L226.84,261.64 L227.25,261.38 L227.65,260.41 L228.05,260.07 L228.45,259.91 L228.85,261.09 L229.25,259.36 L229.65,259.75 L230.06,260.25 L230.46,261.50 L230.86,261.16 L231.26,260.45 L231.66,258.38 L232.06,259.82 L232.46,257.86 L232.87,260.72 L233.27,258.83 L233.67,260.17 L234.07,260.49 L234.47,258.37 L234.87,259.41 L235.27,258.66 L235.68,259.14 L236.08,256.09 L236.48,258.19 L236.88,258.28 L237.28,258.47 L237.68,257.72 L238.08,258.30 L238.48,257.24 L238.89,258.15 L239.29,257.32 L239.69,256.56 L240.09,258.53 L240.49,258.77 L240.89,258.64 L241.29,258.54 L241.70,259.56 L242.10,259.61 L242.50,260.30 L242.90,260.04 L243.30,260.31 L243.70,260.28 L244.10,261.35 L244.51,261.13 L244.91,260.54 L245.31,261.67 L245.71,259.23 L246.11,261.53 L246.51,260.99 L246.91,260.56 L247.32,261.48 L247.72,261.19 L248.12,260.17 L248.52,261.23 L248.92,260.86 L249.32,259.40 L249.72,259.84 L250.12,260.57 L250.53,261.73 L250.93,260.83 L251.33,260.95 L251.73,260.78 L252.13,261.29 L252.53,260.71 L252.93,259.12 L253.34,260.79 L253.74,261.15 L254.14,261.26 L254.54,261.14 L254.94,260.47 L255.34,261.55 L255.74,259.89 L256.15,261.41 L256.55,260.20 L256.95,259.87 L257.35,259.23 L257.75,259.30 L258.15,259.79 L258.55,258.91 L258.96,259.02 L259.36,258.25 L259.76,257.73 L260.16,257.11 L260.56,257.58 L260.96,257.33 L261.36,257.06 L261.77,255.84 L262.17,254.91 L262.57,254.98 L262.97,255.67 L263.37,256.12 L263.77,255.01 L264.17,252.53 L264.57,256.56 L264.98,254.01 L265.38,254.21 L265.78,254.40 L266.18,255.35 L266.58,254.17 L266.98,255.82 L267.38,256.25 L267.79,250.56 L268.19,255.31 L268.59,252.54 L268.99,253.99 L269.39,254.31 L269.79,252.94 L270.19,253.93 L270.60,251.49 L271.00,251.52 L271.40,252.94 L271.80,253.21 L272.20,252.69 L272.60,250.82 L273.00,251.29 L273.41,252.00 L273.81,250.58 L274.21,251.74 L274.61,253.53 L275.01,251.37 L275.41,252.92 L275.81,249.63 L276.22,253.18 L276.62,252.60 L277.02,253.63 L277.42,253.35 L277.82,254.97 L278.22,253.04 L278.62,255.56 L279.02,257.17 L279.43,256.89 L279.83,257.45 L280.23,256.47 L280.63,256.37 L281.03,254.00 L281.43,256.99 L281.83,257.27 L282.24,254.81 L282.64,257.38 L283.04,257.83 L283.44,259.04 L283.84,258.75 L284.24,256.23 L284.64,257.20 L285.05,256.12 L285.45,257.19 L285.85,257.57 L286.25,259.01 L286.65,259.88 L287.05,258.95 L287.45,259.03 L287.86,259.25 L288.26,260.49 L288.66,260.35 L289.06,260.31 L289.46,260.33 L289.86,261.17 L290.26,261.99 L290.67,261.72 L291.07,260.92 L291.47,261.13 L291.87,259.17 L292.27,261.20 L292.67,262.35 L293.07,261.62 L293.48,261.18 L293.88,261.99 L294.28,260.74 L294.68,262.57 L295.08,262.29 L295.48,262.01 L295.88,262.96 L296.28,263.26 L296.69,263.95 L297.09,263.87 L297.49,263.83 L297.89,263.26 L298.29,264.32 L298.69,264.20 L299.09,264.36 L299.50,263.93 L299.90,264.03 L300.30,264.42 L300.70,264.43 L300.7,265.2 Z" fill="#ec4a4b"/>
<path d="M222.4,263.2V263.8M223.6,261.7V262.6M225.2,262.4V263.6M227.2,261.4V262.4M228.0,260.1V262.2M228.4,259.9V261.3M230.1,260.3V261.5M230.5,261.5V262.7M231.3,260.5V262.5M232.1,259.8V262.0M232.9,260.7V261.5M234.1,260.5V262.3M234.9,259.4V261.4M235.3,258.7V259.7M235.7,259.1V259.8M236.5,258.2V261.3M238.5,257.2V258.9M238.9,258.1V259.2M240.1,258.5V259.3M240.5,258.8V261.3M241.3,258.5V259.2M242.5,260.3V261.7M242.9,260.0V262.3M244.1,261.4V262.3M244.9,260.5V261.7M245.3,261.7V262.4M247.3,261.5V262.4M247.7,261.2V262.5M248.1,260.2V261.0M248.9,260.9V262.8M249.3,259.4V261.4M250.1,260.6V262.5M250.5,261.7V262.8M250.9,260.8V262.2M252.1,261.3V262.7M253.3,260.8V262.0M253.7,261.1V262.5M254.1,261.3V262.3M254.9,260.5V261.6M256.5,260.2V261.2M256.9,259.9V260.7M257.4,259.2V261.4M258.2,259.8V261.7M258.6,258.9V260.5M259.0,259.0V260.1M260.2,257.1V260.4M260.6,257.6V259.0M261.4,257.1V259.0M261.8,255.8V257.1M262.2,254.9V256.6M263.0,255.7V258.4M263.4,256.1V259.2M265.0,254.0V255.0M265.8,254.4V255.3M266.6,254.2V257.0M267.0,255.8V256.6M267.4,256.3V257.2M268.6,252.5V256.0M269.0,254.0V257.3M269.8,252.9V256.5M270.2,253.9V258.6M270.6,251.5V254.5M271.0,251.5V255.2M271.4,252.9V254.4M273.0,251.3V253.3M273.4,252.0V253.2M274.6,253.5V258.4M275.0,251.4V255.3M276.2,253.2V255.5M277.8,255.0V256.4M278.6,255.6V259.8M281.0,254.0V258.1M281.8,257.3V258.2M282.6,257.4V258.1M283.0,257.8V259.4M283.4,259.0V260.0M283.8,258.7V261.3M284.2,256.2V258.5M285.4,257.2V259.5M285.8,257.6V258.6M287.5,259.0V259.7M287.9,259.3V260.6M288.3,260.5V262.5M288.7,260.3V262.5M289.1,260.3V261.7M289.5,260.3V262.5M290.3,262.0V262.9M291.5,261.1V262.5M291.9,259.2V261.6M292.3,261.2V262.5M293.1,261.6V262.5M293.5,261.2V262.5M294.7,262.6V263.7M295.1,262.3V263.5M295.5,262.0V262.7M296.3,263.3V264.1M297.9,263.3V263.9" stroke="#6a1010" stroke-width="0.6" opacity="0.55" fill="none"/>
<path d="M214.00,264.81 L214.40,264.72 L214.80,264.71 L215.20,264.90 M215.20,264.90 L215.61,263.95 L216.01,264.32 L216.41,264.90 M216.41,264.90 L216.81,264.78 L217.21,264.83 L217.61,264.07 L218.01,264.07 L218.42,263.82 L218.82,264.24 L219.22,263.19 L219.62,264.28 L220.02,264.12 L220.42,263.07 L220.82,263.78 L221.22,263.53 L221.63,263.98 L222.03,263.10 L222.43,263.21 L222.83,261.86 L223.23,263.82 L223.63,261.74 L224.03,262.62 L224.44,262.47 L224.84,261.46 L225.24,262.41 L225.64,262.46 L226.04,261.79 L226.44,260.98 L226.84,261.64 L227.25,261.38 L227.65,260.41 L228.05,260.07 L228.45,259.91 L228.85,261.09 L229.25,259.36 L229.65,259.75 L230.06,260.25 L230.46,261.50 L230.86,261.16 L231.26,260.45 L231.66,258.38 L232.06,259.82 L232.46,257.86 L232.87,260.72 L233.27,258.83 L233.67,260.17 L234.07,260.49 L234.47,258.37 L234.87,259.41 L235.27,258.66 L235.68,259.14 L236.08,256.09 L236.48,258.19 L236.88,258.28 L237.28,258.47 L237.68,257.72 L238.08,258.30 L238.48,257.24 L238.89,258.15 L239.29,257.32 L239.69,256.56 L240.09,258.53 L240.49,258.77 L240.89,258.64 L241.29,258.54 L241.70,259.56 L242.10,259.61 L242.50,260.30 L242.90,260.04 L243.30,260.31 L243.70,260.28 L244.10,261.35 L244.51,261.13 L244.91,260.54 L245.31,261.67 L245.71,259.23 L246.11,261.53 L246.51,260.99 L246.91,260.56 L247.32,261.48 L247.72,261.19 L248.12,260.17 L248.52,261.23 L248.92,260.86 L249.32,259.40 L249.72,259.84 L250.12,260.57 L250.53,261.73 L250.93,260.83 L251.33,260.95 L251.73,260.78 L252.13,261.29 L252.53,260.71 L252.93,259.12 L253.34,260.79 L253.74,261.15 L254.14,261.26 L254.54,261.14 L254.94,260.47 L255.34,261.55 L255.74,259.89 L256.15,261.41 L256.55,260.20 L256.95,259.87 L257.35,259.23 L257.75,259.30 L258.15,259.79 L258.55,258.91 L258.96,259.02 L259.36,258.25 L259.76,257.73 L260.16,257.11 L260.56,257.58 L260.96,257.33 L261.36,257.06 L261.77,255.84 L262.17,254.91 L262.57,254.98 L262.97,255.67 L263.37,256.12 L263.77,255.01 L264.17,252.53 L264.57,256.56 L264.98,254.01 L265.38,254.21 L265.78,254.40 L266.18,255.35 L266.58,254.17 L266.98,255.82 L267.38,256.25 L267.79,250.56 L268.19,255.31 L268.59,252.54 L268.99,253.99 L269.39,254.31 L269.79,252.94 L270.19,253.93 L270.60,251.49 L271.00,251.52 L271.40,252.94 L271.80,253.21 L272.20,252.69 L272.60,250.82 L273.00,251.29 L273.41,252.00 L273.81,250.58 L274.21,251.74 L274.61,253.53 L275.01,251.37 L275.41,252.92 L275.81,249.63 L276.22,253.18 L276.62,252.60 L277.02,253.63 L277.42,253.35 L277.82,254.97 L278.22,253.04 L278.62,255.56 L279.02,257.17 L279.43,256.89 L279.83,257.45 L280.23,256.47 L280.63,256.37 L281.03,254.00 L281.43,256.99 L281.83,257.27 L282.24,254.81 L282.64,257.38 L283.04,257.83 L283.44,259.04 L283.84,258.75 L284.24,256.23 L284.64,257.20 L285.05,256.12 L285.45,257.19 L285.85,257.57 L286.25,259.01 L286.65,259.88 L287.05,258.95 L287.45,259.03 L287.86,259.25 L288.26,260.49 L288.66,260.35 L289.06,260.31 L289.46,260.33 L289.86,261.17 L290.26,261.99 L290.67,261.72 L291.07,260.92 L291.47,261.13 L291.87,259.17 L292.27,261.20 L292.67,262.35 L293.07,261.62 L293.48,261.18 L293.88,261.99 L294.28,260.74 L294.68,262.57 L295.08,262.29 L295.48,262.01 L295.88,262.96 L296.28,263.26 L296.69,263.95 L297.09,263.87 L297.49,263.83 L297.89,263.26 L298.29,264.32 L298.69,264.20 L299.09,264.36 L299.50,263.93 L299.90,264.03 L300.30,264.42 L300.70,264.43" fill="none" stroke="#1c1c1c" stroke-width="0.95" stroke-linejoin="round"/>
<path d="M214.0,278.3 L214.00,274.47 L214.40,274.55 L214.80,275.18 L215.20,274.15 L215.61,274.19 L216.01,273.40 L216.41,273.29 L216.81,273.00 L217.21,271.45 L217.61,271.91 L218.01,271.18 L218.42,270.91 L218.82,270.40 L219.22,270.56 L219.62,270.36 L220.02,270.02 L220.42,270.95 L220.82,270.52 L221.22,270.27 L221.63,269.67 L222.03,267.75 L222.43,268.35 L222.83,267.60 L223.23,267.63 L223.63,267.16 L224.03,267.71 L224.44,266.36 L224.84,266.35 L225.24,267.39 L225.64,266.89 L226.04,266.45 L226.44,267.15 L226.84,267.30 L227.25,265.62 L227.65,265.70 L228.05,266.26 L228.45,265.67 L228.85,266.02 L229.25,265.44 L229.65,265.65 L230.06,266.17 L230.46,264.31 L230.86,264.12 L231.26,265.45 L231.66,265.49 L232.06,265.33 L232.46,265.25 L232.87,264.38 L233.27,265.59 L233.67,265.37 L234.07,266.62 L234.47,265.94 L234.87,265.97 L235.27,266.14 L235.68,267.47 L236.08,267.49 L236.48,268.68 L236.88,267.88 L237.28,269.76 L237.68,271.30 L238.08,272.56 L238.48,273.13 L238.89,273.03 L239.29,272.48 L239.69,273.94 L240.09,274.39 L240.49,275.34 L240.89,275.18 L241.29,277.05 L241.70,277.33 L242.10,277.60 L242.50,277.81 L242.90,278.13 L243.30,278.27 L243.70,278.30 L244.10,278.30 L244.51,278.30 L244.91,278.30 L245.31,278.30 L245.71,278.30 L246.11,278.30 L246.51,278.30 L246.91,278.30 L247.32,278.30 L247.72,278.30 L248.12,278.30 L248.52,278.30 L248.92,278.30 L249.32,278.30 L249.72,278.30 L250.12,278.30 L250.53,278.30 L250.93,278.30 L251.33,278.30 L251.73,278.30 L252.13,278.30 L252.53,278.30 L252.93,278.30 L253.34,278.30 L253.74,278.30 L254.14,278.30 L254.54,278.30 L254.94,278.30 L255.34,278.30 L255.74,278.30 L256.15,278.30 L256.55,278.30 L256.95,278.30 L257.35,278.30 L257.75,278.30 L258.15,278.30 L258.55,278.30 L258.96,278.30 L259.36,278.30 L259.76,278.30 L260.16,278.30 L260.56,278.30 L260.96,278.30 L261.36,278.30 L261.77,278.30 L262.17,278.30 L262.57,278.30 L262.97,278.30 L263.37,278.30 L263.77,278.30 L264.17,278.30 L264.57,278.30 L264.98,278.30 L265.38,278.30 L265.78,278.30 L266.18,278.30 L266.58,278.30 L266.98,278.30 L267.38,278.30 L267.79,278.30 L268.19,278.30 L268.59,278.30 L268.99,278.30 L269.39,278.30 L269.79,278.30 L270.19,278.30 L270.60,278.30 L271.00,278.30 L271.40,278.30 L271.80,278.30 L272.20,278.30 L272.60,278.30 L273.00,278.30 L273.41,278.30 L273.81,278.30 L274.21,278.30 L274.61,278.30 L275.01,278.30 L275.41,278.30 L275.81,278.30 L276.22,278.30 L276.62,278.30 L277.02,278.30 L277.42,278.30 L277.82,278.30 L278.22,278.30 L278.62,278.30 L279.02,278.30 L279.43,278.30 L279.83,278.30 L280.23,278.30 L280.63,278.30 L281.03,278.30 L281.43,278.30 L281.83,278.30 L282.24,278.30 L282.64,278.30 L283.04,278.30 L283.44,278.30 L283.84,278.30 L284.24,278.30 L284.64,278.30 L285.05,278.30 L285.45,278.30 L285.85,278.30 L286.25,278.30 L286.65,278.30 L287.05,278.30 L287.45,278.30 L287.86,278.30 L288.26,278.30 L288.66,278.30 L289.06,278.30 L289.46,278.30 L289.86,278.30 L290.26,278.30 L290.67,278.30 L291.07,278.30 L291.47,278.30 L291.87,278.30 L292.27,278.30 L292.67,278.30 L293.07,278.30 L293.48,278.30 L293.88,278.30 L294.28,278.30 L294.68,278.30 L295.08,278.30 L295.48,278.30 L295.88,278.30 L296.28,278.30 L296.69,278.30 L297.09,278.30 L297.49,278.30 L297.89,278.30 L298.29,278.30 L298.69,278.30 L299.09,278.30 L299.50,278.30 L299.90,278.30 L300.30,278.30 L300.70,278.30 L300.7,278.3 Z" fill="url(#hatch)"/>
<path d="M214.00,274.47 L214.40,274.55 L214.80,275.18 L215.20,274.15 L215.61,274.19 L216.01,273.40 L216.41,273.29 L216.81,273.00 L217.21,271.45 L217.61,271.91 L218.01,271.18 L218.42,270.91 L218.82,270.40 L219.22,270.56 L219.62,270.36 L220.02,270.02 L220.42,270.95 L220.82,270.52 L221.22,270.27 L221.63,269.67 L222.03,267.75 L222.43,268.35 L222.83,267.60 L223.23,267.63 L223.63,267.16 L224.03,267.71 L224.44,266.36 L224.84,266.35 L225.24,267.39 L225.64,266.89 L226.04,266.45 L226.44,267.15 L226.84,267.30 L227.25,265.62 L227.65,265.70 L228.05,266.26 L228.45,265.67 L228.85,266.02 L229.25,265.44 L229.65,265.65 L230.06,266.17 L230.46,264.31 L230.86,264.12 L231.26,265.45 L231.66,265.49 L232.06,265.33 L232.46,265.25 L232.87,264.38 L233.27,265.59 L233.67,265.37 L234.07,266.62 L234.47,265.94 L234.87,265.97 L235.27,266.14 L235.68,267.47 L236.08,267.49 L236.48,268.68 L236.88,267.88 L237.28,269.76 L237.68,271.30 L238.08,272.56 L238.48,273.13 L238.89,273.03 L239.29,272.48 L239.69,273.94 L240.09,274.39 L240.49,275.34 L240.89,275.18 L241.29,277.05 L241.70,277.33 L242.10,277.60 L242.50,277.81 L242.90,278.00" fill="none" stroke="#1c1c1c" stroke-width="0.95" stroke-linejoin="round"/>
<rect x="214.0" y="189.8" width="86.69999999999999" height="88.5" fill="none" stroke="#8a8a8a" stroke-width="0.8"/>
<line x1="229.4" y1="278.3" x2="229.4" y2="280.3" stroke="#555" stroke-width="0.6"/>
<text x="226.1" y="290.0" font-size="8.9" fill="#333" color="#333" textLength="6.7" lengthAdjust="spacingAndGlyphs" >10</text>
<text x="233.20000000000002" y="286.0" font-size="5.72" fill="#333" color="#333" >2</text>
<line x1="251.1" y1="278.3" x2="251.1" y2="280.3" stroke="#555" stroke-width="0.6"/>
<text x="247.79999999999998" y="290.0" font-size="8.9" fill="#333" color="#333" textLength="6.7" lengthAdjust="spacingAndGlyphs" >10</text>
<text x="254.9" y="286.0" font-size="5.72" fill="#333" color="#333" >3</text>
<line x1="272.8" y1="278.3" x2="272.8" y2="280.3" stroke="#555" stroke-width="0.6"/>
<text x="269.5" y="290.0" font-size="8.9" fill="#333" color="#333" textLength="6.7" lengthAdjust="spacingAndGlyphs" >10</text>
<text x="276.6" y="286.0" font-size="5.72" fill="#333" color="#333" >4</text>
<line x1="294.5" y1="278.3" x2="294.5" y2="280.3" stroke="#555" stroke-width="0.6"/>
<text x="291.2" y="290.0" font-size="8.9" fill="#333" color="#333" textLength="6.7" lengthAdjust="spacingAndGlyphs" >10</text>
<text x="298.3" y="286.0" font-size="5.72" fill="#333" color="#333" >5</text>
<text x="229.7" y="302.7" font-size="8.48" fill="#333" color="#333" textLength="57.7" lengthAdjust="spacingAndGlyphs" >BCMApeptide-PE</text>
<text x="45.8" y="184.6" font-size="9.96" fill="#222" color="#222" textLength="26.5" lengthAdjust="spacingAndGlyphs" >CAR T</text>
<text x="72.6" y="181" font-size="6.57" fill="#222" color="#222" textLength="10.2" lengthAdjust="spacingAndGlyphs" >ide</text>
<text x="141" y="184.6" font-size="9.96" fill="#222" color="#222" textLength="26.7" lengthAdjust="spacingAndGlyphs" >CAR T</text>
<text x="168.1" y="181" font-size="6.57" fill="#222" color="#222" textLength="14" lengthAdjust="spacingAndGlyphs" >tecli</text>
<text x="237" y="184.6" font-size="9.96" fill="#222" color="#222" textLength="26.5" lengthAdjust="spacingAndGlyphs" >CAR T</text>
<text x="263.8" y="181" font-size="6.57" fill="#222" color="#222" textLength="14" lengthAdjust="spacingAndGlyphs" >cilta</text>
<text transform="translate(14.7,234.7) rotate(-90)" font-size="9.3" fill="#333" color="#333" text-anchor="middle" textLength="22.7" lengthAdjust="spacingAndGlyphs">% Max</text>
<rect x="83.5" y="311.7" width="5.6" height="5.2" fill="#8f5aa3" stroke="#666" stroke-width="0.4"/>
<text x="92.8" y="316.59999999999997" font-size="7.63" fill="#333" color="#333" textLength="66.3" lengthAdjust="spacingAndGlyphs" >sBCMA_2000ng/mL</text>
<rect x="83.5" y="323.3" width="5.6" height="5.2" fill="#6cc6d0" stroke="#666" stroke-width="0.4"/>
<text x="92.8" y="328.2" font-size="7.63" fill="#333" color="#333" textLength="66.3" lengthAdjust="spacingAndGlyphs" >sBCMA_1000ng/mL</text>
<rect x="83.5" y="333.8" width="5.6" height="5.2" fill="#4c4aa0" stroke="#666" stroke-width="0.4"/>
<text x="92.8" y="338.7" font-size="7.63" fill="#333" color="#333" textLength="61.5" lengthAdjust="spacingAndGlyphs" >sBCMA_400ng/mL</text>
<rect x="165.4" y="311.7" width="5.6" height="5.2" fill="#9a5a5c" stroke="#666" stroke-width="0.4"/>
<text x="174.70000000000002" y="316.59999999999997" font-size="7.63" fill="#333" color="#333" textLength="61.9" lengthAdjust="spacingAndGlyphs" >sBCMA_100ng/mL</text>
<rect x="165.4" y="322.3" width="5.6" height="5.2" fill="#e43e47" stroke="#666" stroke-width="0.4"/>
<text x="174.70000000000002" y="327.2" font-size="7.63" fill="#333" color="#333" textLength="38.8" lengthAdjust="spacingAndGlyphs" >CART_only</text>
<rect x="165.4" y="333.5" width="5.6" height="5.2" fill="url(#hatch)" stroke="#666" stroke-width="0.4"/>
<text x="174.70000000000002" y="338.4" font-size="7.63" fill="#333" color="#333" textLength="32.7" lengthAdjust="spacingAndGlyphs" >Unstained</text>
<line x1="349" y1="32.80000000000001" x2="349" y2="120.89999999999999" stroke="#2a2a2a" stroke-width="1.3"/>
<line x1="348.4" y1="120.6" x2="476.5" y2="120.6" stroke="#2a2a2a" stroke-width="1.3"/>
<line x1="344.8" y1="120.3" x2="349" y2="120.3" stroke="#2a2a2a" stroke-width="1"/>
<text x="342.5" y="123.1" font-size="8.48" fill="#333" color="#333" text-anchor="end" >0</text>
<line x1="344.8" y1="103.36" x2="349" y2="103.36" stroke="#2a2a2a" stroke-width="1"/>
<text x="342.5" y="106.16" font-size="8.48" fill="#333" color="#333" text-anchor="end" >20</text>
<line x1="344.8" y1="86.42" x2="349" y2="86.42" stroke="#2a2a2a" stroke-width="1"/>
<text x="342.5" y="89.22" font-size="8.48" fill="#333" color="#333" text-anchor="end" >40</text>
<line x1="344.8" y1="69.48" x2="349" y2="69.48" stroke="#2a2a2a" stroke-width="1"/>
<text x="342.5" y="72.28" font-size="8.48" fill="#333" color="#333" text-anchor="end" >60</text>
<line x1="344.8" y1="52.540000000000006" x2="349" y2="52.540000000000006" stroke="#2a2a2a" stroke-width="1"/>
<text x="342.5" y="55.34" font-size="8.48" fill="#333" color="#333" text-anchor="end" >80</text>
<line x1="344.8" y1="35.60000000000001" x2="349" y2="35.60000000000001" stroke="#2a2a2a" stroke-width="1"/>
<text x="342.5" y="38.400000000000006" font-size="8.48" fill="#333" color="#333" text-anchor="end" >100</text>
<line x1="349.0" y1="120.3" x2="349.0" y2="123.8" stroke="#2a2a2a" stroke-width="1"/>
<text x="349.0" y="132.3" font-size="8.48" fill="#333" color="#333" text-anchor="middle" >0</text>
<line x1="385.7" y1="120.3" x2="385.7" y2="123.8" stroke="#2a2a2a" stroke-width="1"/>
<text x="385.7" y="132.3" font-size="8.48" fill="#333" color="#333" text-anchor="middle" >1</text>
<line x1="422.4" y1="120.3" x2="422.4" y2="123.8" stroke="#2a2a2a" stroke-width="1"/>
<text x="422.4" y="132.3" font-size="8.48" fill="#333" color="#333" text-anchor="middle" >2</text>
<line x1="459.1" y1="120.3" x2="459.1" y2="123.8" stroke="#2a2a2a" stroke-width="1"/>
<text x="459.1" y="132.3" font-size="8.48" fill="#333" color="#333" text-anchor="middle" >3</text>
<text x="399.2" y="27.3" font-size="9.75" fill="#222" color="#222" textLength="27" lengthAdjust="spacingAndGlyphs" >OPM2</text>
<text x="375" y="146.0" font-size="9.75" fill="#333" color="#333" textLength="7.8" lengthAdjust="spacingAndGlyphs" >log</text>
<text x="383.2" y="147.6" font-size="6.57" fill="#333" color="#333" textLength="6.0" lengthAdjust="spacingAndGlyphs" >10</text>
<text x="389.6" y="146.0" font-size="9.75" fill="#333" color="#333" textLength="62.4" lengthAdjust="spacingAndGlyphs" >[[sBCMA](ng/mL)]</text>
<path d="M349.00,103.77 L351.05,103.77 L353.10,103.77 L355.15,103.77 L357.20,103.77 L359.25,103.77 L361.29,103.77 L363.34,103.77 L365.39,103.76 L367.44,103.76 L369.49,103.76 L371.54,103.76 L373.59,103.75 L375.64,103.75 L377.69,103.75 L379.74,103.74 L381.79,103.74 L383.83,103.73 L385.88,103.72 L387.93,103.71 L389.98,103.70 L392.03,103.69 L394.08,103.68 L396.13,103.66 L398.18,103.64 L400.23,103.62 L402.28,103.59 L404.33,103.56 L406.37,103.53 L408.42,103.49 L410.47,103.44 L412.52,103.38 L414.57,103.32 L416.62,103.24 L418.67,103.16 L420.72,103.05 L422.77,102.94 L424.82,102.80 L426.87,102.64 L428.91,102.46 L430.96,102.25 L433.01,102.02 L435.06,101.74 L437.11,101.43 L439.16,101.08 L441.21,100.68 L443.26,100.23 L445.31,99.73 L447.36,99.17 L449.41,98.56 L451.45,97.89 L453.50,97.16 L455.55,96.37 L457.60,95.54 L459.65,94.66 L461.70,93.74 L463.75,92.79 L465.80,91.83 L467.85,90.86 L469.90,89.90 L471.94,88.96" fill="none" stroke="#3f9a45" stroke-width="1.1"/>
<path d="M349.00,109.28 L351.05,109.27 L353.10,109.27 L355.15,109.27 L357.20,109.27 L359.25,109.26 L361.29,109.26 L363.34,109.25 L365.39,109.25 L367.44,109.24 L369.49,109.23 L371.54,109.23 L373.59,109.21 L375.64,109.20 L377.69,109.19 L379.74,109.17 L381.79,109.15 L383.83,109.13 L385.88,109.11 L387.93,109.08 L389.98,109.05 L392.03,109.01 L394.08,108.96 L396.13,108.91 L398.18,108.85 L400.23,108.78 L402.28,108.70 L404.33,108.60 L406.37,108.49 L408.42,108.37 L410.47,108.22 L412.52,108.05 L414.57,107.86 L416.62,107.63 L418.67,107.37 L420.72,107.07 L422.77,106.72 L424.82,106.33 L426.87,105.87 L428.91,105.35 L430.96,104.75 L433.01,104.07 L435.06,103.29 L437.11,102.41 L439.16,101.42 L441.21,100.29 L443.26,99.03 L445.31,97.63 L447.36,96.06 L449.41,94.34 L451.45,92.44 L453.50,90.38 L455.55,88.14 L457.60,85.75 L459.65,83.20 L461.70,80.52 L463.75,77.73 L465.80,74.85 L467.85,71.91 L469.90,68.94 L471.94,65.98" fill="none" stroke="#22528f" stroke-width="1.1"/>
<path d="M349.00,103.70 L351.05,103.73 L353.10,103.76 L355.15,103.79 L357.20,103.82 L359.25,103.85 L361.29,103.87 L363.34,103.90 L365.39,103.93 L367.44,103.96 L369.49,103.99 L371.54,104.02 L373.59,104.05 L375.64,104.08 L377.69,104.11 L379.74,104.14 L381.79,104.17 L383.83,104.20 L385.88,104.23 L387.93,104.26 L389.98,104.29 L392.03,104.31 L394.08,104.34 L396.13,104.37 L398.18,104.40 L400.23,104.43 L402.28,104.46 L404.33,104.49 L406.37,104.52 L408.42,104.55 L410.47,104.58 L412.52,104.61 L414.57,104.64 L416.62,104.67 L418.67,104.70 L420.72,104.73 L422.77,104.75 L424.82,104.78 L426.87,104.81 L428.91,104.84 L430.96,104.87 L433.01,104.90 L435.06,104.93 L437.11,104.96 L439.16,104.99 L441.21,105.02 L443.26,105.05 L445.31,105.08 L447.36,105.11 L449.41,105.14 L451.45,105.16 L453.50,105.19 L455.55,105.22 L457.60,105.25 L459.65,105.28 L461.70,105.31 L463.75,105.34 L465.80,105.37 L467.85,105.40 L469.90,105.43 L471.94,105.46" fill="none" stroke="#d23a55" stroke-width="1.1"/>
<path d="M349.00,47.46 L351.05,47.46 L353.10,47.46 L355.15,47.46 L357.20,47.46 L359.25,47.46 L361.29,47.46 L363.34,47.46 L365.39,47.46 L367.44,47.46 L369.49,47.46 L371.54,47.46 L373.59,47.46 L375.64,47.46 L377.69,47.46 L379.74,47.46 L381.79,47.46 L383.83,47.46 L385.88,47.46 L387.93,47.46 L389.98,47.46 L392.03,47.46 L394.08,47.46 L396.13,47.46 L398.18,47.46 L400.23,47.46 L402.28,47.46 L404.33,47.46 L406.37,47.46 L408.42,47.46 L410.47,47.46 L412.52,47.46 L414.57,47.46 L416.62,47.46 L418.67,47.46 L420.72,47.46 L422.77,47.46 L424.82,47.46 L426.87,47.46 L428.91,47.46 L430.96,47.46 L433.01,47.46 L435.06,47.46 L437.11,47.46 L439.16,47.46 L441.21,47.46 L443.26,47.46 L445.31,47.46 L447.36,47.46 L449.41,47.46 L451.45,47.46 L453.50,47.46 L455.55,47.46 L457.60,47.46 L459.65,47.46 L461.70,47.46 L463.75,47.46 L465.80,47.46 L467.85,47.46 L469.90,47.46 L471.94,47.46" fill="none" stroke="#a0a0a0" stroke-width="0.6"/>
<path d="M422.4,99.125 L422.4,104.207 M420.4,99.125 L424.4,99.125 M420.4,104.207 L424.4,104.207" stroke="#8fd28f" stroke-width="0.9"/>
<path d="M422.4,103.966 L424.5,100.166 L420.29999999999995,100.166 Z" fill="#2f8a3a"/>
<path d="M444.42,96.584 L444.42,101.666 M442.42,96.584 L446.42,96.584 M442.42,101.666 L446.42,101.666" stroke="#8fd28f" stroke-width="0.9"/>
<path d="M444.42,101.425 L446.52000000000004,97.625 L442.32,97.625 Z" fill="#2f8a3a"/>
<path d="M459.1,89.80799999999999 L459.1,99.97200000000001 M457.1,89.80799999999999 L461.1,89.80799999999999 M457.1,99.97200000000001 L461.1,99.97200000000001" stroke="#8fd28f" stroke-width="0.9"/>
<path d="M459.1,97.19 L461.20000000000005,93.39 L457.0,93.39 Z" fill="#2f8a3a"/>
<path d="M470.11,83.879 L470.11,95.737 M468.11,83.879 L472.11,83.879 M468.11,95.737 L472.11,95.737" stroke="#8fd28f" stroke-width="0.9"/>
<path d="M470.11,92.10799999999999 L472.21000000000004,88.30799999999999 L468.01,88.30799999999999 Z" fill="#2f8a3a"/>
<path d="M349.0,108.44200000000001 L349.0,110.136 M347.0,108.44200000000001 L351.0,108.44200000000001 M347.0,110.136 L351.0,110.136" stroke="#8ea9d2" stroke-width="0.9"/>
<path d="M349.0,106.989 L351.1,110.789 L346.9,110.789 Z" fill="#1c4380"/>
<path d="M444.42,95.737 L444.42,100.819 M442.42,95.737 L446.42,95.737 M442.42,100.819 L446.42,100.819" stroke="#8ea9d2" stroke-width="0.9"/>
<path d="M444.42,95.978 L446.52000000000004,99.77799999999999 L442.32,99.77799999999999 Z" fill="#1c4380"/>
<path d="M459.1,76.256 L459.1,91.502 M457.1,76.256 L461.1,76.256 M457.1,91.502 L461.1,91.502" stroke="#8ea9d2" stroke-width="0.9"/>
<path d="M459.1,81.57900000000001 L461.20000000000005,85.379 L457.0,85.379 Z" fill="#1c4380"/>
<path d="M470.11,61.857000000000006 L470.11,75.409 M468.11,61.857000000000006 L472.11,61.857000000000006 M468.11,75.409 L472.11,75.409" stroke="#8ea9d2" stroke-width="0.9"/>
<path d="M470.11,66.33300000000001 L472.21000000000004,70.13300000000001 L468.01,70.13300000000001 Z" fill="#1c4380"/>
<path d="M349.0,102.8518 L349.0,104.5458 M347.0,102.8518 L351.0,102.8518 M347.0,104.5458 L351.0,104.5458" stroke="#e8899a" stroke-width="0.9"/>
<rect x="346.7" y="101.39880000000001" width="4.6" height="4.6" rx="1.6" fill="#b8123c"/>
<path d="M422.4,102.513 L422.4,109.289 M420.4,102.513 L424.4,102.513 M420.4,109.289 L424.4,109.289" stroke="#e8899a" stroke-width="0.9"/>
<rect x="420.09999999999997" y="103.601" width="4.6" height="4.6" rx="1.6" fill="#b8123c"/>
<path d="M444.42,102.513 L444.42,109.289 M442.42,102.513 L446.42,102.513 M442.42,109.289 L446.42,109.289" stroke="#e8899a" stroke-width="0.9"/>
<rect x="442.12" y="103.601" width="4.6" height="4.6" rx="1.6" fill="#b8123c"/>
<path d="M459.1,102.513 L459.1,110.983 M457.1,102.513 L461.1,102.513 M457.1,110.983 L461.1,110.983" stroke="#e8899a" stroke-width="0.9"/>
<rect x="456.8" y="104.44800000000001" width="4.6" height="4.6" rx="1.6" fill="#b8123c"/>
<path d="M470.11,100.819 L470.11,107.595 M468.11,100.819 L472.11,100.819 M468.11,107.595 L472.11,107.595" stroke="#e8899a" stroke-width="0.9"/>
<rect x="467.81" y="101.907" width="4.6" height="4.6" rx="1.6" fill="#b8123c"/>
<path d="M349.0,45.76400000000001 L349.0,49.152 M347.0,45.76400000000001 L351.0,45.76400000000001 M347.0,49.152 L351.0,49.152" stroke="#333333" stroke-width="0.9"/>
<circle cx="349.0" cy="47.45800000000001" r="1.7" fill="#111111"/>
<path d="M422.4,45.76400000000001 L422.4,49.152 M420.4,45.76400000000001 L424.4,45.76400000000001 M420.4,49.152 L424.4,49.152" stroke="#333333" stroke-width="0.9"/>
<circle cx="422.4" cy="47.45800000000001" r="1.7" fill="#111111"/>
<path d="M444.42,45.76400000000001 L444.42,49.152 M442.42,45.76400000000001 L446.42,45.76400000000001 M442.42,49.152 L446.42,49.152" stroke="#333333" stroke-width="0.9"/>
<circle cx="444.42" cy="47.45800000000001" r="1.7" fill="#111111"/>
<path d="M459.1,45.76400000000001 L459.1,49.152 M457.1,45.76400000000001 L461.1,45.76400000000001 M457.1,49.152 L461.1,49.152" stroke="#333333" stroke-width="0.9"/>
<circle cx="459.1" cy="47.45800000000001" r="1.7" fill="#111111"/>
<path d="M470.11,45.76400000000001 L470.11,49.152 M468.11,45.76400000000001 L472.11,45.76400000000001 M468.11,49.152 L472.11,49.152" stroke="#333333" stroke-width="0.9"/>
<circle cx="470.11" cy="47.45800000000001" r="1.7" fill="#111111"/>
<path d="M476.6,48.6 L479.0,48.6 L479.0,64.8 L476.6,64.8" fill="none" stroke="#333" stroke-width="0.8"/>
<text x="480.8" y="58.6" font-size="7.42" fill="#222" color="#222" textLength="13.4" lengthAdjust="spacingAndGlyphs" >****</text>
<path d="M476.6,67.4 L479.0,67.4 L479.0,88.0 L476.6,88.0" fill="none" stroke="#333" stroke-width="0.8"/>
<text x="480.8" y="78.2" font-size="7.42" fill="#222" color="#222" textLength="13.4" lengthAdjust="spacingAndGlyphs" >****</text>
<path d="M476.6,89.2 L479.0,89.2 L479.0,104.2 L476.6,104.2" fill="none" stroke="#333" stroke-width="0.8"/>
<text x="480.8" y="98.6" font-size="7.42" fill="#222" color="#222" textLength="10" lengthAdjust="spacingAndGlyphs" >***</text>
<path d="M495.6,67.4 L498.0,67.4 L498.0,104.4 L495.6,104.4" fill="none" stroke="#333" stroke-width="0.8"/>
<text x="499.6" y="88.8" font-size="7.42" fill="#222" color="#222" textLength="13.4" lengthAdjust="spacingAndGlyphs" >****</text>
<line x1="349" y1="176.1" x2="349" y2="264.8" stroke="#2a2a2a" stroke-width="1.3"/>
<line x1="348.4" y1="264.5" x2="476.5" y2="264.5" stroke="#2a2a2a" stroke-width="1.3"/>
<line x1="344.8" y1="264.2" x2="349" y2="264.2" stroke="#2a2a2a" stroke-width="1"/>
<text x="342.5" y="267.0" font-size="8.48" fill="#333" color="#333" text-anchor="end" >0</text>
<line x1="344.8" y1="247.14" x2="349" y2="247.14" stroke="#2a2a2a" stroke-width="1"/>
<text x="342.5" y="249.94" font-size="8.48" fill="#333" color="#333" text-anchor="end" >20</text>
<line x1="344.8" y1="230.07999999999998" x2="349" y2="230.07999999999998" stroke="#2a2a2a" stroke-width="1"/>
<text x="342.5" y="232.88" font-size="8.48" fill="#333" color="#333" text-anchor="end" >40</text>
<line x1="344.8" y1="213.01999999999998" x2="349" y2="213.01999999999998" stroke="#2a2a2a" stroke-width="1"/>
<text x="342.5" y="215.82" font-size="8.48" fill="#333" color="#333" text-anchor="end" >60</text>
<line x1="344.8" y1="195.96" x2="349" y2="195.96" stroke="#2a2a2a" stroke-width="1"/>
<text x="342.5" y="198.76000000000002" font-size="8.48" fill="#333" color="#333" text-anchor="end" >80</text>
<line x1="344.8" y1="178.9" x2="349" y2="178.9" stroke="#2a2a2a" stroke-width="1"/>
<text x="342.5" y="181.70000000000002" font-size="8.48" fill="#333" color="#333" text-anchor="end" >100</text>
<line x1="349.0" y1="264.2" x2="349.0" y2="267.7" stroke="#2a2a2a" stroke-width="1"/>
<text x="349.0" y="276.2" font-size="8.48" fill="#333" color="#333" text-anchor="middle" >0</text>
<line x1="385.7" y1="264.2" x2="385.7" y2="267.7" stroke="#2a2a2a" stroke-width="1"/>
<text x="385.7" y="276.2" font-size="8.48" fill="#333" color="#333" text-anchor="middle" >1</text>
<line x1="422.4" y1="264.2" x2="422.4" y2="267.7" stroke="#2a2a2a" stroke-width="1"/>
<text x="422.4" y="276.2" font-size="8.48" fill="#333" color="#333" text-anchor="middle" >2</text>
<line x1="459.1" y1="264.2" x2="459.1" y2="267.7" stroke="#2a2a2a" stroke-width="1"/>
<text x="459.1" y="276.2" font-size="8.48" fill="#333" color="#333" text-anchor="middle" >3</text>
<text x="375.8" y="171.2" font-size="9.33" fill="#222" color="#222" textLength="59.6" lengthAdjust="spacingAndGlyphs" >OPM2_BCMA</text>
<text x="435.6" y="167.2" font-size="6.36" fill="#222" color="#222" textLength="14.2" lengthAdjust="spacingAndGlyphs" >high</text>
<text x="375" y="288.8" font-size="8.69" fill="#333" color="#333" textLength="9.2" lengthAdjust="spacingAndGlyphs" >log</text>
<text x="384.6" y="290.6" font-size="6.36" fill="#333" color="#333" textLength="7.2" lengthAdjust="spacingAndGlyphs" >10</text>
<text x="393.8" y="288.8" font-size="8.69" fill="#333" color="#333" textLength="56.8" lengthAdjust="spacingAndGlyphs" >[sBCMA] (ng/mL)</text>
<path d="M349.00,254.82 L351.05,254.81 L353.10,254.80 L355.15,254.80 L357.20,254.79 L359.25,254.78 L361.29,254.77 L363.34,254.77 L365.39,254.76 L367.44,254.75 L369.49,254.75 L371.54,254.74 L373.59,254.73 L375.64,254.72 L377.69,254.72 L379.74,254.71 L381.79,254.70 L383.83,254.70 L385.88,254.69 L387.93,254.68 L389.98,254.67 L392.03,254.67 L394.08,254.66 L396.13,254.65 L398.18,254.65 L400.23,254.64 L402.28,254.63 L404.33,254.62 L406.37,254.62 L408.42,254.61 L410.47,254.60 L412.52,254.60 L414.57,254.59 L416.62,254.58 L418.67,254.57 L420.72,254.57 L422.77,254.56 L424.82,254.55 L426.87,254.55 L428.91,254.54 L430.96,254.53 L433.01,254.52 L435.06,254.52 L437.11,254.51 L439.16,254.50 L441.21,254.50 L443.26,254.49 L445.31,254.48 L447.36,254.47 L449.41,254.47 L451.45,254.46 L453.50,254.45 L455.55,254.45 L457.60,254.44 L459.65,254.43 L461.70,254.42 L463.75,254.42 L465.80,254.41 L467.85,254.40 L469.90,254.40 L471.94,254.39" fill="none" stroke="#3f9a45" stroke-width="1.1"/>
<path d="M349.00,253.11 L351.05,253.13 L353.10,253.14 L355.15,253.15 L357.20,253.17 L359.25,253.18 L361.29,253.20 L363.34,253.21 L365.39,253.23 L367.44,253.24 L369.49,253.25 L371.54,253.27 L373.59,253.28 L375.64,253.30 L377.69,253.31 L379.74,253.33 L381.79,253.34 L383.83,253.35 L385.88,253.37 L387.93,253.38 L389.98,253.40 L392.03,253.41 L394.08,253.43 L396.13,253.44 L398.18,253.45 L400.23,253.47 L402.28,253.48 L404.33,253.50 L406.37,253.51 L408.42,253.53 L410.47,253.54 L412.52,253.55 L414.57,253.57 L416.62,253.58 L418.67,253.60 L420.72,253.61 L422.77,253.63 L424.82,253.64 L426.87,253.65 L428.91,253.67 L430.96,253.68 L433.01,253.70 L435.06,253.71 L437.11,253.73 L439.16,253.74 L441.21,253.75 L443.26,253.77 L445.31,253.78 L447.36,253.80 L449.41,253.81 L451.45,253.83 L453.50,253.84 L455.55,253.85 L457.60,253.87 L459.65,253.88 L461.70,253.90 L463.75,253.91 L465.80,253.93 L467.85,253.94 L469.90,253.95 L471.94,253.97" fill="none" stroke="#22528f" stroke-width="1.1"/>
<path d="M349.00,250.89 L351.05,250.94 L353.10,250.98 L355.15,251.02 L357.20,251.06 L359.25,251.11 L361.29,251.15 L363.34,251.19 L365.39,251.24 L367.44,251.28 L369.49,251.32 L371.54,251.36 L373.59,251.41 L375.64,251.45 L377.69,251.49 L379.74,251.54 L381.79,251.58 L383.83,251.62 L385.88,251.66 L387.93,251.71 L389.98,251.75 L392.03,251.79 L394.08,251.84 L396.13,251.88 L398.18,251.92 L400.23,251.96 L402.28,252.01 L404.33,252.05 L406.37,252.09 L408.42,252.14 L410.47,252.18 L412.52,252.22 L414.57,252.26 L416.62,252.31 L418.67,252.35 L420.72,252.39 L422.77,252.44 L424.82,252.48 L426.87,252.52 L428.91,252.56 L430.96,252.61 L433.01,252.65 L435.06,252.69 L437.11,252.74 L439.16,252.78 L441.21,252.82 L443.26,252.86 L445.31,252.91 L447.36,252.95 L449.41,252.99 L451.45,253.04 L453.50,253.08 L455.55,253.12 L457.60,253.16 L459.65,253.21 L461.70,253.25 L463.75,253.29 L465.80,253.34 L467.85,253.38 L469.90,253.42 L471.94,253.46" fill="none" stroke="#d23a55" stroke-width="1.1"/>
<path d="M349.00,189.99 L351.05,189.99 L353.10,189.99 L355.15,189.99 L357.20,189.99 L359.25,189.99 L361.29,189.99 L363.34,189.99 L365.39,189.99 L367.44,189.99 L369.49,189.99 L371.54,189.99 L373.59,189.99 L375.64,189.99 L377.69,189.99 L379.74,189.99 L381.79,189.99 L383.83,189.99 L385.88,189.99 L387.93,189.99 L389.98,189.99 L392.03,189.99 L394.08,189.99 L396.13,189.99 L398.18,189.99 L400.23,189.99 L402.28,189.99 L404.33,189.99 L406.37,189.99 L408.42,189.99 L410.47,189.99 L412.52,189.99 L414.57,189.99 L416.62,189.99 L418.67,189.99 L420.72,189.99 L422.77,189.99 L424.82,189.99 L426.87,189.99 L428.91,189.99 L430.96,189.99 L433.01,189.99 L435.06,189.99 L437.11,189.99 L439.16,189.99 L441.21,189.99 L443.26,189.99 L445.31,189.99 L447.36,189.99 L449.41,189.99 L451.45,189.99 L453.50,189.99 L455.55,189.99 L457.60,189.99 L459.65,189.99 L461.70,189.99 L463.75,189.99 L465.80,189.99 L467.85,189.99 L469.90,189.99 L471.94,189.99" fill="none" stroke="#a0a0a0" stroke-width="0.6"/>
<path d="M349.0,253.964 L349.0,255.67 M347.0,253.964 L351.0,253.964 M347.0,255.67 L351.0,255.67" stroke="#8fd28f" stroke-width="0.9"/>
<path d="M349.0,257.11699999999996 L351.1,253.31699999999998 L346.9,253.31699999999998 Z" fill="#2f8a3a"/>
<path d="M349.0,252.25799999999998 L349.0,253.964 M347.0,252.25799999999998 L351.0,252.25799999999998 M347.0,253.964 L351.0,253.964" stroke="#8ea9d2" stroke-width="0.9"/>
<path d="M349.0,250.81099999999998 L351.1,254.611 L346.9,254.611 Z" fill="#1c4380"/>
<path d="M349.0,249.27249999999998 L349.0,252.68449999999999 M347.0,249.27249999999998 L351.0,249.27249999999998 M347.0,252.68449999999999 L351.0,252.68449999999999" stroke="#6a4a55" stroke-width="0.9"/>
<rect x="346.7" y="248.67849999999999" width="4.6" height="4.6" rx="1.6" fill="#b8123c"/>
<path d="M422.4,248.846 L422.4,255.67 M420.4,248.846 L424.4,248.846 M420.4,255.67 L424.4,255.67" stroke="#6a4a55" stroke-width="0.9"/>
<rect x="420.09999999999997" y="249.95799999999997" width="4.6" height="4.6" rx="1.6" fill="#b8123c"/>
<path d="M444.42,249.69899999999998 L444.42,256.52299999999997 M442.42,249.69899999999998 L446.42,249.69899999999998 M442.42,256.52299999999997 L446.42,256.52299999999997" stroke="#6a4a55" stroke-width="0.9"/>
<rect x="442.12" y="250.81099999999998" width="4.6" height="4.6" rx="1.6" fill="#b8123c"/>
<path d="M459.1,250.1255 L459.1,256.9495 M457.1,250.1255 L461.1,250.1255 M457.1,256.9495 L461.1,256.9495" stroke="#6a4a55" stroke-width="0.9"/>
<rect x="456.8" y="251.23749999999998" width="4.6" height="4.6" rx="1.6" fill="#b8123c"/>
<path d="M470.11,249.1872 L470.11,257.7172 M468.11,249.1872 L472.11,249.1872 M468.11,257.7172 L472.11,257.7172" stroke="#6a4a55" stroke-width="0.9"/>
<rect x="467.81" y="251.1522" width="4.6" height="4.6" rx="1.6" fill="#b8123c"/>
<path d="M349.0,187.85649999999998 L349.0,192.1215 M347.0,187.85649999999998 L351.0,187.85649999999998 M347.0,192.1215 L351.0,192.1215" stroke="#333333" stroke-width="0.9"/>
<circle cx="349.0" cy="189.989" r="1.7" fill="#111111"/>
<path d="M422.4,187.85649999999998 L422.4,192.1215 M420.4,187.85649999999998 L424.4,187.85649999999998 M420.4,192.1215 L424.4,192.1215" stroke="#333333" stroke-width="0.9"/>
<circle cx="422.4" cy="189.989" r="1.7" fill="#111111"/>
<path d="M444.42,187.85649999999998 L444.42,192.1215 M442.42,187.85649999999998 L446.42,187.85649999999998 M442.42,192.1215 L446.42,192.1215" stroke="#333333" stroke-width="0.9"/>
<circle cx="444.42" cy="189.989" r="1.7" fill="#111111"/>
<path d="M459.1,187.85649999999998 L459.1,192.1215 M457.1,187.85649999999998 L461.1,187.85649999999998 M457.1,192.1215 L461.1,192.1215" stroke="#333333" stroke-width="0.9"/>
<circle cx="459.1" cy="189.989" r="1.7" fill="#111111"/>
<path d="M470.11,187.85649999999998 L470.11,192.1215 M468.11,187.85649999999998 L472.11,187.85649999999998 M468.11,192.1215 L472.11,192.1215" stroke="#333333" stroke-width="0.9"/>
<circle cx="470.11" cy="189.989" r="1.7" fill="#111111"/>
<text transform="translate(324.6,77.2) rotate(-90)" font-size="8.4" fill="#333" color="#333" text-anchor="middle" textLength="34.4" lengthAdjust="spacingAndGlyphs">% Viability</text>
<text transform="translate(324.4,221) rotate(-90)" font-size="8.4" fill="#333" color="#333" text-anchor="middle" textLength="36" lengthAdjust="spacingAndGlyphs">% Viability</text>
<line x1="341.2" y1="300.4" x2="349.2" y2="300.4" stroke="#111111" stroke-width="0.8"/>
<circle cx="345.2" cy="300.4" r="1.6" fill="#111111"/>
<text x="353.7" y="303.1" font-size="7.84" fill="#222" color="#222" textLength="34.9" lengthAdjust="spacingAndGlyphs" >MM_alone</text>
<line x1="341.2" y1="311.6" x2="349.2" y2="311.6" stroke="#c2173d" stroke-width="0.8"/>
<rect x="343.5" y="309.90000000000003" width="3.4" height="3.4" fill="#c2173d"/>
<text x="353.7" y="314.3" font-size="7.84" fill="#222" color="#222" textLength="41.8" lengthAdjust="spacingAndGlyphs" >MM + CAR T</text>
<text x="396.0" y="310.8" font-size="5.09" fill="#222" color="#222" textLength="7.6" lengthAdjust="spacingAndGlyphs" >ide</text>
<line x1="415.0" y1="300.4" x2="423.0" y2="300.4" stroke="#2d6db3" stroke-width="0.8"/>
<path d="M419.0,298.09999999999997 L421.2,301.9 L416.8,301.9 Z" fill="#1f4f8f"/>
<text x="426.9" y="303.1" font-size="7.84" fill="#222" color="#222" textLength="41.8" lengthAdjust="spacingAndGlyphs" >MM + CAR T</text>
<text x="469.2" y="299.6" font-size="5.09" fill="#222" color="#222" textLength="11.8" lengthAdjust="spacingAndGlyphs" >tecli</text>
<line x1="415.0" y1="311.6" x2="423.0" y2="311.6" stroke="#4caa4a" stroke-width="0.8"/>
<path d="M419.0,313.90000000000003 L421.2,310.1 L416.8,310.1 Z" fill="#3d8f3d"/>
<text x="426.9" y="314.3" font-size="7.84" fill="#222" color="#222" textLength="41.8" lengthAdjust="spacingAndGlyphs" >MM + CAR T</text>
<text x="469.2" y="310.8" font-size="5.09" fill="#222" color="#222" textLength="11.8" lengthAdjust="spacingAndGlyphs" >cilta</text>
</svg>
</body></html>
